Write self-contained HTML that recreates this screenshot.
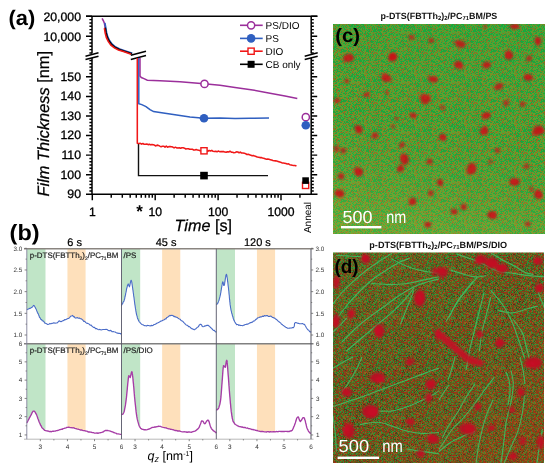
<!DOCTYPE html>
<html><head><meta charset="utf-8"><style>
html,body{margin:0;padding:0;background:#fff;}
svg{display:block;font-family:"Liberation Sans",sans-serif;will-change:transform;text-rendering:geometricPrecision;}
</style></head><body>
<svg width="550" height="471" viewBox="0 0 550 471">
<rect width="550" height="471" fill="#fff"/>
<g id="pa" stroke-linecap="butt">
<path d="M86,16.3H317.5M86,194.3H317.5" stroke="#000" stroke-width="1.5" fill="none"/>
<path d="M92.0,16.3V53.6M92.0,58V194.3M311.2,16.3V53.6M311.2,58V194.3" stroke="#000" stroke-width="1.5" fill="none"/>
<path d="M86.0,16.3H92.0M311.2,16.3H317.2M89.4,19.63H92.0M311.2,19.63H313.8M89.4,22.97H92.0M311.2,22.97H313.8M89.4,26.3H92.0M311.2,26.3H313.8M89.4,29.63H92.0M311.2,29.63H313.8M89.4,32.97H92.0M311.2,32.97H313.8M86.0,36.3H92.0M311.2,36.3H317.2M89.4,39.63H92.0M311.2,39.63H313.8M89.4,42.97H92.0M311.2,42.97H313.8M89.4,46.3H92.0M311.2,46.3H313.8M89.4,49.63H92.0M311.2,49.63H313.8M89.4,52.97H92.0M311.2,52.97H313.8M89.4,191.04H92.0M311.2,191.04H313.8M89.4,187.77H92.0M311.2,187.77H313.8M89.4,184.51H92.0M311.2,184.51H313.8M89.4,181.25H92.0M311.2,181.25H313.8M89.4,177.98H92.0M311.2,177.98H313.8M86.0,174.72H92.0M311.2,174.72H317.2M89.4,171.46H92.0M311.2,171.46H313.8M89.4,168.19H92.0M311.2,168.19H313.8M89.4,164.93H92.0M311.2,164.93H313.8M89.4,161.67H92.0M311.2,161.67H313.8M89.4,158.4H92.0M311.2,158.4H313.8M86.0,155.14H92.0M311.2,155.14H317.2M89.4,151.88H92.0M311.2,151.88H313.8M89.4,148.61H92.0M311.2,148.61H313.8M89.4,145.35H92.0M311.2,145.35H313.8M89.4,142.09H92.0M311.2,142.09H313.8M89.4,138.82H92.0M311.2,138.82H313.8M86.0,135.56H92.0M311.2,135.56H317.2M89.4,132.3H92.0M311.2,132.3H313.8M89.4,129.03H92.0M311.2,129.03H313.8M89.4,125.77H92.0M311.2,125.77H313.8M89.4,122.51H92.0M311.2,122.51H313.8M89.4,119.24H92.0M311.2,119.24H313.8M86.0,115.98H92.0M311.2,115.98H317.2M89.4,112.72H92.0M311.2,112.72H313.8M89.4,109.45H92.0M311.2,109.45H313.8M89.4,106.19H92.0M311.2,106.19H313.8M89.4,102.93H92.0M311.2,102.93H313.8M89.4,99.66H92.0M311.2,99.66H313.8M86.0,96.4H92.0M311.2,96.4H317.2M89.4,93.14H92.0M311.2,93.14H313.8M89.4,89.87H92.0M311.2,89.87H313.8M89.4,86.61H92.0M311.2,86.61H313.8M89.4,83.35H92.0M311.2,83.35H313.8M89.4,80.08H92.0M311.2,80.08H313.8M86.0,76.82H92.0M311.2,76.82H317.2M89.4,73.56H92.0M311.2,73.56H313.8M89.4,70.29H92.0M311.2,70.29H313.8M89.4,67.03H92.0M311.2,67.03H313.8M89.4,63.77H92.0M311.2,63.77H313.8M89.4,60.5H92.0M311.2,60.5H313.8M111.23,194.3V197.8M122.31,194.3V197.8M130.17,194.3V197.8M136.27,194.3V197.8M141.25,194.3V197.8M145.46,194.3V197.8M149.1,194.3V197.8M152.32,194.3V197.8M155.2,194.3V200.3M174.13,194.3V197.8M185.21,194.3V197.8M193.07,194.3V197.8M199.17,194.3V197.8M204.15,194.3V197.8M208.36,194.3V197.8M212,194.3V197.8M215.22,194.3V197.8M218.1,194.3V200.3M237.03,194.3V197.8M248.11,194.3V197.8M255.97,194.3V197.8M262.07,194.3V197.8M267.05,194.3V197.8M271.26,194.3V197.8M274.9,194.3V197.8M278.12,194.3V197.8M281,194.3V200.3M299.93,194.3V197.8M92.3,194.3V200.3" stroke="#000" stroke-width="1.45" fill="none"/>
<path d="M85.5,57.2L98.5,53.8L98.5,55.6L85.5,59Z" fill="#fff"/>
<path d="M85.5,56.2L98.5,52.8M85.5,59.6L98.5,56.2" stroke="#000" stroke-width="1.5"/>
<path d="M304.7,57.2L317.7,53.8L317.7,55.6L304.7,59Z" fill="#fff"/>
<path d="M304.7,56.2L317.7,52.8M304.7,59.6L317.7,56.2" stroke="#000" stroke-width="1.5"/>
<polyline points="102.1,18.3 103.4,20.8 104.4,23.2 105.2,27.5 106,32.5 107.2,37 109,40.8 111.7,44.5 115.2,47.3 119.2,49.3 124.2,51 131.9,53.6" stroke="#9b2f9b" stroke-width="1.6" fill="none"/>
<polyline points="104.9,22.9 105.7,27.2 106.5,32.2 107.7,36.7 109.5,40.5 112.2,44.2 115.7,47 119.7,49 124.7,50.7 132.4,53.3" stroke="#2f5fc0" stroke-width="1.6" fill="none"/>
<polyline points="105.2,27.7 106,32.7 107.2,37.2 109,41 111.7,44.7 115.2,47.5 119.2,49.5 124.2,51.2 131.9,53.8" stroke="#000" stroke-width="1.6" fill="none"/>
<polyline points="104.4,28.1 105.2,33.1 106.4,37.6 108.2,41.4 110.9,45.1 114.4,47.9 118.4,49.9 123.4,51.6 131.1,54.2" stroke="#f01818" stroke-width="1.6" fill="none"/>
<path d="M130.5,56.2L146.5,52.3L146.5,54.6L130.5,58.5Z" fill="#fff"/>
<path d="M130.8,55.2L146,51.2M130.8,59.4L146,55.4" stroke="#000" stroke-width="1.6"/>
<polyline points="138.5,143.5 138.5,175.6 268,175.6" stroke="#111" stroke-width="1.4" fill="none"/>
<polyline points="137.3,58 137.3,143.2 139,143.44 140.3,143.34 141.6,144.18 142.9,143.51 144.2,144.3 145.5,144.2 146.8,143.91 148.1,144.68 149.4,144.16 150.7,144.85 152,144.48 153.3,144.65 154.6,145.26 155.9,145.97 157.2,145.12 158.5,145.4 159.8,146.11 161.1,146.7 162.4,146.32 163.7,146.21 165,147.16 166.3,146 167.6,147.27 168.9,146.62 170.2,146.55 171.5,146.66 172.8,147.06 174.1,147.91 175.4,147.17 176.7,147.87 178,148.09 179.3,147.86 180.6,148.24 181.9,147.7 183.2,147.84 184.5,148.18 185.8,148.99 187.1,148.77 188.4,148.76 189.7,149.28 191,149.23 192.3,149.16 193.6,149.99 194.9,150 196.2,149.5 197.5,150.1 198.8,150.17 200.1,150.8 201.4,150.74 202.7,150.26 204,151.37 205.3,150.22 206.6,150.7 207.9,151.23 209.2,150.44 210.5,150.97 211.8,150.4 213.1,151.34 214.4,151.53 215.7,151.32 217,151.8 218.3,151.07 219.6,151.66 220.9,151.58 222.2,151.61 223.5,151.5 224.8,152.09 226.1,152.3 227.4,151.7 228.7,152.02 230,151.23 231.3,152.19 232.6,152.17 233.9,152.71 235.2,152.53 236.5,151.83 237.8,152.03 239.1,152.7 240.4,152.1 241.7,153.02 243,152.91 244.3,153.15 245.6,153.68 246.9,154.49 248.2,154.35 249.5,154.74 250.8,155.14 252.1,155.79 253.4,155.54 254.7,156.1 256,156.48 257.3,157.02 258.6,157.28 259.9,157.62 261.2,157.52 262.5,157.92 263.8,158.19 265.1,158.86 266.4,159.22 267.7,158.96 269,159.29 270.3,159.63 271.6,159.94 272.9,160.42 274.2,160.8 275.5,160.88 276.8,161.01 278.1,161.6 279.4,161.87 280.7,162.32 282,162.9 283.3,163.02 284.6,163.2 285.9,163.58 287.2,163.93 288.5,163.8 289.8,164.7 291.1,164.92 292.4,165.29 293.7,165.55 295,165.57 296.3,165.88 296.5,166" stroke="#f01818" stroke-width="1.55" fill="none" stroke-linejoin="round"/>
<polyline points="138.8,58 138.8,103.6 141.8,104.6 146,106.6 150,109.6 153.6,111.6 160,112.6 170,114.1 180,115.6 190,117 204,118.2 220,118.1 235,118.4 250,118.2 269,118" stroke="#2f5fc0" stroke-width="1.5" fill="none"/>
<polyline points="140,58 140,76 141.3,77.5 144,78.6 147.3,80.2 160,80.8 180,81.8 195,83 204,83.8 220,85.2 235,87.4 252.7,90 270,93.2 285,95.9 297.3,98.4" stroke="#9b2f9b" stroke-width="1.5" fill="none"/>
<circle cx="204.5" cy="83.9" r="3.6" fill="#fff" stroke="#9b2f9b" stroke-width="1.5"/>
<circle cx="204" cy="118.3" r="4.3" fill="#2f5fc0"/>
<rect x="200.9" y="147.70000000000002" width="6.2" height="6.2" fill="#fff" stroke="#f01818" stroke-width="1.4"/>
<rect x="200.2" y="171.79999999999998" width="7.6" height="7.6" fill="#000"/>
<circle cx="305.8" cy="117.2" r="3.6" fill="#fff" stroke="#9b2f9b" stroke-width="1.5"/>
<circle cx="305.8" cy="125.3" r="4.3" fill="#2f5fc0"/>
<rect x="302.5" y="182.3" width="6.2" height="6.2" fill="#fff" stroke="#f01818" stroke-width="1.4"/>
<rect x="302.3" y="177.29999999999998" width="6.6" height="6.6" fill="#000"/>
<path d="M240,25.3H262.7" stroke="#9b2f9b" stroke-width="1.6"/>
<circle cx="251.1" cy="25.3" r="3.6" fill="#fff" stroke="#9b2f9b" stroke-width="1.5"/>
<text x="265.6" y="28.9" font-size="10">PS/DIO</text>
<path d="M240,38.4H262.7" stroke="#2f5fc0" stroke-width="1.6"/>
<circle cx="251.1" cy="38.4" r="4.3" fill="#2f5fc0"/>
<text x="265.6" y="42" font-size="10">PS</text>
<path d="M240,51.2H262.7" stroke="#f01818" stroke-width="1.6"/>
<rect x="248.0" y="48.1" width="6.2" height="6.2" fill="#fff" stroke="#f01818" stroke-width="1.4"/>
<text x="265.6" y="54.8" font-size="10">DIO</text>
<path d="M240,64.3H262.7" stroke="#000" stroke-width="1.6"/>
<rect x="247.6" y="60.8" width="7" height="7" fill="#000"/>
<text x="265.6" y="67.9" font-size="10">CB only</text>
<g font-size="12.3" text-anchor="end" stroke="#000" stroke-width="0.3">
<text x="81" y="20.7">20,000</text><text x="81" y="40.6">10,000</text>
<text x="81" y="198.2">90</text>
<text x="81" y="178.62">100</text>
<text x="81" y="159.04">110</text>
<text x="81" y="139.46">120</text>
<text x="81" y="119.88">130</text>
<text x="81" y="100.3">140</text>
<text x="81" y="80.72">150</text>
</g>
<g font-size="12.2" text-anchor="middle" stroke="#000" stroke-width="0.3">
<text x="92.3" y="215.6">1</text>
<text x="155.2" y="215.6">10</text>
<text x="218.1" y="215.6">100</text>
<text x="281" y="215.6">1000</text>
</g>
<text x="139.5" y="217" font-size="17" font-weight="bold" text-anchor="middle">*</text>
<text x="174.6" y="231" font-size="16.2" stroke="#000" stroke-width="0.25"><tspan font-style="italic">Time</tspan> [s]</text>
<text transform="translate(49.4,123.7) rotate(-90)" font-size="16.4" stroke="#000" stroke-width="0.25" text-anchor="middle" textLength="145.5" lengthAdjust="spacingAndGlyphs"><tspan font-style="italic">Film Thickness</tspan> [nm]</text>
<text transform="translate(310.6,217.5) rotate(-90)" font-size="10" text-anchor="middle">Anneal</text>
<text x="8.5" y="25" font-size="21" font-weight="bold" textLength="26.7" lengthAdjust="spacingAndGlyphs">(a)</text>
</g>
<g id="pb">
<clipPath id="clip00"><path d="M26.8,309.7C27.17,309.5 28.22,308.9 29,308.5C29.78,308.1 30.6,307.73 31.5,307.3C32.4,306.87 33.48,305.2 34.4,305.9C35.32,306.6 36.03,309.45 37,311.5C37.97,313.55 39.2,316.58 40.2,318.2C41.2,319.82 41.95,320.25 43,321.2C44.05,322.15 45.33,323.5 46.5,323.9C47.67,324.3 48.77,323.75 50,323.6C51.23,323.45 52.73,323.17 53.9,323C55.07,322.83 56.12,322.93 57,322.6C57.88,322.27 58.53,321.1 59.2,321C59.87,320.9 60.2,322.12 61,322C61.8,321.88 62.7,320.93 64,320.3C65.3,319.67 67.47,318.98 68.8,318.2C70.13,317.42 70.97,315.7 72,315.6C73.03,315.5 73.77,317.17 75,317.6C76.23,318.03 78.07,317.72 79.4,318.2C80.73,318.68 81.58,319.62 83,320.5C84.42,321.38 86.4,322.58 87.9,323.5C89.4,324.42 90.58,325.12 92,326C93.42,326.88 94.9,328.2 96.4,328.8C97.9,329.4 99.23,329.42 101,329.6C102.77,329.78 105.17,329.62 107,329.9C108.83,330.18 110.5,330.87 112,331.3C113.5,331.73 114.72,332.1 116,332.5C117.28,332.9 118.78,333.55 119.7,333.7C120.62,333.85 121.2,333.45 121.5,333.4L121.5,248.8L26.8,248.8Z"/></clipPath>
<rect x="26.8" y="248.8" width="18.69" height="95" fill="#c0e5c7" clip-path="url(#clip00)"/>
<rect x="67.44" y="248.8" width="18.15" height="95" fill="#fee0bb" clip-path="url(#clip00)"/>
<clipPath id="clip01"><path d="M121.5,305.5C122,304.43 123.63,301.93 124.5,299.1C125.37,296.27 126.08,290.98 126.7,288.5C127.32,286.02 127.75,284.55 128.2,284.2C128.65,283.85 128.88,287 129.4,286.4C129.92,285.8 130.7,279.9 131.3,280.6C131.9,281.3 132.35,286.28 133,290.6C133.65,294.92 134.48,302.08 135.2,306.5C135.92,310.92 136.42,314.33 137.3,317.1C138.18,319.87 139.08,321.68 140.5,323.1C141.92,324.52 143.68,325.25 145.8,325.6C147.92,325.95 150.55,325.97 153.2,325.2C155.85,324.43 159.57,322.12 161.7,321C163.83,319.88 164.52,319.43 166,318.5C167.48,317.57 169.27,315.73 170.6,315.4C171.93,315.07 172.67,316.03 174,316.5C175.33,316.97 177.1,317.32 178.6,318.2C180.1,319.08 181.58,320.63 183,321.8C184.42,322.97 185.35,323.93 187.1,325.2C188.85,326.47 191.73,329.05 193.5,329.4C195.27,329.75 196.57,328.22 197.7,327.3C198.83,326.38 199.42,324 200.3,323.9C201.18,323.8 202.05,326.45 203,326.7C203.95,326.95 205.12,325.58 206,325.4C206.88,325.22 207.2,324.93 208.3,325.6C209.4,326.27 211.27,328.27 212.6,329.4C213.93,330.53 215.68,331.9 216.3,332.4L216.3,248.8L121.5,248.8Z"/></clipPath>
<rect x="121.5" y="248.8" width="18.69" height="95" fill="#c0e5c7" clip-path="url(#clip01)"/>
<rect x="162.13" y="248.8" width="18.15" height="95" fill="#fee0bb" clip-path="url(#clip01)"/>
<clipPath id="clip02"><path d="M216.3,304.3C216.63,303.95 217.6,303.9 218.3,302.2C219,300.5 219.77,297.45 220.5,294.1C221.23,290.75 222.08,283.55 222.7,282.1C223.32,280.65 223.58,286.67 224.2,285.4C224.82,284.13 225.68,273.97 226.4,274.5C227.12,275.03 227.78,282.97 228.5,288.6C229.22,294.23 229.78,303.02 230.7,308.3C231.62,313.58 232.9,317.58 234,320.3C235.1,323.02 235.85,323.77 237.3,324.6C238.75,325.43 240.33,325.65 242.7,325.3C245.07,324.95 248.95,323.7 251.5,322.5C254.05,321.3 256.25,319.1 258,318.1C259.75,317.1 260.55,316.87 262,316.5C263.45,316.13 264.82,315.75 266.7,315.9C268.58,316.05 271.12,316.3 273.3,317.4C275.48,318.5 277.62,320.82 279.8,322.5C281.98,324.18 284.58,326.52 286.4,327.5C288.22,328.48 289.43,328.52 290.7,328.4C291.97,328.28 293.27,327.78 294,326.8C294.73,325.82 294.18,322.97 295.1,322.5C296.02,322.03 298.05,323.75 299.5,324C300.95,324.25 302.53,323.17 303.8,324C305.07,324.83 305.9,327.62 307.1,329C308.3,330.38 310.35,331.75 311,332.3L311,248.8L216.3,248.8Z"/></clipPath>
<rect x="216.3" y="248.8" width="18.69" height="95" fill="#c0e5c7" clip-path="url(#clip02)"/>
<rect x="256.94" y="248.8" width="18.15" height="95" fill="#fee0bb" clip-path="url(#clip02)"/>
<clipPath id="clip10"><path d="M26.8,422.9C27.33,421.9 28.9,418.83 30,416.9C31.1,414.97 32.4,411.85 33.4,411.3C34.4,410.75 35.07,411.92 36,413.6C36.93,415.28 37.95,419 39,421.4C40.05,423.8 41.02,426.4 42.3,428C43.58,429.6 44.85,430.43 46.7,431C48.55,431.57 51.17,431.6 53.4,431.4C55.63,431.2 57.87,430.43 60.1,429.8C62.33,429.17 64.93,427.97 66.8,427.6C68.67,427.23 69.43,427.33 71.3,427.6C73.17,427.87 75.4,428.57 78,429.2C80.6,429.83 83.93,430.73 86.9,431.4C89.87,432.07 93.2,433.05 95.8,433.2C98.4,433.35 100.83,432.78 102.5,432.3C104.17,431.82 104.32,430.45 105.8,430.3C107.28,430.15 109.35,430.77 111.4,431.4C113.45,432.03 116.42,433.58 118.1,434.1C119.78,434.62 120.93,434.43 121.5,434.5L121.5,343.8L26.8,343.8Z"/></clipPath>
<rect x="26.8" y="343.8" width="18.69" height="95.4" fill="#c0e5c7" clip-path="url(#clip10)"/>
<rect x="67.44" y="343.8" width="18.15" height="95.4" fill="#fee0bb" clip-path="url(#clip10)"/>
<clipPath id="clip11"><path d="M121.5,414.7C121.9,414.32 123.13,414.82 123.9,412.4C124.67,409.98 125.43,405.2 126.1,400.2C126.77,395.2 127.45,386.48 127.9,382.4C128.35,378.32 128.42,376.53 128.8,375.7C129.18,374.87 129.68,378.03 130.2,377.4C130.72,376.77 131.38,371.07 131.9,371.9C132.42,372.73 132.77,377.32 133.3,382.4C133.83,387.48 134.43,396.28 135.1,402.4C135.77,408.52 136.38,414.82 137.3,419.1C138.22,423.38 139.12,426.35 140.6,428.1C142.08,429.85 144.15,429.72 146.2,429.6C148.25,429.48 150.67,427.92 152.9,427.4C155.13,426.88 157.37,426.38 159.6,426.5C161.83,426.62 163.7,427.47 166.3,428.1C168.9,428.73 172.23,429.68 175.2,430.3C178.17,430.92 181.13,431.55 184.1,431.8C187.07,432.05 190.58,432.42 193,431.8C195.42,431.18 197.12,429.95 198.6,428.1C200.08,426.25 200.87,421.45 201.9,420.7C202.93,419.95 203.75,423.67 204.8,423.6C205.85,423.53 207.12,419.55 208.2,420.3C209.28,421.05 209.95,425.95 211.3,428.1C212.65,430.25 215.47,432.35 216.3,433.2L216.3,343.8L121.5,343.8Z"/></clipPath>
<rect x="121.5" y="343.8" width="18.69" height="95.4" fill="#c0e5c7" clip-path="url(#clip11)"/>
<rect x="162.13" y="343.8" width="18.15" height="95.4" fill="#fee0bb" clip-path="url(#clip11)"/>
<clipPath id="clip12"><path d="M216.3,410C216.62,409.82 217.5,410.45 218.2,408.9C218.9,407.35 219.85,405.18 220.5,400.7C221.15,396.22 221.6,387.83 222.1,382C222.6,376.17 222.98,368.1 223.5,365.7C224.02,363.3 224.65,368.47 225.2,367.6C225.75,366.73 226.3,359.27 226.8,360.5C227.3,361.73 227.7,369.08 228.2,375C228.7,380.92 229.22,389.38 229.8,396C230.38,402.62 231,410.22 231.7,414.7C232.4,419.18 232.75,420.95 234,422.9C235.25,424.85 237.37,425.62 239.2,426.4C241.03,427.18 242.87,427.1 245,427.6C247.13,428.1 249.67,428.82 252,429.4C254.33,429.98 256.27,430.7 259,431.1C261.73,431.5 264.9,431.73 268.4,431.8C271.9,431.87 276.3,431.62 280,431.5C283.7,431.38 288.27,431.95 290.6,431.1C292.93,430.25 292.83,428.75 294,426.4C295.17,424.05 296.53,417.85 297.6,417C298.67,416.15 299.35,421.22 300.4,421.3C301.45,421.38 302.82,416.45 303.9,417.5C304.98,418.55 306.02,425.15 306.9,427.6C307.78,430.05 308.52,431.23 309.2,432.2C309.88,433.17 310.7,433.2 311,433.4L311,343.8L216.3,343.8Z"/></clipPath>
<rect x="216.3" y="343.8" width="18.69" height="95.4" fill="#c0e5c7" clip-path="url(#clip12)"/>
<rect x="256.94" y="343.8" width="18.15" height="95.4" fill="#fee0bb" clip-path="url(#clip12)"/>
<g font-size="8" fill="#222" stroke="#222" stroke-width="0.18">
<text x="29.8" y="258.4" textLength="88.6" lengthAdjust="spacingAndGlyphs">p-DTS(FBTTh<tspan font-size="5" dy="1.5">2</tspan><tspan dy="-1.5">)</tspan><tspan font-size="5" dy="1.5">2</tspan><tspan dy="-1.5">/PC</tspan><tspan font-size="5" dy="1.5">71</tspan><tspan dy="-1.5">BM</tspan></text>
<text x="29.8" y="353.4" textLength="88.6" lengthAdjust="spacingAndGlyphs">p-DTS(FBTTh<tspan font-size="5" dy="1.5">2</tspan><tspan dy="-1.5">)</tspan><tspan font-size="5" dy="1.5">2</tspan><tspan dy="-1.5">/PC</tspan><tspan font-size="5" dy="1.5">71</tspan><tspan dy="-1.5">BM</tspan></text>
<text x="123.5" y="258.4">/PS</text>
<text x="123.5" y="353.4">/PS/DIO</text>
</g>
<polyline points="26.8,309.7 27.74,309.29 29,308.72 29.8,308.37 30.63,308.11 31.5,307.52 32.45,306.97 33.44,305.43 34.4,305.87 34.84,306.81 35.27,307.34 35.68,308.55 36.1,308.94 36.54,310.39 37,311.27 37.37,312.35 37.77,313.25 38.17,313.66 38.59,314.76 39,315.71 39.41,317.13 39.82,317.77 40.2,317.89 40.91,319.48 41.58,319.62 42.26,320.66 43,320.86 43.83,321.52 44.71,323.09 45.61,323.18 46.5,323.64 47.65,324.47 48.8,324.17 50,323.41 50.97,323.88 51.97,323.34 52.97,323.3 53.9,322.73 55.03,323.29 56.06,322.99 57,323.02 57.81,322.41 58.53,321.2 59.2,320.88 60.05,321.21 61,321.68 61.84,321.26 62.82,320.82 64,320.39 64.87,319.47 65.87,319.67 66.91,318.95 67.91,318.49 68.8,318.49 69.72,317.46 70.51,316.48 71.25,315.92 72,315.78 72.73,315.41 73.43,316.83 74.16,316.66 75,317.82 76.02,318.12 77.16,317.45 78.32,318.22 79.4,318.08 80.33,318.71 81.17,318.76 82.03,319.43 83,320.21 83.75,321.37 84.57,321.19 85.42,322.22 86.28,322.9 87.11,323.42 87.9,323.36 88.77,323.9 89.58,324.54 90.38,325.25 91.17,325.14 92,326.22 92.86,326.84 93.73,327.52 94.61,327.39 95.5,328.76 96.4,328.43 97.28,328.95 98.16,329.39 99.05,329.79 99.99,329.36 101,329.98 101.93,329.71 102.93,329.53 103.97,329.55 105.02,329.45 106.04,329.41 107,329.58 108.08,330.28 109.12,330.84 110.12,330.4 111.08,330.61 112,331.74 113.08,331.64 114.08,331.83 115.04,331.97 116,332.58 116.99,333.13 117.99,333.15 118.92,333.44 119.7,333.3 120.83,334 121.5,333.4" stroke="#4a6cc8" stroke-width="1.1" fill="none" stroke-linejoin="round"/>
<polyline points="121.5,305.5 121.78,304.54 122.16,304.25 122.62,303.73 123.11,302.14 123.61,301.63 124.09,300.7 124.5,299.22 124.71,298.6 124.92,297.15 125.12,296.54 125.32,295.33 125.51,294.97 125.69,293.48 125.87,292.64 126.05,292.17 126.22,291.12 126.38,290.38 126.54,289.13 126.7,288.49 127.05,287.34 127.36,286 127.66,284.96 127.93,284.46 128.2,283.88 128.77,285.28 129.4,286.84 129.68,286.13 129.99,284.59 130.32,283.01 130.66,281.51 130.99,280.38 131.3,280.4 131.46,281.15 131.61,281.71 131.76,281.9 131.91,283.08 132.06,283.99 132.2,284.94 132.35,286.01 132.51,287.25 132.66,288.09 132.83,289.59 133,290.4 133.12,291.38 133.24,292.48 133.36,293.29 133.49,293.86 133.61,295.41 133.74,296.12 133.88,297.06 134.01,297.56 134.14,299.06 134.28,299.81 134.41,301.2 134.55,302 134.68,303.28 134.81,304.07 134.94,305.1 135.07,305.56 135.2,306.63 135.37,307.8 135.54,308.92 135.71,309.5 135.87,310.9 136.03,311.86 136.19,312.59 136.35,313.71 136.52,314.51 136.7,314.91 136.89,315.69 137.09,316.09 137.3,317.4 137.68,318.62 138.07,319.23 138.48,320.35 138.92,321.21 139.4,321.98 139.92,322.17 140.5,323.35 141.24,323.83 142.03,324.45 142.89,324.68 143.8,325.22 144.77,325.64 145.8,325.72 146.62,325.91 147.48,325.37 148.37,325.52 149.3,325.77 150.25,325.89 151.22,325.38 152.21,325.62 153.2,325.32 154.02,324.51 154.9,324.55 155.8,323.92 156.72,323.31 157.64,322.9 158.55,322.58 159.42,321.97 160.25,321.52 161.02,320.95 161.7,320.97 162.82,320.29 163.71,320.01 164.46,319.54 165.19,318.78 166,318.86 166.76,317.52 167.56,317.27 168.36,316.53 169.14,316.06 169.9,315.33 170.6,315.7 171.78,315.32 172.82,315.52 174,316.6 174.85,316.41 175.76,317.09 176.72,317.21 177.67,317.8 178.6,318.61 179.35,318.98 180.09,319.19 180.83,320.18 181.56,320.67 182.29,321.07 183,321.48 183.8,322.57 184.55,323.19 185.31,324.2 186.14,324.89 187.1,325.3 187.8,325.6 188.59,326.7 189.43,326.54 190.29,327.29 191.16,328.31 192,328.88 192.79,328.85 193.5,329.52 194.51,329.76 195.42,328.96 196.24,328.47 197,327.66 197.7,327.11 198.46,326.82 199.09,325.19 199.68,324.76 200.3,324.27 200.96,324.35 201.62,324.95 202.3,326.58 203,326.7 204,326.44 205.04,325.71 206,325.84 207.07,325.17 208.3,325.41 208.91,326.01 209.61,326.29 210.36,327.43 211.14,328.01 211.89,328.59 212.6,329.65 213.44,330.39 214.3,330.36 215.12,331.48 215.81,331.8 216.3,332.4" stroke="#4a6cc8" stroke-width="1.1" fill="none" stroke-linejoin="round"/>
<polyline points="216.3,304.3 216.81,304.37 217.54,303.68 218.3,301.97 218.54,301.38 218.78,300.57 219.02,300.53 219.26,299.04 219.51,298.39 219.76,297.29 220.01,296.41 220.25,295.3 220.5,294.32 220.67,292.92 220.85,292.55 221.02,291.1 221.2,290.22 221.38,288.92 221.56,287.76 221.73,286.87 221.9,285.75 222.07,284.67 222.24,284.13 222.4,283.22 222.55,282.12 222.7,281.88 223.11,282.14 223.45,284.06 223.79,285.56 224.2,285.44 224.36,284.47 224.53,284.37 224.7,283.02 224.89,281.96 225.07,280.79 225.26,279.39 225.45,277.97 225.65,277.18 225.84,275.7 226.03,274.94 226.22,274.89 226.4,274.23 226.54,274.52 226.68,275.38 226.82,275.24 226.96,276.62 227.1,277.32 227.24,278.01 227.38,278.9 227.52,280.45 227.66,281.73 227.8,282.24 227.94,283.77 228.08,285.07 228.22,286.24 228.36,287.29 228.5,288.29 228.6,289.46 228.69,290.49 228.79,290.67 228.88,291.7 228.97,293.14 229.06,294.04 229.15,294.87 229.25,295.25 229.34,296.84 229.43,298.04 229.53,299.03 229.62,299.73 229.72,300.11 229.81,301.78 229.92,302.16 230.02,303.46 230.12,304.64 230.23,305.3 230.34,305.63 230.46,306.59 230.58,307.93 230.7,307.98 230.92,309.6 231.15,310.57 231.39,311.45 231.63,312.92 231.89,313.42 232.15,314.44 232.41,315.61 232.68,316.21 232.95,317.03 233.22,318.28 233.48,319.17 233.74,319.99 234,319.97 234.53,321.44 235.02,322.27 235.52,323.25 236.04,323.71 236.63,324.58 237.3,324.49 238.04,324.57 238.82,325.41 239.66,325.08 240.57,325.58 241.58,325.43 242.7,325.67 243.45,325.22 244.28,325.1 245.16,324.55 246.09,324.56 247.03,324 247.98,324.13 248.92,323.58 249.83,322.89 250.7,322.62 251.5,322.38 252.44,322.22 253.35,321.16 254.22,321.04 255.05,320.36 255.85,319.24 256.6,319.19 257.32,318.16 258,317.76 259.16,317.56 260.11,316.83 261.01,317.1 262,316.48 262.86,316.12 263.74,316.35 264.65,315.52 265.63,316.07 266.7,315.5 267.54,315.66 268.45,316.48 269.4,316.37 270.38,316.15 271.37,316.3 272.35,317.4 273.3,317.55 274.03,318.1 274.75,317.97 275.47,318.95 276.19,319.29 276.91,319.8 277.63,320.52 278.35,321.41 279.07,321.78 279.8,322.4 280.54,322.76 281.3,323.99 282.08,324.46 282.85,325.23 283.62,325.5 284.37,326.46 285.09,326.68 285.77,327.21 286.4,327.57 287.66,328.29 288.76,328.27 289.75,328.08 290.7,327.98 291.65,327.97 292.55,327.51 293.35,327.8 294,326.78 294.35,326.01 294.48,324.01 294.64,323.2 295.1,322.85 295.77,322.56 296.63,322.69 297.59,323.2 298.57,323.34 299.5,323.69 300.61,323.68 301.72,323.67 302.8,323.58 303.8,324.34 304.4,324.25 304.95,325.14 305.47,326.09 305.99,326.97 306.53,328.02 307.1,328.76 307.9,329.81 308.8,330.18 309.69,331.68 310.46,331.76 311,332.3" stroke="#4a6cc8" stroke-width="1.1" fill="none" stroke-linejoin="round"/>
<polyline points="26.8,422.9 27.09,422.57 27.48,421.71 27.94,420.81 28.45,419.74 28.98,418.98 29.5,417.6 30,416.98 30.48,415.91 30.98,415.13 31.49,414.17 31.99,412.96 32.48,412.16 32.95,411.44 33.4,411.17 34.31,411.07 35.13,412.08 36,413.84 36.31,414.16 36.63,414.89 36.96,415.82 37.29,416.65 37.62,417.83 37.96,418.79 38.31,419.47 38.65,420.43 39,421.49 39.39,422.53 39.78,423.29 40.17,424.09 40.56,425.24 40.97,425.59 41.39,426.41 41.83,427.5 42.3,427.96 43.07,428.64 43.87,429.61 44.72,430.4 45.66,430.63 46.7,430.93 47.54,431.01 48.45,431.15 49.41,431.66 50.41,431.5 51.42,431.73 52.42,431.25 53.4,431.27 54.36,431.06 55.31,431.05 56.27,430.67 57.23,430.51 58.19,430.31 59.14,429.98 60.1,429.58 61.08,429.27 62.08,429.39 63.09,428.62 64.08,428.42 65.05,428.04 65.96,427.82 66.8,427.39 67.81,427.34 68.65,427.17 69.45,427.4 70.29,427.67 71.3,427.65 72.12,427.92 72.99,427.78 73.9,427.9 74.86,428.41 75.86,428.65 76.91,428.96 78,429.14 78.8,429.46 79.64,429.72 80.51,430.03 81.4,429.96 82.31,430.26 83.23,430.68 84.16,430.61 85.08,430.78 86,431.1 86.9,431.19 87.8,431.74 88.72,431.99 89.64,431.96 90.57,432.09 91.49,432.28 92.4,432.57 93.29,432.66 94.16,432.98 95,433.17 95.8,433.07 96.9,433 97.97,433.27 99,432.83 99.98,432.75 100.9,432.61 101.74,432.45 102.5,432.1 103.51,431.76 104.22,431.08 104.89,430.73 105.8,430.33 106.59,430.48 107.46,430.45 108.39,430.69 109.37,430.84 110.38,431.06 111.4,431.56 112.21,431.75 113.08,432.24 113.98,432.51 114.89,432.89 115.78,433.07 116.63,433.71 117.41,433.8 118.1,433.92 119.6,434.2 120.74,434.32 121.5,434.5" stroke="#a63ca6" stroke-width="1.35" fill="none" stroke-linejoin="round"/>
<polyline points="121.5,414.7 122.13,414.35 123.03,414.07 123.9,412.29 124.08,411.58 124.25,411.26 124.43,410.4 124.6,409.32 124.78,408.46 124.95,407.57 125.12,406.7 125.29,405.93 125.46,404.92 125.62,403.66 125.79,402.35 125.94,401.31 126.1,400.13 126.21,399.3 126.31,398.26 126.42,397.63 126.52,396.79 126.63,395.75 126.73,394.41 126.83,393.59 126.93,392.37 127.03,391.59 127.13,390.41 127.23,389.62 127.32,388.53 127.41,387.2 127.5,386.34 127.59,385.72 127.67,384.63 127.75,383.8 127.83,383.05 127.9,382.53 128.07,381.01 128.21,379.45 128.32,378.55 128.43,377.45 128.53,376.48 128.65,376.28 128.8,375.66 129.45,376.25 130.2,377.64 130.47,376.48 130.76,375.55 131.05,374.09 131.34,373.01 131.63,371.92 131.9,371.76 132.04,372.11 132.17,372.56 132.29,373.38 132.41,374.07 132.53,375.18 132.65,375.95 132.77,377.14 132.9,378.29 133.03,379.94 133.16,381.2 133.3,382.57 133.37,383.17 133.45,383.82 133.52,384.49 133.6,385.67 133.67,386.36 133.75,387.03 133.83,388.01 133.91,388.91 133.99,390.18 134.07,391.23 134.15,391.86 134.23,393.15 134.32,393.9 134.4,395.06 134.48,396.13 134.57,396.99 134.66,398.04 134.74,398.77 134.83,399.52 134.92,400.68 135.01,401.59 135.1,402.24 135.21,403.37 135.32,404.35 135.43,405.23 135.54,406.39 135.65,407.43 135.76,408.48 135.88,409.59 135.99,410.42 136.11,411.68 136.22,412.54 136.35,413.53 136.47,414.32 136.6,415.2 136.73,415.99 136.87,416.95 137.01,417.53 137.15,418.41 137.3,419.19 137.58,420.36 137.85,421.4 138.14,422.39 138.43,423.41 138.74,424.48 139.06,425.45 139.41,426.32 139.78,427.01 140.17,427.44 140.6,428.31 141.39,428.71 142.26,429.4 143.19,429.34 144.17,429.78 145.18,429.74 146.2,429.83 147.1,429.67 148.03,429.3 148.99,429.02 149.97,428.57 150.95,428.1 151.93,427.53 152.9,427.41 153.86,427.38 154.81,426.84 155.77,427.03 156.73,426.66 157.69,426.48 158.64,426.24 159.6,426.45 160.54,426.43 161.45,426.83 162.36,427.18 163.27,427.45 164.23,427.58 165.23,427.76 166.3,427.9 167.1,428.39 167.94,428.54 168.81,428.85 169.7,428.91 170.61,429.4 171.53,429.3 172.46,429.58 173.38,429.78 174.3,430.17 175.2,430.5 176.09,430.32 176.98,430.74 177.87,430.98 178.76,430.88 179.65,430.97 180.54,431.37 181.43,431.65 182.32,431.8 183.21,431.83 184.1,431.76 185.11,431.85 186.14,431.99 187.19,432.25 188.24,432.01 189.27,432.03 190.28,432.18 191.24,432.31 192.16,431.81 193,431.57 193.99,431.31 194.91,431.15 195.75,430.72 196.53,429.98 197.26,429.38 197.95,428.9 198.6,428.17 199.07,427.48 199.5,426.62 199.89,425.31 200.25,424.49 200.59,423.65 200.91,422.77 201.24,421.63 201.56,421.27 201.9,420.77 202.64,421.06 203.34,421.76 204.05,423.17 204.8,423.77 205.45,423.15 206.14,421.99 206.84,420.97 207.53,420.18 208.2,420.1 208.55,420.52 208.87,421.4 209.19,421.98 209.49,423.28 209.81,424.33 210.14,425.45 210.49,426.49 210.87,427.4 211.3,428.31 211.96,429.24 212.74,429.97 213.57,430.97 214.41,431.31 215.18,431.99 215.83,432.54 216.3,433.2" stroke="#a63ca6" stroke-width="1.35" fill="none" stroke-linejoin="round"/>
<polyline points="216.3,410 217.11,409.82 218.2,408.84 218.44,408.34 218.7,407.85 218.96,407.2 219.23,406.11 219.5,405.41 219.77,404.5 220.03,403.3 220.27,401.92 220.5,400.75 220.6,399.94 220.69,399.34 220.78,398.44 220.87,397.82 220.95,396.93 221.04,395.57 221.12,394.97 221.2,393.97 221.28,392.76 221.36,391.66 221.43,390.83 221.51,389.74 221.58,388.9 221.66,387.97 221.73,386.69 221.8,385.65 221.88,384.77 221.95,383.92 222.03,383.04 222.1,382.04 222.18,380.91 222.26,379.9 222.34,379.11 222.42,377.88 222.5,376.57 222.57,375.68 222.65,374.51 222.72,373.68 222.79,372.35 222.87,371.45 222.94,370.4 223.02,369.69 223.09,369.08 223.17,368.07 223.25,367.28 223.33,366.92 223.42,365.95 223.5,365.63 224.34,366.23 225.2,367.35 225.41,367.13 225.61,365.88 225.82,364.41 226.02,363.14 226.22,361.96 226.42,360.91 226.61,360.42 226.8,360.28 226.89,360.66 226.98,361.47 227.07,361.76 227.16,362.44 227.25,363.01 227.33,363.96 227.42,365.23 227.5,366.09 227.58,367.05 227.67,367.91 227.75,369.21 227.84,370.55 227.93,371.54 228.02,372.78 228.11,374.08 228.2,375.07 228.27,375.85 228.33,376.37 228.4,377.2 228.46,378.43 228.53,379.13 228.6,380.26 228.66,381.15 228.73,382.12 228.8,382.79 228.87,384.05 228.93,384.89 229,385.91 229.07,386.51 229.14,387.79 229.21,388.57 229.28,389.8 229.36,390.77 229.43,391.33 229.5,392.36 229.58,393.21 229.65,394.22 229.72,395.02 229.8,396.08 229.89,396.81 229.98,397.85 230.06,399.01 230.15,399.84 230.24,401.02 230.34,402.31 230.43,403.33 230.52,404 230.61,404.92 230.71,406.31 230.8,407.36 230.9,408.14 230.99,408.84 231.09,409.8 231.19,411.03 231.29,411.89 231.39,412.25 231.49,413.11 231.6,413.97 231.7,414.58 231.92,416.22 232.13,417.25 232.33,418.52 232.54,419.15 232.76,420.16 233,421.14 233.29,421.7 233.61,422.05 234,422.71 234.69,423.85 235.5,424.44 236.38,425.02 237.31,425.57 238.27,426.05 239.2,426.63 240.12,426.6 241.04,426.98 241.99,426.99 242.96,427.26 243.96,427.51 245,427.42 245.82,427.79 246.67,428.11 247.54,427.99 248.43,428.6 249.32,428.67 250.22,428.95 251.12,429.23 252,429.55 252.86,429.4 253.69,429.86 254.52,429.86 255.35,430.26 256.2,430.46 257.08,430.51 258.01,430.83 259,431.08 259.83,431.29 260.69,431.53 261.57,431.35 262.48,431.52 263.41,431.68 264.37,431.86 265.34,431.92 266.34,431.98 267.36,431.68 268.4,431.63 269.29,432.03 270.22,431.6 271.17,431.77 272.14,431.9 273.13,431.77 274.12,431.66 275.13,431.89 276.13,431.54 277.12,431.63 278.1,431.73 279.06,431.35 280,431.43 281.03,431.48 282.09,431.52 283.16,431.37 284.23,431.52 285.29,431.35 286.33,431.37 287.32,431.49 288.26,431.34 289.12,431.67 289.91,431.18 290.6,430.99 291.58,430.76 292.26,430.15 292.74,429.19 293.12,428.64 293.51,427.57 294,426.34 294.32,425.73 294.65,424.66 294.99,423.69 295.33,422.94 295.67,421.64 296.01,420.81 296.34,419.45 296.67,418.52 296.99,417.71 297.3,417.48 297.6,417.03 298.2,416.87 298.74,417.89 299.27,419.67 299.81,420.74 300.4,421.49 301.06,420.61 301.77,419.74 302.5,418.22 303.22,417.61 303.9,417.56 304.19,417.97 304.49,418.43 304.77,419.63 305.06,420.19 305.34,421.24 305.61,422.69 305.88,423.54 306.15,424.65 306.4,425.89 306.66,426.91 306.9,427.8 307.41,429.04 307.89,429.78 308.35,430.94 308.78,431.76 309.2,432.01 310.24,433.21 311,433.4" stroke="#a63ca6" stroke-width="1.35" fill="none" stroke-linejoin="round"/>
<path d="M24,248.8H313.5" stroke="#8a8580" stroke-width="1.4"/>
<path d="M24,343.8H313.5" stroke="#808080" stroke-width="1.6"/>
<path d="M24,439.2H313.5" stroke="#b0b0b0" stroke-width="0.9"/>
<path d="M26.8,248.8V439.2" stroke="#7f7f99" stroke-width="0.9"/>
<path d="M121.5,248.8V439.2M216.3,248.8V439.2" stroke="#555566" stroke-width="0.9"/>
<path d="M311,248.8V439.2" stroke="#555560" stroke-width="1"/>
<path d="M24.6,335H26.8M311,335H313.2M25.6,324.16H26.8M311,324.16H312.2M24.6,313.33H26.8M311,313.33H313.2M25.6,302.49H26.8M311,302.49H312.2M24.6,291.65H26.8M311,291.65H313.2M25.6,280.81H26.8M311,280.81H312.2M24.6,269.98H26.8M311,269.98H313.2M25.6,259.14H26.8M311,259.14H312.2M24.6,248.3H26.8M311,248.3H313.2M24.6,434.95H26.8M311,434.95H313.2M25.6,425.82H26.8M311,425.82H312.2M24.6,416.68H26.8M311,416.68H313.2M25.6,407.55H26.8M311,407.55H312.2M24.6,398.41H26.8M311,398.41H313.2M25.6,389.28H26.8M311,389.28H312.2M24.6,380.14H26.8M311,380.14H313.2M25.6,371H26.8M311,371H312.2M24.6,361.87H26.8M311,361.87H313.2M25.6,352.74H26.8M311,352.74H312.2M40.34,439.2V441.2M53.89,439.2V440.4M67.44,439.2V441.2M80.98,439.2V440.4M94.52,439.2V441.2M108.07,439.2V440.4M135.04,439.2V441.2M148.59,439.2V440.4M162.13,439.2V441.2M175.68,439.2V440.4M189.22,439.2V441.2M202.77,439.2V440.4M229.84,439.2V441.2M243.39,439.2V440.4M256.94,439.2V441.2M270.48,439.2V440.4M284.02,439.2V441.2M297.57,439.2V440.4" stroke="#666" stroke-width="0.8"/>
<g font-size="6.3" fill="#333" text-anchor="end">
<text x="22.3" y="250.5">3.0</text>
<text x="22.3" y="272.18">2.5</text>
<text x="22.3" y="293.85">2.0</text>
<text x="22.3" y="315.53">1.5</text>
<text x="22.3" y="337.2">1.0</text>
<text x="22.3" y="437.15">1</text>
<text x="22.3" y="418.88">2</text>
<text x="22.3" y="400.61">3</text>
<text x="22.3" y="382.34">4</text>
<text x="22.3" y="364.07">5</text>
<text x="22.3" y="345.8">6</text>
</g><g font-size="6.3" fill="#333" text-anchor="start">
<text x="315.6" y="250.5">3.0</text>
<text x="315.6" y="272.18">2.5</text>
<text x="315.6" y="293.85">2.0</text>
<text x="315.6" y="315.53">1.5</text>
<text x="315.6" y="337.2">1.0</text>
<text x="316" y="437.15">1</text>
<text x="316" y="418.88">2</text>
<text x="316" y="400.61">3</text>
<text x="316" y="382.34">4</text>
<text x="316" y="364.07">5</text>
<text x="316" y="345.8">6</text>
</g><g font-size="6.4" fill="#333" text-anchor="middle">
<text x="40.34" y="448.6">3</text>
<text x="67.44" y="448.6">4</text>
<text x="94.52" y="448.6">5</text>
<text x="121.61" y="448.6">6</text>
<text x="135.04" y="448.6">3</text>
<text x="162.13" y="448.6">4</text>
<text x="189.22" y="448.6">5</text>
<text x="216.31" y="448.6">6</text>
<text x="229.84" y="448.6">3</text>
<text x="256.94" y="448.6">4</text>
<text x="284.02" y="448.6">5</text>
<text x="311.12" y="448.6">6</text>
</g>
<g font-size="11" text-anchor="middle" stroke="#000" stroke-width="0.2">
<text x="74.7" y="246.4">6 s</text><text x="166.1" y="246.4">45 s</text><text x="257.4" y="246.4">120 s</text>
</g>
<text x="147.5" y="459.5" font-size="12.5"><tspan font-style="italic">q</tspan><tspan font-style="italic" font-size="9" dy="2.5">z</tspan><tspan dy="-2.5"> [nm</tspan><tspan font-size="7" dy="-4">-1</tspan><tspan dy="4">]</tspan></text>
<text x="9.6" y="240.2" font-size="22" font-weight="bold" textLength="30" lengthAdjust="spacingAndGlyphs">(b)</text>
</g>
<defs>
<filter id="soft" x="0" y="0" width="100%" height="100%"><feGaussianBlur stdDeviation="0.7"/></filter>
<filter id="blur1" x="-50%" y="-50%" width="200%" height="200%"><feGaussianBlur stdDeviation="0.85"/></filter>
<filter id="blur05" x="-50%" y="-50%" width="200%" height="200%"><feGaussianBlur stdDeviation="0.45"/></filter>
</defs>
<defs><pattern id="patC" patternUnits="userSpaceOnUse" width="50" height="50"><path fill="rgb(30,165,60)" d="M6 0h1v1h-1zM11 0h1v1h-1zM13 0h1v1h-1zM16 0h3v1h-3zM21 0h1v1h-1zM23 0h1v1h-1zM25 0h2v1h-2zM28 0h2v1h-2zM32 0h1v1h-1zM36 0h1v1h-1zM41 0h1v1h-1zM43 0h4v1h-4zM48 0h1v1h-1zM1 1h1v1h-1zM4 1h1v1h-1zM7 1h1v1h-1zM9 1h1v1h-1zM12 1h1v1h-1zM16 1h3v1h-3zM20 1h1v1h-1zM28 1h1v1h-1zM32 1h1v1h-1zM34 1h1v1h-1zM41 1h5v1h-5zM48 1h2v1h-2zM3 2h1v1h-1zM8 2h1v1h-1zM10 2h1v1h-1zM13 2h1v1h-1zM18 2h1v1h-1zM20 2h1v1h-1zM22 2h1v1h-1zM31 2h1v1h-1zM33 2h1v1h-1zM40 2h2v1h-2zM2 3h1v1h-1zM6 3h1v1h-1zM10 3h1v1h-1zM12 3h1v1h-1zM30 3h1v1h-1zM37 3h1v1h-1zM46 3h2v1h-2zM0 4h1v1h-1zM3 4h1v1h-1zM5 4h7v1h-7zM16 4h1v1h-1zM18 4h1v1h-1zM20 4h1v1h-1zM22 4h1v1h-1zM25 4h1v1h-1zM27 4h1v1h-1zM37 4h1v1h-1zM45 4h2v1h-2zM49 4h1v1h-1zM4 5h2v1h-2zM11 5h1v1h-1zM15 5h1v1h-1zM18 5h1v1h-1zM20 5h1v1h-1zM23 5h1v1h-1zM26 5h1v1h-1zM28 5h1v1h-1zM31 5h3v1h-3zM35 5h1v1h-1zM41 5h1v1h-1zM43 5h1v1h-1zM46 5h1v1h-1zM2 6h2v1h-2zM8 6h1v1h-1zM19 6h2v1h-2zM22 6h1v1h-1zM26 6h1v1h-1zM29 6h1v1h-1zM34 6h1v1h-1zM37 6h2v1h-2zM42 6h1v1h-1zM47 6h1v1h-1zM49 6h1v1h-1zM3 7h2v1h-2zM6 7h1v1h-1zM9 7h1v1h-1zM11 7h2v1h-2zM14 7h2v1h-2zM19 7h1v1h-1zM21 7h1v1h-1zM26 7h1v1h-1zM28 7h1v1h-1zM34 7h1v1h-1zM36 7h1v1h-1zM39 7h2v1h-2zM43 7h1v1h-1zM46 7h1v1h-1zM48 7h2v1h-2zM1 8h1v1h-1zM4 8h1v1h-1zM6 8h1v1h-1zM8 8h2v1h-2zM12 8h2v1h-2zM17 8h1v1h-1zM20 8h1v1h-1zM25 8h1v1h-1zM36 8h4v1h-4zM43 8h1v1h-1zM49 8h1v1h-1zM0 9h2v1h-2zM5 9h6v1h-6zM12 9h1v1h-1zM20 9h1v1h-1zM22 9h1v1h-1zM25 9h5v1h-5zM33 9h1v1h-1zM35 9h1v1h-1zM38 9h2v1h-2zM45 9h2v1h-2zM49 9h1v1h-1zM4 10h2v1h-2zM9 10h3v1h-3zM13 10h2v1h-2zM16 10h3v1h-3zM20 10h1v1h-1zM24 10h3v1h-3zM31 10h2v1h-2zM40 10h1v1h-1zM43 10h4v1h-4zM49 10h1v1h-1zM0 11h4v1h-4zM6 11h2v1h-2zM9 11h3v1h-3zM13 11h1v1h-1zM15 11h1v1h-1zM28 11h1v1h-1zM31 11h4v1h-4zM36 11h2v1h-2zM40 11h3v1h-3zM47 11h1v1h-1zM1 12h1v1h-1zM5 12h1v1h-1zM7 12h1v1h-1zM12 12h2v1h-2zM23 12h1v1h-1zM26 12h1v1h-1zM28 12h1v1h-1zM33 12h3v1h-3zM39 12h1v1h-1zM41 12h1v1h-1zM47 12h1v1h-1zM0 13h3v1h-3zM5 13h1v1h-1zM7 13h1v1h-1zM13 13h1v1h-1zM16 13h1v1h-1zM18 13h3v1h-3zM36 13h3v1h-3zM43 13h1v1h-1zM45 13h1v1h-1zM47 13h1v1h-1zM6 14h1v1h-1zM9 14h1v1h-1zM13 14h1v1h-1zM15 14h1v1h-1zM21 14h1v1h-1zM27 14h3v1h-3zM32 14h1v1h-1zM35 14h2v1h-2zM45 14h2v1h-2zM49 14h1v1h-1zM0 15h2v1h-2zM4 15h2v1h-2zM10 15h1v1h-1zM14 15h1v1h-1zM18 15h1v1h-1zM22 15h5v1h-5zM28 15h1v1h-1zM38 15h4v1h-4zM46 15h1v1h-1zM0 16h1v1h-1zM7 16h1v1h-1zM10 16h2v1h-2zM17 16h1v1h-1zM22 16h1v1h-1zM26 16h1v1h-1zM28 16h1v1h-1zM30 16h3v1h-3zM38 16h1v1h-1zM41 16h1v1h-1zM44 16h2v1h-2zM49 16h1v1h-1zM0 17h1v1h-1zM4 17h2v1h-2zM9 17h1v1h-1zM17 17h2v1h-2zM28 17h1v1h-1zM33 17h1v1h-1zM35 17h1v1h-1zM37 17h1v1h-1zM39 17h2v1h-2zM42 17h1v1h-1zM46 17h2v1h-2zM1 18h2v1h-2zM5 18h2v1h-2zM8 18h1v1h-1zM12 18h1v1h-1zM16 18h2v1h-2zM24 18h1v1h-1zM26 18h1v1h-1zM29 18h1v1h-1zM32 18h1v1h-1zM38 18h1v1h-1zM40 18h1v1h-1zM43 18h2v1h-2zM4 19h2v1h-2zM7 19h1v1h-1zM13 19h1v1h-1zM16 19h1v1h-1zM20 19h1v1h-1zM22 19h2v1h-2zM25 19h1v1h-1zM27 19h2v1h-2zM31 19h1v1h-1zM36 19h2v1h-2zM41 19h3v1h-3zM46 19h2v1h-2zM1 20h1v1h-1zM3 20h1v1h-1zM7 20h1v1h-1zM9 20h2v1h-2zM12 20h2v1h-2zM18 20h1v1h-1zM21 20h1v1h-1zM23 20h3v1h-3zM30 20h3v1h-3zM34 20h2v1h-2zM37 20h1v1h-1zM41 20h2v1h-2zM48 20h2v1h-2zM8 21h3v1h-3zM13 21h1v1h-1zM17 21h1v1h-1zM20 21h1v1h-1zM24 21h1v1h-1zM29 21h1v1h-1zM31 21h3v1h-3zM37 21h3v1h-3zM44 21h1v1h-1zM46 21h2v1h-2zM49 21h1v1h-1zM0 22h1v1h-1zM5 22h1v1h-1zM7 22h1v1h-1zM9 22h1v1h-1zM13 22h1v1h-1zM17 22h1v1h-1zM23 22h1v1h-1zM26 22h2v1h-2zM34 22h1v1h-1zM36 22h1v1h-1zM40 22h2v1h-2zM44 22h1v1h-1zM46 22h3v1h-3zM2 23h1v1h-1zM4 23h1v1h-1zM6 23h1v1h-1zM8 23h1v1h-1zM10 23h1v1h-1zM18 23h1v1h-1zM21 23h1v1h-1zM25 23h1v1h-1zM29 23h1v1h-1zM31 23h1v1h-1zM43 23h1v1h-1zM45 23h1v1h-1zM49 23h1v1h-1zM2 24h2v1h-2zM6 24h1v1h-1zM11 24h3v1h-3zM19 24h1v1h-1zM26 24h2v1h-2zM29 24h3v1h-3zM33 24h1v1h-1zM39 24h1v1h-1zM48 24h1v1h-1zM1 25h2v1h-2zM4 25h1v1h-1zM6 25h3v1h-3zM10 25h1v1h-1zM13 25h1v1h-1zM17 25h1v1h-1zM21 25h1v1h-1zM37 25h3v1h-3zM42 25h1v1h-1zM46 25h1v1h-1zM49 25h1v1h-1zM0 26h3v1h-3zM4 26h2v1h-2zM9 26h1v1h-1zM11 26h4v1h-4zM23 26h1v1h-1zM27 26h2v1h-2zM30 26h1v1h-1zM32 26h1v1h-1zM35 26h1v1h-1zM38 26h1v1h-1zM41 26h1v1h-1zM43 26h1v1h-1zM45 26h1v1h-1zM49 26h1v1h-1zM3 27h2v1h-2zM6 27h1v1h-1zM8 27h4v1h-4zM13 27h2v1h-2zM17 27h1v1h-1zM19 27h1v1h-1zM22 27h1v1h-1zM24 27h1v1h-1zM28 27h4v1h-4zM43 27h1v1h-1zM46 27h1v1h-1zM0 28h1v1h-1zM3 28h2v1h-2zM7 28h2v1h-2zM10 28h1v1h-1zM12 28h1v1h-1zM14 28h1v1h-1zM22 28h1v1h-1zM24 28h1v1h-1zM26 28h1v1h-1zM35 28h1v1h-1zM39 28h2v1h-2zM44 28h1v1h-1zM49 28h1v1h-1zM0 29h1v1h-1zM3 29h1v1h-1zM9 29h1v1h-1zM12 29h1v1h-1zM14 29h1v1h-1zM16 29h1v1h-1zM18 29h2v1h-2zM22 29h1v1h-1zM24 29h3v1h-3zM28 29h4v1h-4zM37 29h5v1h-5zM44 29h2v1h-2zM4 30h3v1h-3zM8 30h3v1h-3zM17 30h1v1h-1zM19 30h1v1h-1zM23 30h3v1h-3zM27 30h5v1h-5zM34 30h1v1h-1zM36 30h1v1h-1zM38 30h1v1h-1zM46 30h2v1h-2zM0 31h1v1h-1zM6 31h1v1h-1zM10 31h2v1h-2zM15 31h1v1h-1zM18 31h2v1h-2zM21 31h1v1h-1zM23 31h4v1h-4zM29 31h1v1h-1zM33 31h3v1h-3zM38 31h1v1h-1zM41 31h1v1h-1zM49 31h1v1h-1zM12 32h1v1h-1zM15 32h1v1h-1zM17 32h1v1h-1zM27 32h1v1h-1zM30 32h1v1h-1zM36 32h1v1h-1zM43 32h1v1h-1zM10 33h1v1h-1zM12 33h1v1h-1zM14 33h2v1h-2zM17 33h2v1h-2zM20 33h1v1h-1zM25 33h2v1h-2zM28 33h4v1h-4zM35 33h2v1h-2zM39 33h1v1h-1zM41 33h2v1h-2zM44 33h1v1h-1zM49 33h1v1h-1zM1 34h1v1h-1zM4 34h2v1h-2zM10 34h2v1h-2zM15 34h1v1h-1zM18 34h2v1h-2zM23 34h1v1h-1zM26 34h1v1h-1zM28 34h1v1h-1zM30 34h2v1h-2zM39 34h3v1h-3zM43 34h1v1h-1zM46 34h2v1h-2zM49 34h1v1h-1zM2 35h2v1h-2zM6 35h1v1h-1zM8 35h1v1h-1zM12 35h1v1h-1zM16 35h3v1h-3zM20 35h1v1h-1zM26 35h1v1h-1zM31 35h1v1h-1zM33 35h1v1h-1zM38 35h2v1h-2zM43 35h1v1h-1zM46 35h2v1h-2zM0 36h1v1h-1zM6 36h1v1h-1zM8 36h2v1h-2zM16 36h4v1h-4zM24 36h1v1h-1zM27 36h1v1h-1zM30 36h1v1h-1zM32 36h1v1h-1zM35 36h2v1h-2zM0 37h1v1h-1zM2 37h2v1h-2zM5 37h4v1h-4zM15 37h1v1h-1zM17 37h1v1h-1zM20 37h1v1h-1zM24 37h1v1h-1zM26 37h1v1h-1zM29 37h2v1h-2zM37 37h3v1h-3zM2 38h1v1h-1zM9 38h2v1h-2zM13 38h1v1h-1zM18 38h1v1h-1zM20 38h1v1h-1zM23 38h2v1h-2zM29 38h1v1h-1zM33 38h2v1h-2zM43 38h1v1h-1zM46 38h2v1h-2zM3 39h1v1h-1zM9 39h1v1h-1zM13 39h1v1h-1zM17 39h1v1h-1zM23 39h1v1h-1zM25 39h1v1h-1zM27 39h2v1h-2zM33 39h1v1h-1zM36 39h1v1h-1zM40 39h1v1h-1zM44 39h1v1h-1zM48 39h2v1h-2zM1 40h2v1h-2zM4 40h1v1h-1zM6 40h1v1h-1zM9 40h1v1h-1zM17 40h2v1h-2zM21 40h1v1h-1zM27 40h1v1h-1zM31 40h1v1h-1zM35 40h1v1h-1zM38 40h2v1h-2zM44 40h1v1h-1zM46 40h2v1h-2zM1 41h1v1h-1zM3 41h1v1h-1zM5 41h2v1h-2zM12 41h1v1h-1zM14 41h2v1h-2zM17 41h1v1h-1zM20 41h4v1h-4zM25 41h1v1h-1zM27 41h1v1h-1zM29 41h1v1h-1zM33 41h1v1h-1zM39 41h1v1h-1zM45 41h2v1h-2zM0 42h1v1h-1zM14 42h1v1h-1zM21 42h2v1h-2zM26 42h5v1h-5zM32 42h2v1h-2zM35 42h1v1h-1zM41 42h1v1h-1zM49 42h1v1h-1zM0 43h1v1h-1zM3 43h2v1h-2zM10 43h1v1h-1zM13 43h1v1h-1zM15 43h1v1h-1zM23 43h1v1h-1zM26 43h1v1h-1zM30 43h2v1h-2zM34 43h1v1h-1zM43 43h2v1h-2zM46 43h1v1h-1zM48 43h1v1h-1zM1 44h2v1h-2zM4 44h2v1h-2zM8 44h1v1h-1zM11 44h1v1h-1zM18 44h1v1h-1zM21 44h2v1h-2zM26 44h1v1h-1zM35 44h2v1h-2zM40 44h2v1h-2zM45 44h1v1h-1zM3 45h1v1h-1zM7 45h1v1h-1zM13 45h1v1h-1zM21 45h1v1h-1zM24 45h1v1h-1zM27 45h1v1h-1zM32 45h1v1h-1zM35 45h1v1h-1zM39 45h1v1h-1zM48 45h2v1h-2zM0 46h2v1h-2zM5 46h1v1h-1zM8 46h2v1h-2zM11 46h2v1h-2zM14 46h2v1h-2zM17 46h1v1h-1zM21 46h1v1h-1zM31 46h1v1h-1zM34 46h3v1h-3zM39 46h3v1h-3zM49 46h1v1h-1zM2 47h2v1h-2zM8 47h1v1h-1zM10 47h2v1h-2zM14 47h1v1h-1zM17 47h1v1h-1zM20 47h1v1h-1zM24 47h2v1h-2zM27 47h1v1h-1zM34 47h2v1h-2zM44 47h2v1h-2zM48 47h1v1h-1zM12 48h1v1h-1zM14 48h2v1h-2zM17 48h1v1h-1zM21 48h2v1h-2zM27 48h1v1h-1zM33 48h2v1h-2zM36 48h2v1h-2zM48 48h1v1h-1zM3 49h1v1h-1zM7 49h1v1h-1zM11 49h1v1h-1zM13 49h1v1h-1zM17 49h2v1h-2zM20 49h2v1h-2zM23 49h2v1h-2zM26 49h1v1h-1zM29 49h1v1h-1zM32 49h1v1h-1zM34 49h2v1h-2zM38 49h1v1h-1zM41 49h3v1h-3zM49 49h1v1h-1z"/><path fill="rgb(70,170,55)" d="M7 0h1v1h-1zM12 0h1v1h-1zM14 0h1v1h-1zM34 0h1v1h-1zM42 0h1v1h-1zM0 1h1v1h-1zM3 1h1v1h-1zM5 1h1v1h-1zM14 1h1v1h-1zM24 1h3v1h-3zM35 1h1v1h-1zM38 1h1v1h-1zM40 1h1v1h-1zM1 2h2v1h-2zM6 2h2v1h-2zM11 2h1v1h-1zM19 2h1v1h-1zM23 2h1v1h-1zM27 2h2v1h-2zM30 2h1v1h-1zM32 2h1v1h-1zM34 2h1v1h-1zM38 2h2v1h-2zM44 2h1v1h-1zM0 3h1v1h-1zM3 3h1v1h-1zM11 3h1v1h-1zM14 3h1v1h-1zM18 3h1v1h-1zM22 3h1v1h-1zM28 3h2v1h-2zM33 3h1v1h-1zM41 3h1v1h-1zM48 3h1v1h-1zM4 4h1v1h-1zM12 4h2v1h-2zM19 4h1v1h-1zM21 4h1v1h-1zM24 4h1v1h-1zM28 4h2v1h-2zM33 4h1v1h-1zM36 4h1v1h-1zM43 4h1v1h-1zM2 5h2v1h-2zM7 5h1v1h-1zM13 5h2v1h-2zM17 5h1v1h-1zM19 5h1v1h-1zM22 5h1v1h-1zM27 5h1v1h-1zM37 5h1v1h-1zM44 5h2v1h-2zM47 5h3v1h-3zM4 6h1v1h-1zM7 6h1v1h-1zM10 6h1v1h-1zM14 6h1v1h-1zM16 6h2v1h-2zM25 6h1v1h-1zM30 6h4v1h-4zM8 7h1v1h-1zM13 7h1v1h-1zM20 7h1v1h-1zM23 7h1v1h-1zM25 7h1v1h-1zM30 7h1v1h-1zM38 7h1v1h-1zM41 7h1v1h-1zM3 8h1v1h-1zM19 8h1v1h-1zM21 8h1v1h-1zM23 8h2v1h-2zM29 8h1v1h-1zM31 8h1v1h-1zM35 8h1v1h-1zM41 8h1v1h-1zM44 8h1v1h-1zM47 8h2v1h-2zM2 9h2v1h-2zM11 9h1v1h-1zM14 9h1v1h-1zM18 9h1v1h-1zM30 9h1v1h-1zM32 9h1v1h-1zM34 9h1v1h-1zM43 9h1v1h-1zM48 9h1v1h-1zM0 10h1v1h-1zM2 10h2v1h-2zM7 10h1v1h-1zM12 10h1v1h-1zM15 10h1v1h-1zM21 10h3v1h-3zM27 10h1v1h-1zM33 10h2v1h-2zM36 10h1v1h-1zM41 10h1v1h-1zM4 11h1v1h-1zM12 11h1v1h-1zM14 11h1v1h-1zM22 11h1v1h-1zM30 11h1v1h-1zM43 11h1v1h-1zM48 11h2v1h-2zM0 12h1v1h-1zM6 12h1v1h-1zM9 12h1v1h-1zM15 12h3v1h-3zM20 12h1v1h-1zM25 12h1v1h-1zM30 12h1v1h-1zM32 12h1v1h-1zM37 12h1v1h-1zM40 12h1v1h-1zM46 12h1v1h-1zM49 12h1v1h-1zM12 13h1v1h-1zM14 13h1v1h-1zM17 13h1v1h-1zM21 13h2v1h-2zM24 13h1v1h-1zM30 13h1v1h-1zM32 13h1v1h-1zM35 13h1v1h-1zM39 13h1v1h-1zM7 14h1v1h-1zM11 14h2v1h-2zM14 14h1v1h-1zM20 14h1v1h-1zM25 14h1v1h-1zM41 14h3v1h-3zM11 15h1v1h-1zM21 15h1v1h-1zM42 15h2v1h-2zM47 15h3v1h-3zM2 16h1v1h-1zM4 16h1v1h-1zM12 16h2v1h-2zM16 16h1v1h-1zM18 16h1v1h-1zM23 16h1v1h-1zM25 16h1v1h-1zM27 16h1v1h-1zM33 16h1v1h-1zM35 16h2v1h-2zM39 16h1v1h-1zM43 16h1v1h-1zM46 16h3v1h-3zM2 17h2v1h-2zM8 17h1v1h-1zM10 17h1v1h-1zM12 17h1v1h-1zM20 17h1v1h-1zM24 17h1v1h-1zM30 17h1v1h-1zM34 17h1v1h-1zM36 17h1v1h-1zM41 17h1v1h-1zM43 17h1v1h-1zM7 18h1v1h-1zM10 18h1v1h-1zM13 18h1v1h-1zM19 18h3v1h-3zM27 18h1v1h-1zM30 18h1v1h-1zM34 18h2v1h-2zM39 18h1v1h-1zM41 18h2v1h-2zM45 18h1v1h-1zM48 18h2v1h-2zM8 19h1v1h-1zM10 19h2v1h-2zM17 19h2v1h-2zM21 19h1v1h-1zM24 19h1v1h-1zM34 19h1v1h-1zM39 19h1v1h-1zM49 19h1v1h-1zM14 20h1v1h-1zM27 20h1v1h-1zM29 20h1v1h-1zM36 20h1v1h-1zM38 20h1v1h-1zM43 20h1v1h-1zM45 20h1v1h-1zM0 21h2v1h-2zM5 21h1v1h-1zM11 21h1v1h-1zM19 21h1v1h-1zM26 21h1v1h-1zM30 21h1v1h-1zM35 21h1v1h-1zM43 21h1v1h-1zM45 21h1v1h-1zM1 22h1v1h-1zM4 22h1v1h-1zM8 22h1v1h-1zM11 22h2v1h-2zM16 22h1v1h-1zM18 22h1v1h-1zM20 22h1v1h-1zM25 22h1v1h-1zM29 22h2v1h-2zM33 22h1v1h-1zM37 22h1v1h-1zM49 22h1v1h-1zM7 23h1v1h-1zM12 23h1v1h-1zM15 23h1v1h-1zM19 23h1v1h-1zM22 23h2v1h-2zM34 23h1v1h-1zM37 23h1v1h-1zM39 23h1v1h-1zM44 23h1v1h-1zM0 24h2v1h-2zM9 24h1v1h-1zM17 24h2v1h-2zM21 24h1v1h-1zM24 24h1v1h-1zM34 24h2v1h-2zM37 24h2v1h-2zM3 25h1v1h-1zM5 25h1v1h-1zM9 25h1v1h-1zM12 25h1v1h-1zM18 25h3v1h-3zM22 25h1v1h-1zM31 25h1v1h-1zM36 25h1v1h-1zM43 25h1v1h-1zM45 25h1v1h-1zM48 25h1v1h-1zM3 26h1v1h-1zM6 26h1v1h-1zM17 26h1v1h-1zM19 26h1v1h-1zM22 26h1v1h-1zM24 26h2v1h-2zM31 26h1v1h-1zM37 26h1v1h-1zM44 26h1v1h-1zM0 27h3v1h-3zM5 27h1v1h-1zM15 27h1v1h-1zM18 27h1v1h-1zM21 27h1v1h-1zM26 27h1v1h-1zM33 27h3v1h-3zM38 27h1v1h-1zM41 27h2v1h-2zM44 27h1v1h-1zM47 27h1v1h-1zM1 28h1v1h-1zM13 28h1v1h-1zM15 28h1v1h-1zM17 28h1v1h-1zM23 28h1v1h-1zM28 28h1v1h-1zM32 28h1v1h-1zM38 28h1v1h-1zM41 28h1v1h-1zM43 28h1v1h-1zM46 28h1v1h-1zM48 28h1v1h-1zM4 29h1v1h-1zM6 29h1v1h-1zM10 29h1v1h-1zM15 29h1v1h-1zM17 29h1v1h-1zM23 29h1v1h-1zM43 29h1v1h-1zM2 30h1v1h-1zM7 30h1v1h-1zM11 30h1v1h-1zM13 30h1v1h-1zM18 30h1v1h-1zM42 30h1v1h-1zM48 30h2v1h-2zM2 31h3v1h-3zM12 31h1v1h-1zM16 31h1v1h-1zM22 31h1v1h-1zM27 31h1v1h-1zM30 31h1v1h-1zM37 31h1v1h-1zM39 31h2v1h-2zM44 31h2v1h-2zM0 32h1v1h-1zM2 32h1v1h-1zM4 32h1v1h-1zM18 32h2v1h-2zM22 32h1v1h-1zM24 32h1v1h-1zM33 32h1v1h-1zM37 32h1v1h-1zM44 32h1v1h-1zM48 32h1v1h-1zM0 33h1v1h-1zM6 33h2v1h-2zM13 33h1v1h-1zM24 33h1v1h-1zM27 33h1v1h-1zM34 33h1v1h-1zM38 33h1v1h-1zM40 33h1v1h-1zM45 33h1v1h-1zM47 33h1v1h-1zM3 34h1v1h-1zM12 34h1v1h-1zM20 34h3v1h-3zM25 34h1v1h-1zM29 34h1v1h-1zM34 34h1v1h-1zM37 34h2v1h-2zM42 34h1v1h-1zM45 34h1v1h-1zM48 34h1v1h-1zM1 35h1v1h-1zM13 35h1v1h-1zM19 35h1v1h-1zM21 35h1v1h-1zM24 35h1v1h-1zM29 35h1v1h-1zM44 35h2v1h-2zM48 35h2v1h-2zM1 36h1v1h-1zM13 36h1v1h-1zM15 36h1v1h-1zM22 36h2v1h-2zM26 36h1v1h-1zM31 36h1v1h-1zM34 36h1v1h-1zM38 36h2v1h-2zM41 36h1v1h-1zM43 36h1v1h-1zM1 37h1v1h-1zM10 37h2v1h-2zM31 37h1v1h-1zM34 37h1v1h-1zM46 37h4v1h-4zM4 38h1v1h-1zM6 38h1v1h-1zM12 38h1v1h-1zM17 38h1v1h-1zM31 38h1v1h-1zM35 38h1v1h-1zM39 38h1v1h-1zM42 38h1v1h-1zM45 38h1v1h-1zM48 38h1v1h-1zM1 39h1v1h-1zM4 39h1v1h-1zM7 39h1v1h-1zM10 39h1v1h-1zM15 39h1v1h-1zM21 39h2v1h-2zM30 39h1v1h-1zM32 39h1v1h-1zM34 39h1v1h-1zM3 40h1v1h-1zM5 40h1v1h-1zM11 40h1v1h-1zM26 40h1v1h-1zM30 40h1v1h-1zM32 40h1v1h-1zM34 40h1v1h-1zM41 40h2v1h-2zM48 40h2v1h-2zM4 41h1v1h-1zM8 41h1v1h-1zM13 41h1v1h-1zM16 41h1v1h-1zM19 41h1v1h-1zM24 41h1v1h-1zM26 41h1v1h-1zM35 41h1v1h-1zM37 41h2v1h-2zM41 41h1v1h-1zM44 41h1v1h-1zM47 41h2v1h-2zM1 42h1v1h-1zM9 42h2v1h-2zM16 42h1v1h-1zM23 42h1v1h-1zM42 42h3v1h-3zM46 42h1v1h-1zM5 43h3v1h-3zM11 43h2v1h-2zM14 43h1v1h-1zM20 43h1v1h-1zM24 43h2v1h-2zM27 43h1v1h-1zM35 43h2v1h-2zM39 43h2v1h-2zM49 43h1v1h-1zM0 44h1v1h-1zM7 44h1v1h-1zM13 44h1v1h-1zM19 44h1v1h-1zM31 44h1v1h-1zM34 44h1v1h-1zM43 44h2v1h-2zM49 44h1v1h-1zM0 45h3v1h-3zM4 45h1v1h-1zM10 45h1v1h-1zM15 45h3v1h-3zM23 45h1v1h-1zM29 45h1v1h-1zM33 45h2v1h-2zM36 45h1v1h-1zM42 45h1v1h-1zM44 45h1v1h-1zM46 45h1v1h-1zM4 46h1v1h-1zM10 46h1v1h-1zM13 46h1v1h-1zM23 46h1v1h-1zM25 46h1v1h-1zM30 46h1v1h-1zM32 46h1v1h-1zM37 46h1v1h-1zM42 46h1v1h-1zM44 46h1v1h-1zM46 46h3v1h-3zM5 47h1v1h-1zM15 47h1v1h-1zM18 47h1v1h-1zM26 47h1v1h-1zM31 47h2v1h-2zM43 47h1v1h-1zM47 47h1v1h-1zM2 48h2v1h-2zM6 48h1v1h-1zM13 48h1v1h-1zM20 48h1v1h-1zM25 48h1v1h-1zM35 48h1v1h-1zM44 48h2v1h-2zM1 49h1v1h-1zM14 49h3v1h-3zM19 49h1v1h-1zM22 49h1v1h-1zM28 49h1v1h-1zM30 49h2v1h-2zM33 49h1v1h-1zM39 49h1v1h-1zM45 49h1v1h-1z"/><path fill="rgb(120,148,40)" d="M0 0h3v1h-3zM4 0h1v1h-1zM9 0h1v1h-1zM15 0h1v1h-1zM20 0h1v1h-1zM22 0h1v1h-1zM24 0h1v1h-1zM35 0h1v1h-1zM38 0h1v1h-1zM47 0h1v1h-1zM49 0h1v1h-1zM6 1h1v1h-1zM10 1h1v1h-1zM13 1h1v1h-1zM15 1h1v1h-1zM21 1h1v1h-1zM27 1h1v1h-1zM29 1h2v1h-2zM36 1h1v1h-1zM46 1h1v1h-1zM4 2h1v1h-1zM14 2h1v1h-1zM16 2h2v1h-2zM29 2h1v1h-1zM37 2h1v1h-1zM42 2h1v1h-1zM45 2h5v1h-5zM1 3h1v1h-1zM4 3h2v1h-2zM8 3h2v1h-2zM13 3h1v1h-1zM16 3h2v1h-2zM19 3h2v1h-2zM25 3h1v1h-1zM34 3h3v1h-3zM38 3h3v1h-3zM42 3h4v1h-4zM49 3h1v1h-1zM1 4h2v1h-2zM14 4h2v1h-2zM26 4h1v1h-1zM30 4h1v1h-1zM35 4h1v1h-1zM38 4h2v1h-2zM42 4h1v1h-1zM47 4h2v1h-2zM0 5h1v1h-1zM10 5h1v1h-1zM21 5h1v1h-1zM24 5h1v1h-1zM30 5h1v1h-1zM36 5h1v1h-1zM38 5h3v1h-3zM42 5h1v1h-1zM0 6h2v1h-2zM9 6h1v1h-1zM11 6h3v1h-3zM24 6h1v1h-1zM27 6h1v1h-1zM35 6h1v1h-1zM40 6h2v1h-2zM43 6h1v1h-1zM46 6h1v1h-1zM0 7h1v1h-1zM2 7h1v1h-1zM7 7h1v1h-1zM10 7h1v1h-1zM16 7h2v1h-2zM22 7h1v1h-1zM27 7h1v1h-1zM29 7h1v1h-1zM32 7h2v1h-2zM35 7h1v1h-1zM37 7h1v1h-1zM42 7h1v1h-1zM44 7h2v1h-2zM47 7h1v1h-1zM0 8h1v1h-1zM5 8h1v1h-1zM7 8h1v1h-1zM11 8h1v1h-1zM15 8h1v1h-1zM18 8h1v1h-1zM22 8h1v1h-1zM27 8h1v1h-1zM32 8h3v1h-3zM42 8h1v1h-1zM46 8h1v1h-1zM16 9h2v1h-2zM21 9h1v1h-1zM23 9h2v1h-2zM36 9h2v1h-2zM40 9h1v1h-1zM42 9h1v1h-1zM47 9h1v1h-1zM29 10h1v1h-1zM35 10h1v1h-1zM37 10h2v1h-2zM47 10h1v1h-1zM5 11h1v1h-1zM8 11h1v1h-1zM16 11h2v1h-2zM19 11h3v1h-3zM24 11h1v1h-1zM26 11h2v1h-2zM35 11h1v1h-1zM38 11h2v1h-2zM46 11h1v1h-1zM2 12h1v1h-1zM4 12h1v1h-1zM8 12h1v1h-1zM11 12h1v1h-1zM18 12h1v1h-1zM22 12h1v1h-1zM29 12h1v1h-1zM36 12h1v1h-1zM38 12h1v1h-1zM45 12h1v1h-1zM3 13h1v1h-1zM6 13h1v1h-1zM8 13h1v1h-1zM10 13h1v1h-1zM15 13h1v1h-1zM23 13h1v1h-1zM28 13h2v1h-2zM31 13h1v1h-1zM33 13h2v1h-2zM40 13h3v1h-3zM46 13h1v1h-1zM48 13h2v1h-2zM2 14h1v1h-1zM4 14h2v1h-2zM16 14h1v1h-1zM19 14h1v1h-1zM22 14h3v1h-3zM30 14h1v1h-1zM33 14h2v1h-2zM37 14h1v1h-1zM40 14h1v1h-1zM47 14h1v1h-1zM2 15h2v1h-2zM6 15h4v1h-4zM16 15h1v1h-1zM19 15h1v1h-1zM27 15h1v1h-1zM29 15h2v1h-2zM33 15h1v1h-1zM36 15h1v1h-1zM44 15h2v1h-2zM1 16h1v1h-1zM3 16h1v1h-1zM8 16h2v1h-2zM14 16h1v1h-1zM19 16h3v1h-3zM29 16h1v1h-1zM42 16h1v1h-1zM7 17h1v1h-1zM11 17h1v1h-1zM13 17h1v1h-1zM15 17h2v1h-2zM19 17h1v1h-1zM26 17h1v1h-1zM29 17h1v1h-1zM38 17h1v1h-1zM0 18h1v1h-1zM9 18h1v1h-1zM11 18h1v1h-1zM15 18h1v1h-1zM18 18h1v1h-1zM22 18h1v1h-1zM25 18h1v1h-1zM28 18h1v1h-1zM31 18h1v1h-1zM33 18h1v1h-1zM36 18h2v1h-2zM46 18h1v1h-1zM0 19h1v1h-1zM9 19h1v1h-1zM14 19h1v1h-1zM19 19h1v1h-1zM29 19h2v1h-2zM33 19h1v1h-1zM35 19h1v1h-1zM44 19h2v1h-2zM2 20h1v1h-1zM4 20h3v1h-3zM11 20h1v1h-1zM15 20h1v1h-1zM17 20h1v1h-1zM19 20h1v1h-1zM22 20h1v1h-1zM26 20h1v1h-1zM39 20h2v1h-2zM44 20h1v1h-1zM46 20h1v1h-1zM3 21h2v1h-2zM6 21h1v1h-1zM14 21h2v1h-2zM18 21h1v1h-1zM21 21h1v1h-1zM23 21h1v1h-1zM27 21h2v1h-2zM34 21h1v1h-1zM41 21h1v1h-1zM48 21h1v1h-1zM6 22h1v1h-1zM14 22h1v1h-1zM21 22h1v1h-1zM32 22h1v1h-1zM35 22h1v1h-1zM38 22h2v1h-2zM42 22h2v1h-2zM0 23h1v1h-1zM3 23h1v1h-1zM5 23h1v1h-1zM9 23h1v1h-1zM11 23h1v1h-1zM13 23h2v1h-2zM26 23h3v1h-3zM33 23h1v1h-1zM36 23h1v1h-1zM38 23h1v1h-1zM40 23h3v1h-3zM46 23h2v1h-2zM8 24h1v1h-1zM10 24h1v1h-1zM14 24h3v1h-3zM20 24h1v1h-1zM22 24h2v1h-2zM25 24h1v1h-1zM32 24h1v1h-1zM40 24h3v1h-3zM44 24h2v1h-2zM47 24h1v1h-1zM11 25h1v1h-1zM16 25h1v1h-1zM23 25h2v1h-2zM26 25h2v1h-2zM30 25h1v1h-1zM32 25h2v1h-2zM35 25h1v1h-1zM40 25h2v1h-2zM47 25h1v1h-1zM15 26h2v1h-2zM21 26h1v1h-1zM33 26h2v1h-2zM36 26h1v1h-1zM40 26h1v1h-1zM42 26h1v1h-1zM46 26h1v1h-1zM48 26h1v1h-1zM7 27h1v1h-1zM20 27h1v1h-1zM25 27h1v1h-1zM37 27h1v1h-1zM39 27h2v1h-2zM48 27h2v1h-2zM2 28h1v1h-1zM5 28h1v1h-1zM9 28h1v1h-1zM11 28h1v1h-1zM16 28h1v1h-1zM20 28h1v1h-1zM25 28h1v1h-1zM29 28h1v1h-1zM36 28h2v1h-2zM45 28h1v1h-1zM47 28h1v1h-1zM2 29h1v1h-1zM5 29h1v1h-1zM8 29h1v1h-1zM11 29h1v1h-1zM21 29h1v1h-1zM33 29h1v1h-1zM36 29h1v1h-1zM42 29h1v1h-1zM48 29h2v1h-2zM1 30h1v1h-1zM3 30h1v1h-1zM15 30h2v1h-2zM20 30h1v1h-1zM22 30h1v1h-1zM26 30h1v1h-1zM32 30h2v1h-2zM35 30h1v1h-1zM39 30h3v1h-3zM44 30h2v1h-2zM1 31h1v1h-1zM7 31h3v1h-3zM13 31h2v1h-2zM17 31h1v1h-1zM31 31h2v1h-2zM42 31h2v1h-2zM46 31h1v1h-1zM48 31h1v1h-1zM1 32h1v1h-1zM3 32h1v1h-1zM5 32h3v1h-3zM9 32h3v1h-3zM13 32h2v1h-2zM16 32h1v1h-1zM20 32h2v1h-2zM25 32h1v1h-1zM28 32h1v1h-1zM31 32h2v1h-2zM34 32h1v1h-1zM38 32h2v1h-2zM47 32h1v1h-1zM49 32h1v1h-1zM1 33h2v1h-2zM4 33h1v1h-1zM8 33h2v1h-2zM21 33h2v1h-2zM32 33h1v1h-1zM37 33h1v1h-1zM43 33h1v1h-1zM46 33h1v1h-1zM7 34h2v1h-2zM17 34h1v1h-1zM27 34h1v1h-1zM33 34h1v1h-1zM35 34h2v1h-2zM44 34h1v1h-1zM5 35h1v1h-1zM7 35h1v1h-1zM11 35h1v1h-1zM15 35h1v1h-1zM25 35h1v1h-1zM37 35h1v1h-1zM40 35h1v1h-1zM42 35h1v1h-1zM3 36h2v1h-2zM10 36h3v1h-3zM14 36h1v1h-1zM25 36h1v1h-1zM33 36h1v1h-1zM37 36h1v1h-1zM40 36h1v1h-1zM44 36h1v1h-1zM46 36h4v1h-4zM4 37h1v1h-1zM9 37h1v1h-1zM12 37h1v1h-1zM14 37h1v1h-1zM18 37h2v1h-2zM22 37h2v1h-2zM27 37h2v1h-2zM33 37h1v1h-1zM35 37h2v1h-2zM40 37h2v1h-2zM43 37h1v1h-1zM0 38h2v1h-2zM5 38h1v1h-1zM7 38h2v1h-2zM11 38h1v1h-1zM15 38h2v1h-2zM19 38h1v1h-1zM21 38h2v1h-2zM25 38h3v1h-3zM30 38h1v1h-1zM32 38h1v1h-1zM36 38h1v1h-1zM38 38h1v1h-1zM40 38h2v1h-2zM44 38h1v1h-1zM49 38h1v1h-1zM0 39h1v1h-1zM5 39h2v1h-2zM18 39h2v1h-2zM24 39h1v1h-1zM31 39h1v1h-1zM39 39h1v1h-1zM41 39h1v1h-1zM43 39h1v1h-1zM45 39h1v1h-1zM47 39h1v1h-1zM0 40h1v1h-1zM7 40h2v1h-2zM10 40h1v1h-1zM12 40h4v1h-4zM23 40h1v1h-1zM25 40h1v1h-1zM28 40h2v1h-2zM40 40h1v1h-1zM43 40h1v1h-1zM45 40h1v1h-1zM11 41h1v1h-1zM18 41h1v1h-1zM28 41h1v1h-1zM40 41h1v1h-1zM43 41h1v1h-1zM49 41h1v1h-1zM4 42h3v1h-3zM8 42h1v1h-1zM12 42h2v1h-2zM15 42h1v1h-1zM25 42h1v1h-1zM31 42h1v1h-1zM34 42h1v1h-1zM37 42h1v1h-1zM39 42h2v1h-2zM47 42h2v1h-2zM1 43h2v1h-2zM9 43h1v1h-1zM16 43h1v1h-1zM19 43h1v1h-1zM21 43h2v1h-2zM29 43h1v1h-1zM32 43h2v1h-2zM37 43h1v1h-1zM41 43h2v1h-2zM47 43h1v1h-1zM6 44h1v1h-1zM9 44h1v1h-1zM12 44h1v1h-1zM15 44h1v1h-1zM17 44h1v1h-1zM20 44h1v1h-1zM25 44h1v1h-1zM27 44h1v1h-1zM29 44h2v1h-2zM32 44h1v1h-1zM38 44h1v1h-1zM42 44h1v1h-1zM46 44h3v1h-3zM8 45h1v1h-1zM14 45h1v1h-1zM19 45h1v1h-1zM22 45h1v1h-1zM26 45h1v1h-1zM30 45h1v1h-1zM38 45h1v1h-1zM40 45h2v1h-2zM43 45h1v1h-1zM45 45h1v1h-1zM16 46h1v1h-1zM20 46h1v1h-1zM22 46h1v1h-1zM26 46h4v1h-4zM43 46h1v1h-1zM45 46h1v1h-1zM1 47h1v1h-1zM4 47h1v1h-1zM6 47h2v1h-2zM12 47h1v1h-1zM16 47h1v1h-1zM29 47h1v1h-1zM37 47h2v1h-2zM40 47h3v1h-3zM49 47h1v1h-1zM1 48h1v1h-1zM4 48h2v1h-2zM9 48h3v1h-3zM23 48h2v1h-2zM26 48h1v1h-1zM28 48h5v1h-5zM39 48h3v1h-3zM43 48h1v1h-1zM0 49h1v1h-1zM2 49h1v1h-1zM4 49h3v1h-3zM10 49h1v1h-1zM12 49h1v1h-1zM36 49h1v1h-1zM46 49h1v1h-1zM48 49h1v1h-1z"/><path fill="rgb(148,108,33)" d="M3 0h1v1h-1zM5 0h1v1h-1zM8 0h1v1h-1zM10 0h1v1h-1zM19 0h1v1h-1zM27 0h1v1h-1zM30 0h2v1h-2zM33 0h1v1h-1zM37 0h1v1h-1zM39 0h2v1h-2zM2 1h1v1h-1zM8 1h1v1h-1zM11 1h1v1h-1zM19 1h1v1h-1zM22 1h2v1h-2zM31 1h1v1h-1zM33 1h1v1h-1zM37 1h1v1h-1zM39 1h1v1h-1zM47 1h1v1h-1zM0 2h1v1h-1zM5 2h1v1h-1zM9 2h1v1h-1zM12 2h1v1h-1zM15 2h1v1h-1zM21 2h1v1h-1zM24 2h3v1h-3zM35 2h2v1h-2zM43 2h1v1h-1zM7 3h1v1h-1zM15 3h1v1h-1zM21 3h1v1h-1zM23 3h2v1h-2zM26 3h2v1h-2zM31 3h2v1h-2zM17 4h1v1h-1zM23 4h1v1h-1zM31 4h2v1h-2zM34 4h1v1h-1zM40 4h2v1h-2zM44 4h1v1h-1zM1 5h1v1h-1zM6 5h1v1h-1zM8 5h2v1h-2zM12 5h1v1h-1zM16 5h1v1h-1zM25 5h1v1h-1zM29 5h1v1h-1zM34 5h1v1h-1zM5 6h2v1h-2zM15 6h1v1h-1zM18 6h1v1h-1zM21 6h1v1h-1zM23 6h1v1h-1zM28 6h1v1h-1zM36 6h1v1h-1zM39 6h1v1h-1zM44 6h2v1h-2zM48 6h1v1h-1zM1 7h1v1h-1zM5 7h1v1h-1zM18 7h1v1h-1zM24 7h1v1h-1zM31 7h1v1h-1zM2 8h1v1h-1zM10 8h1v1h-1zM14 8h1v1h-1zM16 8h1v1h-1zM26 8h1v1h-1zM28 8h1v1h-1zM30 8h1v1h-1zM40 8h1v1h-1zM45 8h1v1h-1zM4 9h1v1h-1zM13 9h1v1h-1zM15 9h1v1h-1zM19 9h1v1h-1zM31 9h1v1h-1zM41 9h1v1h-1zM44 9h1v1h-1zM1 10h1v1h-1zM6 10h1v1h-1zM8 10h1v1h-1zM19 10h1v1h-1zM28 10h1v1h-1zM30 10h1v1h-1zM39 10h1v1h-1zM42 10h1v1h-1zM48 10h1v1h-1zM18 11h1v1h-1zM23 11h1v1h-1zM25 11h1v1h-1zM29 11h1v1h-1zM44 11h2v1h-2zM3 12h1v1h-1zM10 12h1v1h-1zM14 12h1v1h-1zM19 12h1v1h-1zM21 12h1v1h-1zM24 12h1v1h-1zM27 12h1v1h-1zM31 12h1v1h-1zM42 12h3v1h-3zM48 12h1v1h-1zM4 13h1v1h-1zM9 13h1v1h-1zM11 13h1v1h-1zM25 13h3v1h-3zM44 13h1v1h-1zM0 14h2v1h-2zM3 14h1v1h-1zM8 14h1v1h-1zM10 14h1v1h-1zM17 14h2v1h-2zM26 14h1v1h-1zM31 14h1v1h-1zM38 14h2v1h-2zM44 14h1v1h-1zM48 14h1v1h-1zM12 15h2v1h-2zM15 15h1v1h-1zM17 15h1v1h-1zM20 15h1v1h-1zM31 15h2v1h-2zM34 15h2v1h-2zM37 15h1v1h-1zM5 16h2v1h-2zM15 16h1v1h-1zM24 16h1v1h-1zM34 16h1v1h-1zM37 16h1v1h-1zM40 16h1v1h-1zM1 17h1v1h-1zM6 17h1v1h-1zM14 17h1v1h-1zM21 17h3v1h-3zM25 17h1v1h-1zM27 17h1v1h-1zM31 17h2v1h-2zM44 17h2v1h-2zM48 17h2v1h-2zM3 18h2v1h-2zM14 18h1v1h-1zM23 18h1v1h-1zM47 18h1v1h-1zM1 19h3v1h-3zM6 19h1v1h-1zM12 19h1v1h-1zM15 19h1v1h-1zM26 19h1v1h-1zM32 19h1v1h-1zM38 19h1v1h-1zM40 19h1v1h-1zM48 19h1v1h-1zM0 20h1v1h-1zM8 20h1v1h-1zM16 20h1v1h-1zM20 20h1v1h-1zM28 20h1v1h-1zM33 20h1v1h-1zM47 20h1v1h-1zM2 21h1v1h-1zM7 21h1v1h-1zM12 21h1v1h-1zM16 21h1v1h-1zM22 21h1v1h-1zM25 21h1v1h-1zM36 21h1v1h-1zM40 21h1v1h-1zM42 21h1v1h-1zM2 22h2v1h-2zM10 22h1v1h-1zM15 22h1v1h-1zM19 22h1v1h-1zM22 22h1v1h-1zM24 22h1v1h-1zM28 22h1v1h-1zM31 22h1v1h-1zM45 22h1v1h-1zM1 23h1v1h-1zM16 23h2v1h-2zM20 23h1v1h-1zM24 23h1v1h-1zM30 23h1v1h-1zM32 23h1v1h-1zM35 23h1v1h-1zM48 23h1v1h-1zM4 24h2v1h-2zM7 24h1v1h-1zM28 24h1v1h-1zM36 24h1v1h-1zM43 24h1v1h-1zM46 24h1v1h-1zM49 24h1v1h-1zM0 25h1v1h-1zM14 25h2v1h-2zM25 25h1v1h-1zM28 25h2v1h-2zM34 25h1v1h-1zM44 25h1v1h-1zM7 26h2v1h-2zM10 26h1v1h-1zM18 26h1v1h-1zM20 26h1v1h-1zM26 26h1v1h-1zM29 26h1v1h-1zM39 26h1v1h-1zM47 26h1v1h-1zM12 27h1v1h-1zM16 27h1v1h-1zM23 27h1v1h-1zM27 27h1v1h-1zM32 27h1v1h-1zM36 27h1v1h-1zM45 27h1v1h-1zM6 28h1v1h-1zM18 28h2v1h-2zM21 28h1v1h-1zM27 28h1v1h-1zM30 28h2v1h-2zM33 28h2v1h-2zM42 28h1v1h-1zM1 29h1v1h-1zM7 29h1v1h-1zM13 29h1v1h-1zM20 29h1v1h-1zM27 29h1v1h-1zM32 29h1v1h-1zM34 29h2v1h-2zM46 29h2v1h-2zM0 30h1v1h-1zM12 30h1v1h-1zM14 30h1v1h-1zM21 30h1v1h-1zM37 30h1v1h-1zM43 30h1v1h-1zM5 31h1v1h-1zM20 31h1v1h-1zM28 31h1v1h-1zM36 31h1v1h-1zM47 31h1v1h-1zM8 32h1v1h-1zM23 32h1v1h-1zM26 32h1v1h-1zM29 32h1v1h-1zM35 32h1v1h-1zM40 32h3v1h-3zM45 32h2v1h-2zM3 33h1v1h-1zM5 33h1v1h-1zM11 33h1v1h-1zM16 33h1v1h-1zM19 33h1v1h-1zM23 33h1v1h-1zM33 33h1v1h-1zM48 33h1v1h-1zM0 34h1v1h-1zM2 34h1v1h-1zM6 34h1v1h-1zM9 34h1v1h-1zM13 34h2v1h-2zM16 34h1v1h-1zM24 34h1v1h-1zM32 34h1v1h-1zM0 35h1v1h-1zM4 35h1v1h-1zM9 35h2v1h-2zM14 35h1v1h-1zM22 35h2v1h-2zM27 35h2v1h-2zM30 35h1v1h-1zM32 35h1v1h-1zM34 35h3v1h-3zM41 35h1v1h-1zM2 36h1v1h-1zM5 36h1v1h-1zM7 36h1v1h-1zM20 36h2v1h-2zM28 36h2v1h-2zM42 36h1v1h-1zM45 36h1v1h-1zM13 37h1v1h-1zM16 37h1v1h-1zM21 37h1v1h-1zM25 37h1v1h-1zM32 37h1v1h-1zM42 37h1v1h-1zM44 37h2v1h-2zM3 38h1v1h-1zM14 38h1v1h-1zM28 38h1v1h-1zM37 38h1v1h-1zM2 39h1v1h-1zM8 39h1v1h-1zM11 39h2v1h-2zM14 39h1v1h-1zM16 39h1v1h-1zM20 39h1v1h-1zM26 39h1v1h-1zM29 39h1v1h-1zM35 39h1v1h-1zM37 39h2v1h-2zM42 39h1v1h-1zM46 39h1v1h-1zM16 40h1v1h-1zM19 40h2v1h-2zM22 40h1v1h-1zM24 40h1v1h-1zM33 40h1v1h-1zM36 40h2v1h-2zM0 41h1v1h-1zM2 41h1v1h-1zM7 41h1v1h-1zM9 41h2v1h-2zM30 41h3v1h-3zM34 41h1v1h-1zM36 41h1v1h-1zM42 41h1v1h-1zM2 42h2v1h-2zM7 42h1v1h-1zM11 42h1v1h-1zM17 42h4v1h-4zM24 42h1v1h-1zM36 42h1v1h-1zM38 42h1v1h-1zM45 42h1v1h-1zM8 43h1v1h-1zM17 43h2v1h-2zM28 43h1v1h-1zM38 43h1v1h-1zM45 43h1v1h-1zM3 44h1v1h-1zM10 44h1v1h-1zM14 44h1v1h-1zM16 44h1v1h-1zM23 44h2v1h-2zM28 44h1v1h-1zM33 44h1v1h-1zM37 44h1v1h-1zM39 44h1v1h-1zM5 45h2v1h-2zM9 45h1v1h-1zM11 45h2v1h-2zM18 45h1v1h-1zM20 45h1v1h-1zM25 45h1v1h-1zM28 45h1v1h-1zM31 45h1v1h-1zM37 45h1v1h-1zM47 45h1v1h-1zM2 46h2v1h-2zM6 46h2v1h-2zM18 46h2v1h-2zM24 46h1v1h-1zM33 46h1v1h-1zM38 46h1v1h-1zM0 47h1v1h-1zM9 47h1v1h-1zM13 47h1v1h-1zM19 47h1v1h-1zM21 47h3v1h-3zM28 47h1v1h-1zM30 47h1v1h-1zM33 47h1v1h-1zM36 47h1v1h-1zM39 47h1v1h-1zM46 47h1v1h-1zM0 48h1v1h-1zM7 48h2v1h-2zM16 48h1v1h-1zM18 48h2v1h-2zM38 48h1v1h-1zM42 48h1v1h-1zM46 48h2v1h-2zM49 48h1v1h-1zM8 49h2v1h-2zM25 49h1v1h-1zM27 49h1v1h-1zM37 49h1v1h-1zM40 49h1v1h-1zM44 49h1v1h-1zM47 49h1v1h-1z"/></pattern></defs>
<rect x="333" y="24" width="212" height="210" fill="url(#patC)" filter="url(#soft)"/>
<defs><linearGradient id="gC" x1="0.6" y1="0" x2="0.4" y2="1"><stop offset="0" stop-color="#10b040" stop-opacity="0.18"/><stop offset="0.45" stop-color="#60a040" stop-opacity="0"/><stop offset="1" stop-color="#b0c848" stop-opacity="0.25"/></linearGradient></defs>
<rect x="333" y="24" width="212" height="210" fill="url(#gC)"/>
<clipPath id="clipC"><rect x="333" y="24" width="212" height="210"/></clipPath>
<g clip-path="url(#clipC)"><g filter="url(#blur1)">
<ellipse cx="348.8" cy="57.8" rx="5.22" ry="4.27" fill="#b81a18" opacity="0.8"/>
<ellipse cx="346.59" cy="58.82" rx="3.85" ry="3.15" fill="#c81a1a" opacity="0.6"/>
<ellipse cx="349.69" cy="57.69" rx="3.85" ry="3.15" fill="#c81a1a" opacity="0.6"/>
<ellipse cx="392.7" cy="56.7" rx="4.27" ry="4.27" fill="#b81a18" opacity="1"/>
<ellipse cx="391.17" cy="58.28" rx="3.15" ry="3.15" fill="#c81a1a" opacity="0.75"/>
<ellipse cx="394.36" cy="56.77" rx="3.15" ry="3.15" fill="#c81a1a" opacity="0.75"/>
<ellipse cx="411.8" cy="37.5" rx="2.85" ry="2.38" fill="#b81a18" opacity="0.6"/>
<ellipse cx="411.82" cy="36.71" rx="2.1" ry="1.75" fill="#c81a1a" opacity="0.45"/>
<ellipse cx="410.01" cy="37.11" rx="2.1" ry="1.75" fill="#c81a1a" opacity="0.45"/>
<ellipse cx="431" cy="40.9" rx="2.85" ry="2.38" fill="#b81a18" opacity="0.6"/>
<ellipse cx="431.31" cy="39.61" rx="2.1" ry="1.75" fill="#c81a1a" opacity="0.45"/>
<ellipse cx="432.06" cy="40.1" rx="2.1" ry="1.75" fill="#c81a1a" opacity="0.45"/>
<ellipse cx="386" cy="78" rx="4.27" ry="3.8" fill="#b81a18" opacity="0.9"/>
<ellipse cx="384.56" cy="75.8" rx="3.15" ry="2.8" fill="#c81a1a" opacity="0.68"/>
<ellipse cx="388.69" cy="79.15" rx="3.15" ry="2.8" fill="#c81a1a" opacity="0.68"/>
<ellipse cx="433.2" cy="79.2" rx="4.27" ry="3.32" fill="#b81a18" opacity="0.8"/>
<ellipse cx="435.23" cy="79.69" rx="3.15" ry="2.45" fill="#c81a1a" opacity="0.6"/>
<ellipse cx="430.68" cy="78.48" rx="3.15" ry="2.45" fill="#c81a1a" opacity="0.6"/>
<ellipse cx="346.5" cy="81.4" rx="2.38" ry="2.38" fill="#b81a18" opacity="0.5"/>
<ellipse cx="346.49" cy="80.25" rx="1.75" ry="1.75" fill="#c81a1a" opacity="0.38"/>
<ellipse cx="347.86" cy="81.01" rx="1.75" ry="1.75" fill="#c81a1a" opacity="0.38"/>
<ellipse cx="366.8" cy="94.3" rx="2.85" ry="2.38" fill="#b81a18" opacity="0.7"/>
<ellipse cx="365.56" cy="95.25" rx="2.1" ry="1.75" fill="#c81a1a" opacity="0.52"/>
<ellipse cx="365.45" cy="95.58" rx="2.1" ry="1.75" fill="#c81a1a" opacity="0.52"/>
<ellipse cx="387" cy="92.7" rx="1.9" ry="1.9" fill="#b81a18" opacity="0.5"/>
<ellipse cx="386.89" cy="92.82" rx="1.4" ry="1.4" fill="#c81a1a" opacity="0.38"/>
<ellipse cx="386.62" cy="92.66" rx="1.4" ry="1.4" fill="#c81a1a" opacity="0.38"/>
<ellipse cx="425.3" cy="99.5" rx="4.75" ry="4.75" fill="#b81a18" opacity="0.85"/>
<ellipse cx="423.42" cy="96.72" rx="3.5" ry="3.5" fill="#c81a1a" opacity="0.64"/>
<ellipse cx="427.5" cy="97.91" rx="3.5" ry="3.5" fill="#c81a1a" opacity="0.64"/>
<ellipse cx="336.4" cy="100.6" rx="2.85" ry="2.38" fill="#b81a18" opacity="0.7"/>
<ellipse cx="337.41" cy="99.73" rx="2.1" ry="1.75" fill="#c81a1a" opacity="0.52"/>
<ellipse cx="338.09" cy="101.78" rx="2.1" ry="1.75" fill="#c81a1a" opacity="0.52"/>
<ellipse cx="413" cy="115.2" rx="3.32" ry="2.85" fill="#b81a18" opacity="0.75"/>
<ellipse cx="414.07" cy="116.15" rx="2.45" ry="2.1" fill="#c81a1a" opacity="0.56"/>
<ellipse cx="413.34" cy="116.03" rx="2.45" ry="2.1" fill="#c81a1a" opacity="0.56"/>
<ellipse cx="357.8" cy="127.6" rx="3.32" ry="2.38" fill="#b81a18" opacity="0.8"/>
<ellipse cx="356.21" cy="127.53" rx="2.45" ry="1.75" fill="#c81a1a" opacity="0.6"/>
<ellipse cx="359.17" cy="126.7" rx="2.45" ry="1.75" fill="#c81a1a" opacity="0.6"/>
<ellipse cx="392.7" cy="126.5" rx="1.9" ry="1.9" fill="#b81a18" opacity="0.5"/>
<ellipse cx="393.72" cy="127.43" rx="1.4" ry="1.4" fill="#c81a1a" opacity="0.38"/>
<ellipse cx="392.48" cy="126.18" rx="1.4" ry="1.4" fill="#c81a1a" opacity="0.38"/>
<ellipse cx="396" cy="118.6" rx="1.9" ry="1.9" fill="#b81a18" opacity="0.5"/>
<ellipse cx="395.88" cy="118.33" rx="1.4" ry="1.4" fill="#c81a1a" opacity="0.38"/>
<ellipse cx="397.19" cy="118.33" rx="1.4" ry="1.4" fill="#c81a1a" opacity="0.38"/>
<ellipse cx="460.5" cy="43.8" rx="5.22" ry="3.32" fill="#b81a18" opacity="0.8"/>
<ellipse cx="457.38" cy="42.09" rx="3.85" ry="2.45" fill="#c81a1a" opacity="0.6"/>
<ellipse cx="461.94" cy="45.87" rx="3.85" ry="2.45" fill="#c81a1a" opacity="0.6"/>
<ellipse cx="514.6" cy="26.3" rx="5.22" ry="2.85" fill="#b81a18" opacity="0.7"/>
<ellipse cx="514.57" cy="26.27" rx="3.85" ry="2.1" fill="#c81a1a" opacity="0.52"/>
<ellipse cx="514.93" cy="27.19" rx="3.85" ry="2.1" fill="#c81a1a" opacity="0.52"/>
<ellipse cx="485.3" cy="26.3" rx="1.9" ry="1.9" fill="#b81a18" opacity="0.5"/>
<ellipse cx="484.63" cy="26.56" rx="1.4" ry="1.4" fill="#c81a1a" opacity="0.38"/>
<ellipse cx="485.44" cy="26.59" rx="1.4" ry="1.4" fill="#c81a1a" opacity="0.38"/>
<ellipse cx="538.2" cy="40.9" rx="3.32" ry="3.8" fill="#b81a18" opacity="0.8"/>
<ellipse cx="536.86" cy="39.32" rx="2.45" ry="2.8" fill="#c81a1a" opacity="0.6"/>
<ellipse cx="537.56" cy="42.95" rx="2.45" ry="2.8" fill="#c81a1a" opacity="0.6"/>
<ellipse cx="509" cy="55.5" rx="4.27" ry="4.27" fill="#b81a18" opacity="0.9"/>
<ellipse cx="508.17" cy="56.03" rx="3.15" ry="3.15" fill="#c81a1a" opacity="0.68"/>
<ellipse cx="507.96" cy="53.36" rx="3.15" ry="3.15" fill="#c81a1a" opacity="0.68"/>
<ellipse cx="529.2" cy="58.2" rx="2.85" ry="2.85" fill="#b81a18" opacity="0.6"/>
<ellipse cx="527.64" cy="59.33" rx="2.1" ry="2.1" fill="#c81a1a" opacity="0.45"/>
<ellipse cx="530.2" cy="57.75" rx="2.1" ry="2.1" fill="#c81a1a" opacity="0.45"/>
<ellipse cx="458.3" cy="64.5" rx="4.27" ry="3.8" fill="#b81a18" opacity="0.85"/>
<ellipse cx="459.29" cy="65.34" rx="3.15" ry="2.8" fill="#c81a1a" opacity="0.64"/>
<ellipse cx="460.45" cy="66.7" rx="3.15" ry="2.8" fill="#c81a1a" opacity="0.64"/>
<ellipse cx="486.4" cy="64.5" rx="3.8" ry="3.32" fill="#b81a18" opacity="0.8"/>
<ellipse cx="485.95" cy="66.55" rx="2.8" ry="2.45" fill="#c81a1a" opacity="0.6"/>
<ellipse cx="488.61" cy="64.88" rx="2.8" ry="2.45" fill="#c81a1a" opacity="0.6"/>
<ellipse cx="528" cy="77.6" rx="4.27" ry="3.32" fill="#b81a18" opacity="0.85"/>
<ellipse cx="530.07" cy="77.56" rx="3.15" ry="2.45" fill="#c81a1a" opacity="0.64"/>
<ellipse cx="527.33" cy="76.54" rx="3.15" ry="2.45" fill="#c81a1a" opacity="0.64"/>
<ellipse cx="498.8" cy="86.6" rx="3.8" ry="3.32" fill="#b81a18" opacity="0.75"/>
<ellipse cx="500.61" cy="85.18" rx="2.8" ry="2.45" fill="#c81a1a" opacity="0.56"/>
<ellipse cx="496.73" cy="87.88" rx="2.8" ry="2.45" fill="#c81a1a" opacity="0.56"/>
<ellipse cx="505.6" cy="103.3" rx="2.85" ry="2.85" fill="#b81a18" opacity="0.6"/>
<ellipse cx="506.59" cy="103.24" rx="2.1" ry="2.1" fill="#c81a1a" opacity="0.45"/>
<ellipse cx="506.81" cy="101.69" rx="2.1" ry="2.1" fill="#c81a1a" opacity="0.45"/>
<ellipse cx="522.5" cy="104.6" rx="2.85" ry="2.38" fill="#b81a18" opacity="0.6"/>
<ellipse cx="521.63" cy="103.97" rx="2.1" ry="1.75" fill="#c81a1a" opacity="0.45"/>
<ellipse cx="522.21" cy="103.61" rx="2.1" ry="1.75" fill="#c81a1a" opacity="0.45"/>
<ellipse cx="442.5" cy="107.3" rx="2.38" ry="2.38" fill="#b81a18" opacity="0.5"/>
<ellipse cx="441.21" cy="106.81" rx="1.75" ry="1.75" fill="#c81a1a" opacity="0.38"/>
<ellipse cx="443.7" cy="108.75" rx="1.75" ry="1.75" fill="#c81a1a" opacity="0.38"/>
<ellipse cx="486.4" cy="115.2" rx="4.27" ry="3.32" fill="#b81a18" opacity="0.85"/>
<ellipse cx="487.73" cy="115.11" rx="3.15" ry="2.45" fill="#c81a1a" opacity="0.64"/>
<ellipse cx="485.06" cy="117.13" rx="3.15" ry="2.45" fill="#c81a1a" opacity="0.64"/>
<ellipse cx="485.3" cy="127.6" rx="2.38" ry="1.9" fill="#b81a18" opacity="0.6"/>
<ellipse cx="485.38" cy="128.15" rx="1.75" ry="1.4" fill="#c81a1a" opacity="0.45"/>
<ellipse cx="483.88" cy="126.91" rx="1.75" ry="1.4" fill="#c81a1a" opacity="0.45"/>
<ellipse cx="538.2" cy="127.6" rx="4.27" ry="2.38" fill="#b81a18" opacity="0.7"/>
<ellipse cx="540.03" cy="128.49" rx="3.15" ry="1.75" fill="#c81a1a" opacity="0.52"/>
<ellipse cx="540.26" cy="127.9" rx="3.15" ry="1.75" fill="#c81a1a" opacity="0.52"/>
<ellipse cx="358.9" cy="130.3" rx="3.32" ry="3.32" fill="#b81a18" opacity="0.8"/>
<ellipse cx="358.59" cy="130.64" rx="2.45" ry="2.45" fill="#c81a1a" opacity="0.6"/>
<ellipse cx="360.37" cy="129.49" rx="2.45" ry="2.45" fill="#c81a1a" opacity="0.6"/>
<ellipse cx="374.7" cy="135.9" rx="3.32" ry="2.85" fill="#b81a18" opacity="0.7"/>
<ellipse cx="374.84" cy="135.09" rx="2.45" ry="2.1" fill="#c81a1a" opacity="0.52"/>
<ellipse cx="375.83" cy="134.14" rx="2.45" ry="2.1" fill="#c81a1a" opacity="0.52"/>
<ellipse cx="336.4" cy="148.3" rx="2.38" ry="3.32" fill="#b81a18" opacity="0.6"/>
<ellipse cx="336.96" cy="150.21" rx="1.75" ry="2.45" fill="#c81a1a" opacity="0.45"/>
<ellipse cx="334.97" cy="148.69" rx="1.75" ry="2.45" fill="#c81a1a" opacity="0.45"/>
<ellipse cx="343.1" cy="150.5" rx="2.85" ry="2.85" fill="#b81a18" opacity="0.6"/>
<ellipse cx="343.62" cy="151.77" rx="2.1" ry="2.1" fill="#c81a1a" opacity="0.45"/>
<ellipse cx="343.4" cy="149.63" rx="2.1" ry="2.1" fill="#c81a1a" opacity="0.45"/>
<ellipse cx="401.7" cy="144.9" rx="2.85" ry="2.38" fill="#b81a18" opacity="0.7"/>
<ellipse cx="401.36" cy="146.28" rx="2.1" ry="1.75" fill="#c81a1a" opacity="0.52"/>
<ellipse cx="403.16" cy="143.8" rx="2.1" ry="1.75" fill="#c81a1a" opacity="0.52"/>
<ellipse cx="405" cy="159.5" rx="3.8" ry="5.22" fill="#b81a18" opacity="0.9"/>
<ellipse cx="403.06" cy="156.82" rx="2.8" ry="3.85" fill="#c81a1a" opacity="0.68"/>
<ellipse cx="402.72" cy="159.15" rx="2.8" ry="3.85" fill="#c81a1a" opacity="0.68"/>
<ellipse cx="400.6" cy="168.5" rx="3.32" ry="3.32" fill="#b81a18" opacity="0.8"/>
<ellipse cx="399.09" cy="170.04" rx="2.45" ry="2.45" fill="#c81a1a" opacity="0.6"/>
<ellipse cx="401.25" cy="166.93" rx="2.45" ry="2.45" fill="#c81a1a" opacity="0.6"/>
<ellipse cx="429.8" cy="161.8" rx="3.32" ry="2.85" fill="#b81a18" opacity="0.6"/>
<ellipse cx="429.96" cy="161.17" rx="2.45" ry="2.1" fill="#c81a1a" opacity="0.45"/>
<ellipse cx="429.77" cy="160.79" rx="2.45" ry="2.1" fill="#c81a1a" opacity="0.45"/>
<ellipse cx="358.9" cy="171.9" rx="4.27" ry="4.27" fill="#b81a18" opacity="0.9"/>
<ellipse cx="357.1" cy="170.19" rx="3.15" ry="3.15" fill="#c81a1a" opacity="0.68"/>
<ellipse cx="358.24" cy="173.03" rx="3.15" ry="3.15" fill="#c81a1a" opacity="0.68"/>
<ellipse cx="340.9" cy="176.4" rx="3.32" ry="2.85" fill="#b81a18" opacity="0.7"/>
<ellipse cx="341.11" cy="174.77" rx="2.45" ry="2.1" fill="#c81a1a" opacity="0.52"/>
<ellipse cx="341.79" cy="177.75" rx="2.45" ry="2.1" fill="#c81a1a" opacity="0.52"/>
<ellipse cx="339.8" cy="193.3" rx="4.27" ry="3.8" fill="#b81a18" opacity="0.85"/>
<ellipse cx="341.28" cy="194.7" rx="3.15" ry="2.8" fill="#c81a1a" opacity="0.64"/>
<ellipse cx="337.14" cy="193.13" rx="3.15" ry="2.8" fill="#c81a1a" opacity="0.64"/>
<ellipse cx="413" cy="201.2" rx="3.32" ry="3.8" fill="#b81a18" opacity="0.85"/>
<ellipse cx="411.17" cy="202.47" rx="2.45" ry="2.8" fill="#c81a1a" opacity="0.64"/>
<ellipse cx="411.64" cy="202.22" rx="2.45" ry="2.8" fill="#c81a1a" opacity="0.64"/>
<ellipse cx="431" cy="193.3" rx="2.85" ry="2.85" fill="#b81a18" opacity="0.6"/>
<ellipse cx="430.11" cy="194.01" rx="2.1" ry="2.1" fill="#c81a1a" opacity="0.45"/>
<ellipse cx="430.33" cy="191.65" rx="2.1" ry="2.1" fill="#c81a1a" opacity="0.45"/>
<ellipse cx="427.6" cy="224.8" rx="3.32" ry="2.85" fill="#b81a18" opacity="0.75"/>
<ellipse cx="427.13" cy="224.11" rx="2.45" ry="2.1" fill="#c81a1a" opacity="0.56"/>
<ellipse cx="429.28" cy="224.06" rx="2.45" ry="2.1" fill="#c81a1a" opacity="0.56"/>
<ellipse cx="438.9" cy="182" rx="1.9" ry="2.85" fill="#b81a18" opacity="0.6"/>
<ellipse cx="438.91" cy="182.18" rx="1.4" ry="2.1" fill="#c81a1a" opacity="0.45"/>
<ellipse cx="439.98" cy="180.55" rx="1.4" ry="2.1" fill="#c81a1a" opacity="0.45"/>
<ellipse cx="442.5" cy="137" rx="3.8" ry="3.32" fill="#b81a18" opacity="0.8"/>
<ellipse cx="442.99" cy="137.03" rx="2.8" ry="2.45" fill="#c81a1a" opacity="0.6"/>
<ellipse cx="443.63" cy="138.96" rx="2.8" ry="2.45" fill="#c81a1a" opacity="0.6"/>
<ellipse cx="484.2" cy="131.4" rx="4.27" ry="3.32" fill="#b81a18" opacity="0.85"/>
<ellipse cx="483.17" cy="132.24" rx="3.15" ry="2.45" fill="#c81a1a" opacity="0.64"/>
<ellipse cx="484.34" cy="131.65" rx="3.15" ry="2.45" fill="#c81a1a" opacity="0.64"/>
<ellipse cx="538.2" cy="131.4" rx="5.22" ry="3.8" fill="#b81a18" opacity="0.85"/>
<ellipse cx="535.32" cy="132.91" rx="3.85" ry="2.8" fill="#c81a1a" opacity="0.64"/>
<ellipse cx="541.35" cy="130.71" rx="3.85" ry="2.8" fill="#c81a1a" opacity="0.64"/>
<ellipse cx="497.7" cy="150.5" rx="2.85" ry="2.38" fill="#b81a18" opacity="0.6"/>
<ellipse cx="497.05" cy="151.98" rx="2.1" ry="1.75" fill="#c81a1a" opacity="0.45"/>
<ellipse cx="496.29" cy="149.23" rx="2.1" ry="1.75" fill="#c81a1a" opacity="0.45"/>
<ellipse cx="471.8" cy="168.5" rx="4.27" ry="5.7" fill="#b81a18" opacity="0.9"/>
<ellipse cx="469.5" cy="170.76" rx="3.15" ry="4.2" fill="#c81a1a" opacity="0.68"/>
<ellipse cx="473.2" cy="168.13" rx="3.15" ry="4.2" fill="#c81a1a" opacity="0.68"/>
<ellipse cx="440.3" cy="183.2" rx="2.85" ry="3.32" fill="#b81a18" opacity="0.7"/>
<ellipse cx="440.74" cy="181.18" rx="2.1" ry="2.45" fill="#c81a1a" opacity="0.52"/>
<ellipse cx="440.82" cy="182.96" rx="2.1" ry="2.45" fill="#c81a1a" opacity="0.52"/>
<ellipse cx="514.6" cy="182" rx="5.22" ry="3.8" fill="#b81a18" opacity="0.9"/>
<ellipse cx="514.72" cy="181.47" rx="3.85" ry="2.8" fill="#c81a1a" opacity="0.68"/>
<ellipse cx="513.95" cy="180.68" rx="3.85" ry="2.8" fill="#c81a1a" opacity="0.68"/>
<ellipse cx="527" cy="166.3" rx="2.85" ry="2.38" fill="#b81a18" opacity="0.6"/>
<ellipse cx="525.38" cy="166.1" rx="2.1" ry="1.75" fill="#c81a1a" opacity="0.45"/>
<ellipse cx="526.09" cy="166.91" rx="2.1" ry="1.75" fill="#c81a1a" opacity="0.45"/>
<ellipse cx="538.2" cy="194.4" rx="4.27" ry="4.27" fill="#b81a18" opacity="0.85"/>
<ellipse cx="539.91" cy="195.61" rx="3.15" ry="3.15" fill="#c81a1a" opacity="0.64"/>
<ellipse cx="537.96" cy="192.98" rx="3.15" ry="3.15" fill="#c81a1a" opacity="0.64"/>
<ellipse cx="531.5" cy="188.8" rx="2.38" ry="2.38" fill="#b81a18" opacity="0.5"/>
<ellipse cx="531.16" cy="188.76" rx="1.75" ry="1.75" fill="#c81a1a" opacity="0.38"/>
<ellipse cx="531.9" cy="190.19" rx="1.75" ry="1.75" fill="#c81a1a" opacity="0.38"/>
<ellipse cx="463.9" cy="206.8" rx="2.85" ry="3.32" fill="#b81a18" opacity="0.7"/>
<ellipse cx="462.41" cy="206.71" rx="2.1" ry="2.45" fill="#c81a1a" opacity="0.52"/>
<ellipse cx="463.87" cy="207.71" rx="2.1" ry="2.45" fill="#c81a1a" opacity="0.52"/>
<ellipse cx="453.8" cy="211.3" rx="3.32" ry="2.85" fill="#b81a18" opacity="0.75"/>
<ellipse cx="455.44" cy="212.31" rx="2.45" ry="2.1" fill="#c81a1a" opacity="0.56"/>
<ellipse cx="454.33" cy="212.23" rx="2.45" ry="2.1" fill="#c81a1a" opacity="0.56"/>
<ellipse cx="492" cy="214.7" rx="4.75" ry="3.8" fill="#b81a18" opacity="0.9"/>
<ellipse cx="493.01" cy="216.42" rx="3.5" ry="2.8" fill="#c81a1a" opacity="0.68"/>
<ellipse cx="493.19" cy="215.58" rx="3.5" ry="2.8" fill="#c81a1a" opacity="0.68"/>
<ellipse cx="528" cy="223.7" rx="2.85" ry="2.38" fill="#b81a18" opacity="0.6"/>
<ellipse cx="527.08" cy="224.95" rx="2.1" ry="1.75" fill="#c81a1a" opacity="0.45"/>
<ellipse cx="527.59" cy="224.04" rx="2.1" ry="1.75" fill="#c81a1a" opacity="0.45"/>
<ellipse cx="489.8" cy="161.8" rx="2.38" ry="2.38" fill="#b81a18" opacity="0.4"/>
<ellipse cx="490.77" cy="163.19" rx="1.75" ry="1.75" fill="#c81a1a" opacity="0.3"/>
<ellipse cx="491.27" cy="160.32" rx="1.75" ry="1.75" fill="#c81a1a" opacity="0.3"/>
</g></g>
<defs><pattern id="patD" patternUnits="userSpaceOnUse" width="50" height="50"><path fill="rgb(40,145,55)" d="M2 0h1v1h-1zM4 0h1v1h-1zM7 0h1v1h-1zM10 0h1v1h-1zM15 0h1v1h-1zM17 0h1v1h-1zM24 0h1v1h-1zM29 0h1v1h-1zM37 0h1v1h-1zM40 0h1v1h-1zM43 0h1v1h-1zM45 0h1v1h-1zM49 0h1v1h-1zM0 1h1v1h-1zM2 1h2v1h-2zM9 1h1v1h-1zM11 1h1v1h-1zM14 1h1v1h-1zM17 1h1v1h-1zM21 1h1v1h-1zM26 1h1v1h-1zM31 1h1v1h-1zM39 1h1v1h-1zM46 1h1v1h-1zM48 1h1v1h-1zM0 2h1v1h-1zM15 2h1v1h-1zM18 2h1v1h-1zM20 2h1v1h-1zM24 2h2v1h-2zM31 2h1v1h-1zM33 2h2v1h-2zM37 2h1v1h-1zM43 2h1v1h-1zM48 2h2v1h-2zM1 3h1v1h-1zM3 3h1v1h-1zM6 3h2v1h-2zM11 3h1v1h-1zM16 3h1v1h-1zM23 3h1v1h-1zM29 3h1v1h-1zM34 3h1v1h-1zM43 3h1v1h-1zM48 3h1v1h-1zM2 4h1v1h-1zM6 4h1v1h-1zM10 4h1v1h-1zM16 4h1v1h-1zM22 4h2v1h-2zM38 4h2v1h-2zM41 4h1v1h-1zM46 4h1v1h-1zM7 5h1v1h-1zM24 5h1v1h-1zM29 5h1v1h-1zM40 5h1v1h-1zM47 5h1v1h-1zM1 6h2v1h-2zM4 6h4v1h-4zM14 6h1v1h-1zM24 6h1v1h-1zM26 6h1v1h-1zM33 6h1v1h-1zM43 6h1v1h-1zM47 6h2v1h-2zM11 7h1v1h-1zM20 7h1v1h-1zM31 7h2v1h-2zM38 7h1v1h-1zM40 7h1v1h-1zM45 7h3v1h-3zM6 8h1v1h-1zM15 8h1v1h-1zM22 8h1v1h-1zM24 8h1v1h-1zM29 8h1v1h-1zM31 8h1v1h-1zM34 8h1v1h-1zM42 8h1v1h-1zM45 8h2v1h-2zM2 9h1v1h-1zM6 9h1v1h-1zM16 9h1v1h-1zM24 9h1v1h-1zM31 9h1v1h-1zM40 9h1v1h-1zM47 9h2v1h-2zM0 10h2v1h-2zM12 10h1v1h-1zM28 10h1v1h-1zM32 10h1v1h-1zM36 10h1v1h-1zM42 10h1v1h-1zM45 10h1v1h-1zM49 10h1v1h-1zM0 11h1v1h-1zM8 11h1v1h-1zM22 11h1v1h-1zM27 11h1v1h-1zM32 11h1v1h-1zM38 11h1v1h-1zM40 11h2v1h-2zM43 11h1v1h-1zM13 12h1v1h-1zM15 12h1v1h-1zM22 12h1v1h-1zM27 12h2v1h-2zM39 12h2v1h-2zM43 12h1v1h-1zM45 12h1v1h-1zM47 12h1v1h-1zM1 13h1v1h-1zM3 13h1v1h-1zM11 13h1v1h-1zM19 13h1v1h-1zM27 13h1v1h-1zM29 13h1v1h-1zM31 13h2v1h-2zM34 13h1v1h-1zM38 13h1v1h-1zM49 13h1v1h-1zM1 14h1v1h-1zM11 14h2v1h-2zM20 14h1v1h-1zM25 14h1v1h-1zM27 14h1v1h-1zM47 14h1v1h-1zM49 14h1v1h-1zM2 15h1v1h-1zM12 15h4v1h-4zM18 15h1v1h-1zM29 15h2v1h-2zM37 15h2v1h-2zM41 15h1v1h-1zM44 15h1v1h-1zM46 15h1v1h-1zM8 16h1v1h-1zM10 16h1v1h-1zM25 16h1v1h-1zM37 16h1v1h-1zM42 16h1v1h-1zM1 17h4v1h-4zM14 17h2v1h-2zM24 17h1v1h-1zM28 17h3v1h-3zM33 17h1v1h-1zM39 17h1v1h-1zM47 17h1v1h-1zM1 18h1v1h-1zM3 18h3v1h-3zM7 18h1v1h-1zM9 18h1v1h-1zM17 18h2v1h-2zM22 18h1v1h-1zM26 18h1v1h-1zM28 18h2v1h-2zM36 18h1v1h-1zM40 18h1v1h-1zM43 18h1v1h-1zM49 18h1v1h-1zM2 19h1v1h-1zM10 19h1v1h-1zM21 19h1v1h-1zM24 19h1v1h-1zM26 19h1v1h-1zM37 19h1v1h-1zM42 19h1v1h-1zM45 19h1v1h-1zM15 20h1v1h-1zM19 20h1v1h-1zM23 20h1v1h-1zM26 20h1v1h-1zM28 20h2v1h-2zM35 20h1v1h-1zM39 20h1v1h-1zM42 20h1v1h-1zM1 21h2v1h-2zM4 21h1v1h-1zM11 21h1v1h-1zM33 21h1v1h-1zM39 21h1v1h-1zM9 22h1v1h-1zM21 22h1v1h-1zM25 22h1v1h-1zM27 22h1v1h-1zM35 22h1v1h-1zM37 22h1v1h-1zM42 22h1v1h-1zM5 23h1v1h-1zM7 23h1v1h-1zM26 23h1v1h-1zM29 23h1v1h-1zM36 23h1v1h-1zM6 24h2v1h-2zM13 24h1v1h-1zM20 24h1v1h-1zM22 24h2v1h-2zM27 24h2v1h-2zM38 24h1v1h-1zM0 25h1v1h-1zM4 25h1v1h-1zM6 25h1v1h-1zM9 25h1v1h-1zM13 25h2v1h-2zM21 25h1v1h-1zM26 25h1v1h-1zM30 25h2v1h-2zM40 25h3v1h-3zM21 26h1v1h-1zM24 26h1v1h-1zM38 26h1v1h-1zM43 26h1v1h-1zM46 26h1v1h-1zM49 26h1v1h-1zM0 27h1v1h-1zM3 27h1v1h-1zM14 27h1v1h-1zM24 27h1v1h-1zM33 27h1v1h-1zM39 27h1v1h-1zM41 27h1v1h-1zM44 27h1v1h-1zM48 27h1v1h-1zM5 28h1v1h-1zM8 28h1v1h-1zM11 28h1v1h-1zM16 28h1v1h-1zM24 28h1v1h-1zM27 28h1v1h-1zM30 28h1v1h-1zM36 28h1v1h-1zM47 28h1v1h-1zM0 29h1v1h-1zM7 29h1v1h-1zM15 29h1v1h-1zM21 29h1v1h-1zM29 29h1v1h-1zM34 29h1v1h-1zM37 29h1v1h-1zM5 30h2v1h-2zM35 30h1v1h-1zM41 30h1v1h-1zM44 30h1v1h-1zM48 30h1v1h-1zM3 31h1v1h-1zM18 31h1v1h-1zM22 31h1v1h-1zM31 31h1v1h-1zM42 31h2v1h-2zM2 32h1v1h-1zM4 32h1v1h-1zM7 32h2v1h-2zM13 32h1v1h-1zM19 32h1v1h-1zM24 32h1v1h-1zM31 32h2v1h-2zM41 32h2v1h-2zM47 32h1v1h-1zM15 33h1v1h-1zM18 33h2v1h-2zM21 33h1v1h-1zM23 33h2v1h-2zM31 33h1v1h-1zM34 33h1v1h-1zM38 33h1v1h-1zM42 33h1v1h-1zM3 34h1v1h-1zM5 34h1v1h-1zM11 34h1v1h-1zM20 34h1v1h-1zM23 34h1v1h-1zM29 34h1v1h-1zM37 34h2v1h-2zM3 35h1v1h-1zM26 35h1v1h-1zM29 35h1v1h-1zM37 35h1v1h-1zM42 35h1v1h-1zM49 35h1v1h-1zM5 36h1v1h-1zM12 36h1v1h-1zM15 36h2v1h-2zM25 36h1v1h-1zM33 36h2v1h-2zM39 36h1v1h-1zM45 36h2v1h-2zM0 37h1v1h-1zM8 37h1v1h-1zM11 37h1v1h-1zM27 37h1v1h-1zM32 37h1v1h-1zM1 38h1v1h-1zM10 38h1v1h-1zM13 38h1v1h-1zM22 38h1v1h-1zM27 38h1v1h-1zM30 38h1v1h-1zM33 38h1v1h-1zM36 38h1v1h-1zM44 38h1v1h-1zM3 39h2v1h-2zM6 39h1v1h-1zM8 39h1v1h-1zM16 39h1v1h-1zM23 39h1v1h-1zM26 39h1v1h-1zM33 39h2v1h-2zM39 39h1v1h-1zM42 39h1v1h-1zM10 40h1v1h-1zM17 40h1v1h-1zM19 40h3v1h-3zM25 40h1v1h-1zM27 40h2v1h-2zM33 40h1v1h-1zM40 40h1v1h-1zM42 40h1v1h-1zM44 40h1v1h-1zM4 41h1v1h-1zM6 41h1v1h-1zM9 41h1v1h-1zM12 41h1v1h-1zM18 41h1v1h-1zM29 41h1v1h-1zM33 41h1v1h-1zM44 41h1v1h-1zM48 41h1v1h-1zM8 42h1v1h-1zM12 42h1v1h-1zM15 42h1v1h-1zM17 42h1v1h-1zM22 42h1v1h-1zM25 42h1v1h-1zM34 42h1v1h-1zM39 42h1v1h-1zM41 42h1v1h-1zM0 43h1v1h-1zM2 43h1v1h-1zM17 43h1v1h-1zM24 43h1v1h-1zM27 43h1v1h-1zM41 43h1v1h-1zM48 43h2v1h-2zM3 44h1v1h-1zM22 44h1v1h-1zM25 44h1v1h-1zM32 44h1v1h-1zM34 44h4v1h-4zM43 44h1v1h-1zM48 44h1v1h-1zM3 45h1v1h-1zM6 45h2v1h-2zM10 45h1v1h-1zM18 45h2v1h-2zM26 45h2v1h-2zM33 45h1v1h-1zM41 45h1v1h-1zM47 45h1v1h-1zM1 46h1v1h-1zM5 46h1v1h-1zM8 46h1v1h-1zM11 46h1v1h-1zM14 46h1v1h-1zM21 46h1v1h-1zM25 46h1v1h-1zM27 46h1v1h-1zM42 46h1v1h-1zM45 46h1v1h-1zM0 47h1v1h-1zM3 47h1v1h-1zM9 47h1v1h-1zM13 47h1v1h-1zM19 47h1v1h-1zM28 47h1v1h-1zM33 47h1v1h-1zM36 47h2v1h-2zM45 47h1v1h-1zM7 48h1v1h-1zM9 48h1v1h-1zM12 48h1v1h-1zM17 48h1v1h-1zM25 48h1v1h-1zM43 48h2v1h-2zM1 49h2v1h-2zM5 49h1v1h-1zM10 49h2v1h-2zM13 49h1v1h-1zM17 49h1v1h-1zM19 49h1v1h-1zM26 49h1v1h-1zM28 49h2v1h-2zM39 49h2v1h-2zM47 49h3v1h-3z"/><path fill="rgb(45,95,35)" d="M16 0h1v1h-1zM25 0h1v1h-1zM30 0h3v1h-3zM34 0h1v1h-1zM48 0h1v1h-1zM18 1h1v1h-1zM24 1h1v1h-1zM41 1h1v1h-1zM43 1h1v1h-1zM45 1h1v1h-1zM5 2h1v1h-1zM8 2h1v1h-1zM17 2h1v1h-1zM26 2h1v1h-1zM5 3h1v1h-1zM26 3h1v1h-1zM38 3h1v1h-1zM49 3h1v1h-1zM1 4h1v1h-1zM18 4h1v1h-1zM20 4h2v1h-2zM32 4h2v1h-2zM35 4h1v1h-1zM42 4h1v1h-1zM45 4h1v1h-1zM47 4h2v1h-2zM8 5h2v1h-2zM15 5h2v1h-2zM21 5h1v1h-1zM23 5h1v1h-1zM26 5h1v1h-1zM37 5h1v1h-1zM44 5h1v1h-1zM49 5h1v1h-1zM17 6h2v1h-2zM20 6h1v1h-1zM32 6h1v1h-1zM36 6h1v1h-1zM44 6h1v1h-1zM49 6h1v1h-1zM2 7h2v1h-2zM25 7h1v1h-1zM35 7h1v1h-1zM37 7h1v1h-1zM39 7h1v1h-1zM49 7h1v1h-1zM10 8h1v1h-1zM12 8h1v1h-1zM18 8h1v1h-1zM23 8h1v1h-1zM26 8h1v1h-1zM28 8h1v1h-1zM32 8h2v1h-2zM39 8h1v1h-1zM44 8h1v1h-1zM18 9h1v1h-1zM20 9h1v1h-1zM28 9h2v1h-2zM35 9h1v1h-1zM49 9h1v1h-1zM3 10h1v1h-1zM6 10h1v1h-1zM8 10h1v1h-1zM15 10h1v1h-1zM21 10h1v1h-1zM43 10h1v1h-1zM11 11h1v1h-1zM14 11h1v1h-1zM18 11h1v1h-1zM28 11h1v1h-1zM35 11h1v1h-1zM37 11h1v1h-1zM46 11h1v1h-1zM48 11h1v1h-1zM6 12h2v1h-2zM9 12h1v1h-1zM12 12h1v1h-1zM32 12h1v1h-1zM37 12h1v1h-1zM42 12h1v1h-1zM46 12h1v1h-1zM0 13h1v1h-1zM9 13h1v1h-1zM13 13h1v1h-1zM26 13h1v1h-1zM30 13h1v1h-1zM40 13h1v1h-1zM46 13h1v1h-1zM48 13h1v1h-1zM0 14h1v1h-1zM3 14h1v1h-1zM5 14h1v1h-1zM9 14h1v1h-1zM26 14h1v1h-1zM31 14h1v1h-1zM35 14h1v1h-1zM39 14h1v1h-1zM0 15h1v1h-1zM3 15h1v1h-1zM7 15h1v1h-1zM11 15h1v1h-1zM26 15h1v1h-1zM31 15h3v1h-3zM36 15h1v1h-1zM47 15h1v1h-1zM9 16h1v1h-1zM26 16h1v1h-1zM28 16h1v1h-1zM33 16h1v1h-1zM36 16h1v1h-1zM41 16h1v1h-1zM13 17h1v1h-1zM20 17h1v1h-1zM22 17h1v1h-1zM25 17h1v1h-1zM31 17h1v1h-1zM41 17h1v1h-1zM11 18h1v1h-1zM19 18h1v1h-1zM23 18h1v1h-1zM25 18h1v1h-1zM27 18h1v1h-1zM31 18h1v1h-1zM33 18h1v1h-1zM46 18h1v1h-1zM14 19h1v1h-1zM23 19h1v1h-1zM31 19h2v1h-2zM40 19h1v1h-1zM11 20h1v1h-1zM24 20h1v1h-1zM31 20h1v1h-1zM34 20h1v1h-1zM48 20h1v1h-1zM7 21h1v1h-1zM25 21h1v1h-1zM32 21h1v1h-1zM38 21h1v1h-1zM49 21h1v1h-1zM28 22h1v1h-1zM36 22h1v1h-1zM39 22h1v1h-1zM43 22h1v1h-1zM4 23h1v1h-1zM8 23h1v1h-1zM11 23h1v1h-1zM31 23h1v1h-1zM34 23h1v1h-1zM37 23h1v1h-1zM43 23h1v1h-1zM4 24h1v1h-1zM8 24h2v1h-2zM15 24h2v1h-2zM24 24h1v1h-1zM30 24h1v1h-1zM36 24h1v1h-1zM47 24h1v1h-1zM8 25h1v1h-1zM11 25h1v1h-1zM36 25h1v1h-1zM39 25h1v1h-1zM48 25h1v1h-1zM4 26h1v1h-1zM13 26h1v1h-1zM15 26h1v1h-1zM28 26h2v1h-2zM48 26h1v1h-1zM2 27h1v1h-1zM4 27h1v1h-1zM9 27h1v1h-1zM19 27h2v1h-2zM23 27h1v1h-1zM47 27h1v1h-1zM0 28h1v1h-1zM6 28h1v1h-1zM9 28h1v1h-1zM23 28h1v1h-1zM34 28h1v1h-1zM37 28h1v1h-1zM44 28h1v1h-1zM2 29h2v1h-2zM17 29h1v1h-1zM24 29h1v1h-1zM28 29h1v1h-1zM35 29h1v1h-1zM41 29h1v1h-1zM45 29h1v1h-1zM48 29h1v1h-1zM4 30h1v1h-1zM11 30h1v1h-1zM27 30h1v1h-1zM29 30h3v1h-3zM40 30h1v1h-1zM17 31h1v1h-1zM19 31h1v1h-1zM35 31h2v1h-2zM41 31h1v1h-1zM44 31h2v1h-2zM49 31h1v1h-1zM0 32h1v1h-1zM9 32h2v1h-2zM20 32h1v1h-1zM26 32h1v1h-1zM40 32h1v1h-1zM17 33h1v1h-1zM47 33h1v1h-1zM8 34h2v1h-2zM14 34h1v1h-1zM24 34h1v1h-1zM33 34h2v1h-2zM43 34h1v1h-1zM47 34h1v1h-1zM49 34h1v1h-1zM9 35h1v1h-1zM12 35h1v1h-1zM17 35h1v1h-1zM19 35h1v1h-1zM31 35h1v1h-1zM34 35h2v1h-2zM38 35h3v1h-3zM45 35h1v1h-1zM1 36h1v1h-1zM9 36h2v1h-2zM23 36h1v1h-1zM32 36h1v1h-1zM36 36h1v1h-1zM41 36h2v1h-2zM44 36h1v1h-1zM4 37h1v1h-1zM7 37h1v1h-1zM9 37h2v1h-2zM3 38h1v1h-1zM15 38h4v1h-4zM20 38h1v1h-1zM26 38h1v1h-1zM32 38h1v1h-1zM37 38h1v1h-1zM41 38h1v1h-1zM43 38h1v1h-1zM14 39h1v1h-1zM17 39h1v1h-1zM29 39h3v1h-3zM35 39h1v1h-1zM40 39h1v1h-1zM43 39h1v1h-1zM48 39h1v1h-1zM2 40h1v1h-1zM12 40h1v1h-1zM14 40h1v1h-1zM22 40h2v1h-2zM35 40h1v1h-1zM48 40h1v1h-1zM1 41h1v1h-1zM3 41h1v1h-1zM15 41h1v1h-1zM17 41h1v1h-1zM30 41h2v1h-2zM45 41h1v1h-1zM49 41h1v1h-1zM0 42h1v1h-1zM9 42h1v1h-1zM11 42h1v1h-1zM18 42h1v1h-1zM33 42h1v1h-1zM35 42h1v1h-1zM42 42h1v1h-1zM3 43h1v1h-1zM9 43h1v1h-1zM29 43h1v1h-1zM32 43h1v1h-1zM46 43h1v1h-1zM17 44h1v1h-1zM31 44h1v1h-1zM33 44h1v1h-1zM40 44h1v1h-1zM44 44h1v1h-1zM2 45h1v1h-1zM4 45h1v1h-1zM8 45h1v1h-1zM21 45h1v1h-1zM28 45h1v1h-1zM37 45h1v1h-1zM44 45h2v1h-2zM2 46h1v1h-1zM12 46h1v1h-1zM15 46h1v1h-1zM17 46h1v1h-1zM22 46h1v1h-1zM30 46h1v1h-1zM32 46h1v1h-1zM37 46h2v1h-2zM46 46h1v1h-1zM49 46h1v1h-1zM1 47h2v1h-2zM21 47h2v1h-2zM25 47h3v1h-3zM29 47h1v1h-1zM49 47h1v1h-1zM1 48h1v1h-1zM11 48h1v1h-1zM18 48h1v1h-1zM26 48h1v1h-1zM30 48h1v1h-1zM0 49h1v1h-1zM16 49h1v1h-1zM24 49h1v1h-1zM34 49h1v1h-1zM36 49h1v1h-1zM41 49h1v1h-1z"/><path fill="rgb(98,88,24)" d="M0 0h2v1h-2zM5 0h1v1h-1zM11 0h1v1h-1zM13 0h1v1h-1zM18 0h1v1h-1zM22 0h1v1h-1zM28 0h1v1h-1zM38 0h2v1h-2zM41 0h1v1h-1zM1 1h1v1h-1zM4 1h1v1h-1zM6 1h2v1h-2zM27 1h1v1h-1zM32 1h1v1h-1zM35 1h2v1h-2zM42 1h1v1h-1zM44 1h1v1h-1zM3 2h1v1h-1zM7 2h1v1h-1zM10 2h2v1h-2zM13 2h1v1h-1zM27 2h1v1h-1zM30 2h1v1h-1zM38 2h1v1h-1zM41 2h1v1h-1zM47 2h1v1h-1zM0 3h1v1h-1zM8 3h1v1h-1zM10 3h1v1h-1zM12 3h1v1h-1zM14 3h1v1h-1zM19 3h3v1h-3zM25 3h1v1h-1zM31 3h2v1h-2zM36 3h1v1h-1zM47 3h1v1h-1zM3 4h3v1h-3zM8 4h1v1h-1zM17 4h1v1h-1zM26 4h1v1h-1zM28 4h3v1h-3zM34 4h1v1h-1zM36 4h1v1h-1zM11 5h2v1h-2zM14 5h1v1h-1zM17 5h1v1h-1zM20 5h1v1h-1zM22 5h1v1h-1zM25 5h1v1h-1zM31 5h2v1h-2zM38 5h2v1h-2zM42 5h1v1h-1zM46 5h1v1h-1zM0 6h1v1h-1zM11 6h1v1h-1zM13 6h1v1h-1zM16 6h1v1h-1zM19 6h1v1h-1zM27 6h1v1h-1zM34 6h1v1h-1zM37 6h1v1h-1zM39 6h1v1h-1zM41 6h1v1h-1zM0 7h1v1h-1zM5 7h1v1h-1zM10 7h1v1h-1zM13 7h2v1h-2zM21 7h1v1h-1zM26 7h1v1h-1zM28 7h1v1h-1zM41 7h1v1h-1zM43 7h1v1h-1zM1 8h1v1h-1zM7 8h1v1h-1zM9 8h1v1h-1zM11 8h1v1h-1zM17 8h1v1h-1zM21 8h1v1h-1zM25 8h1v1h-1zM30 8h1v1h-1zM37 8h1v1h-1zM49 8h1v1h-1zM8 9h1v1h-1zM10 9h1v1h-1zM13 9h2v1h-2zM19 9h1v1h-1zM22 9h1v1h-1zM30 9h1v1h-1zM33 9h1v1h-1zM39 9h1v1h-1zM41 9h2v1h-2zM5 10h1v1h-1zM10 10h1v1h-1zM16 10h1v1h-1zM18 10h1v1h-1zM24 10h1v1h-1zM27 10h1v1h-1zM29 10h1v1h-1zM33 10h1v1h-1zM35 10h1v1h-1zM39 10h1v1h-1zM2 11h3v1h-3zM6 11h1v1h-1zM12 11h1v1h-1zM23 11h2v1h-2zM26 11h1v1h-1zM36 11h1v1h-1zM47 11h1v1h-1zM2 12h3v1h-3zM16 12h1v1h-1zM19 12h2v1h-2zM23 12h1v1h-1zM25 12h1v1h-1zM29 12h3v1h-3zM33 12h1v1h-1zM7 13h2v1h-2zM12 13h1v1h-1zM14 13h1v1h-1zM23 13h1v1h-1zM28 13h1v1h-1zM33 13h1v1h-1zM35 13h1v1h-1zM43 13h2v1h-2zM6 14h1v1h-1zM8 14h1v1h-1zM22 14h1v1h-1zM24 14h1v1h-1zM30 14h1v1h-1zM33 14h2v1h-2zM37 14h2v1h-2zM40 14h3v1h-3zM44 14h1v1h-1zM4 15h1v1h-1zM10 15h1v1h-1zM21 15h2v1h-2zM28 15h1v1h-1zM35 15h1v1h-1zM39 15h2v1h-2zM42 15h2v1h-2zM45 15h1v1h-1zM49 15h1v1h-1zM0 16h1v1h-1zM6 16h1v1h-1zM11 16h3v1h-3zM15 16h2v1h-2zM20 16h2v1h-2zM27 16h1v1h-1zM29 16h1v1h-1zM31 16h2v1h-2zM35 16h1v1h-1zM40 16h1v1h-1zM7 17h1v1h-1zM11 17h1v1h-1zM21 17h1v1h-1zM32 17h1v1h-1zM35 17h1v1h-1zM37 17h1v1h-1zM42 17h1v1h-1zM45 17h1v1h-1zM48 17h2v1h-2zM15 18h1v1h-1zM20 18h1v1h-1zM24 18h1v1h-1zM0 19h1v1h-1zM3 19h1v1h-1zM5 19h2v1h-2zM12 19h2v1h-2zM17 19h3v1h-3zM29 19h1v1h-1zM36 19h1v1h-1zM48 19h1v1h-1zM2 20h1v1h-1zM9 20h2v1h-2zM14 20h1v1h-1zM25 20h1v1h-1zM40 20h2v1h-2zM6 21h1v1h-1zM8 21h1v1h-1zM13 21h1v1h-1zM15 21h1v1h-1zM17 21h2v1h-2zM21 21h2v1h-2zM27 21h1v1h-1zM36 21h2v1h-2zM40 21h3v1h-3zM44 21h1v1h-1zM47 21h2v1h-2zM6 22h1v1h-1zM13 22h1v1h-1zM18 22h1v1h-1zM24 22h1v1h-1zM26 22h1v1h-1zM29 22h1v1h-1zM34 22h1v1h-1zM41 22h1v1h-1zM45 22h1v1h-1zM47 22h2v1h-2zM3 23h1v1h-1zM6 23h1v1h-1zM9 23h2v1h-2zM12 23h1v1h-1zM23 23h2v1h-2zM27 23h1v1h-1zM30 23h1v1h-1zM38 23h1v1h-1zM42 23h1v1h-1zM49 23h1v1h-1zM1 24h1v1h-1zM10 24h2v1h-2zM17 24h2v1h-2zM25 24h1v1h-1zM29 24h1v1h-1zM39 24h1v1h-1zM43 24h2v1h-2zM48 24h1v1h-1zM10 25h1v1h-1zM15 25h3v1h-3zM19 25h1v1h-1zM22 25h1v1h-1zM28 25h1v1h-1zM32 25h1v1h-1zM35 25h1v1h-1zM38 25h1v1h-1zM47 25h1v1h-1zM49 25h1v1h-1zM0 26h1v1h-1zM3 26h1v1h-1zM11 26h1v1h-1zM19 26h2v1h-2zM25 26h3v1h-3zM30 26h1v1h-1zM32 26h3v1h-3zM40 26h1v1h-1zM42 26h1v1h-1zM44 26h1v1h-1zM1 27h1v1h-1zM6 27h1v1h-1zM15 27h3v1h-3zM25 27h1v1h-1zM29 27h1v1h-1zM35 27h3v1h-3zM2 28h1v1h-1zM10 28h1v1h-1zM13 28h3v1h-3zM22 28h1v1h-1zM35 28h1v1h-1zM40 28h1v1h-1zM45 28h1v1h-1zM48 28h2v1h-2zM9 29h2v1h-2zM12 29h1v1h-1zM18 29h2v1h-2zM22 29h1v1h-1zM26 29h2v1h-2zM30 29h2v1h-2zM43 29h2v1h-2zM46 29h1v1h-1zM9 30h2v1h-2zM15 30h1v1h-1zM17 30h1v1h-1zM22 30h3v1h-3zM28 30h1v1h-1zM33 30h1v1h-1zM39 30h1v1h-1zM45 30h1v1h-1zM47 30h1v1h-1zM49 30h1v1h-1zM1 31h1v1h-1zM4 31h2v1h-2zM9 31h1v1h-1zM13 31h1v1h-1zM15 31h2v1h-2zM26 31h2v1h-2zM39 31h2v1h-2zM48 31h1v1h-1zM1 32h1v1h-1zM3 32h1v1h-1zM12 32h1v1h-1zM14 32h1v1h-1zM17 32h1v1h-1zM23 32h1v1h-1zM25 32h1v1h-1zM33 32h2v1h-2zM37 32h1v1h-1zM49 32h1v1h-1zM0 33h3v1h-3zM4 33h1v1h-1zM6 33h1v1h-1zM10 33h1v1h-1zM12 33h1v1h-1zM16 33h1v1h-1zM25 33h1v1h-1zM28 33h2v1h-2zM32 33h2v1h-2zM35 33h2v1h-2zM41 33h1v1h-1zM49 33h1v1h-1zM1 34h1v1h-1zM6 34h1v1h-1zM12 34h1v1h-1zM16 34h3v1h-3zM22 34h1v1h-1zM26 34h2v1h-2zM36 34h1v1h-1zM44 34h3v1h-3zM48 34h1v1h-1zM0 35h1v1h-1zM2 35h1v1h-1zM11 35h1v1h-1zM13 35h1v1h-1zM20 35h1v1h-1zM25 35h1v1h-1zM30 35h1v1h-1zM36 35h1v1h-1zM46 35h1v1h-1zM4 36h1v1h-1zM6 36h1v1h-1zM11 36h1v1h-1zM20 36h1v1h-1zM24 36h1v1h-1zM26 36h1v1h-1zM40 36h1v1h-1zM43 36h1v1h-1zM48 36h2v1h-2zM1 37h1v1h-1zM14 37h1v1h-1zM18 37h1v1h-1zM29 37h1v1h-1zM36 37h1v1h-1zM38 37h2v1h-2zM0 38h1v1h-1zM2 38h1v1h-1zM8 38h2v1h-2zM11 38h1v1h-1zM14 38h1v1h-1zM29 38h1v1h-1zM47 38h1v1h-1zM1 39h2v1h-2zM5 39h1v1h-1zM10 39h1v1h-1zM13 39h1v1h-1zM27 39h1v1h-1zM36 39h2v1h-2zM41 39h1v1h-1zM7 40h1v1h-1zM18 40h1v1h-1zM26 40h1v1h-1zM34 40h1v1h-1zM38 40h2v1h-2zM41 40h1v1h-1zM49 40h1v1h-1zM0 41h1v1h-1zM11 41h1v1h-1zM13 41h1v1h-1zM19 41h3v1h-3zM24 41h1v1h-1zM27 41h1v1h-1zM37 41h1v1h-1zM41 41h2v1h-2zM46 41h2v1h-2zM7 42h1v1h-1zM10 42h1v1h-1zM13 42h1v1h-1zM16 42h1v1h-1zM20 42h1v1h-1zM23 42h2v1h-2zM26 42h2v1h-2zM32 42h1v1h-1zM46 42h1v1h-1zM1 43h1v1h-1zM5 43h1v1h-1zM10 43h1v1h-1zM13 43h4v1h-4zM18 43h1v1h-1zM21 43h1v1h-1zM36 43h1v1h-1zM38 43h2v1h-2zM44 43h2v1h-2zM47 43h1v1h-1zM0 44h1v1h-1zM6 44h1v1h-1zM9 44h1v1h-1zM14 44h1v1h-1zM19 44h1v1h-1zM29 44h1v1h-1zM45 44h1v1h-1zM49 44h1v1h-1zM1 45h1v1h-1zM15 45h1v1h-1zM20 45h1v1h-1zM24 45h1v1h-1zM29 45h1v1h-1zM31 45h2v1h-2zM38 45h2v1h-2zM43 45h1v1h-1zM0 46h1v1h-1zM23 46h2v1h-2zM26 46h1v1h-1zM34 46h3v1h-3zM4 47h1v1h-1zM10 47h2v1h-2zM23 47h1v1h-1zM30 47h1v1h-1zM34 47h1v1h-1zM39 47h1v1h-1zM41 47h1v1h-1zM43 47h1v1h-1zM47 47h2v1h-2zM2 48h1v1h-1zM4 48h2v1h-2zM13 48h1v1h-1zM19 48h1v1h-1zM21 48h1v1h-1zM23 48h1v1h-1zM29 48h1v1h-1zM33 48h1v1h-1zM45 48h1v1h-1zM4 49h1v1h-1zM7 49h1v1h-1zM12 49h1v1h-1zM14 49h1v1h-1zM23 49h1v1h-1zM33 49h1v1h-1zM42 49h1v1h-1zM44 49h2v1h-2z"/><path fill="rgb(138,96,28)" d="M8 0h2v1h-2zM20 0h1v1h-1zM26 0h1v1h-1zM44 0h1v1h-1zM46 0h1v1h-1zM8 1h1v1h-1zM10 1h1v1h-1zM12 1h1v1h-1zM15 1h2v1h-2zM25 1h1v1h-1zM28 1h2v1h-2zM34 1h1v1h-1zM38 1h1v1h-1zM47 1h1v1h-1zM14 2h1v1h-1zM23 2h1v1h-1zM28 2h1v1h-1zM32 2h1v1h-1zM35 2h1v1h-1zM2 3h1v1h-1zM9 3h1v1h-1zM24 3h1v1h-1zM33 3h1v1h-1zM35 3h1v1h-1zM41 3h1v1h-1zM44 3h3v1h-3zM0 4h1v1h-1zM12 4h1v1h-1zM31 4h1v1h-1zM44 4h1v1h-1zM10 5h1v1h-1zM18 5h2v1h-2zM28 5h1v1h-1zM30 5h1v1h-1zM33 5h1v1h-1zM41 5h1v1h-1zM10 6h1v1h-1zM21 6h1v1h-1zM23 6h1v1h-1zM29 6h1v1h-1zM35 6h1v1h-1zM40 6h1v1h-1zM46 6h1v1h-1zM15 7h1v1h-1zM17 7h1v1h-1zM29 7h1v1h-1zM34 7h1v1h-1zM48 7h1v1h-1zM0 8h1v1h-1zM2 8h1v1h-1zM14 8h1v1h-1zM19 8h1v1h-1zM35 8h1v1h-1zM38 8h1v1h-1zM41 8h1v1h-1zM0 9h1v1h-1zM7 9h1v1h-1zM11 9h1v1h-1zM36 9h1v1h-1zM38 9h1v1h-1zM2 10h1v1h-1zM4 10h1v1h-1zM11 10h1v1h-1zM17 10h1v1h-1zM20 10h1v1h-1zM25 10h2v1h-2zM34 10h1v1h-1zM37 10h1v1h-1zM41 10h1v1h-1zM20 11h1v1h-1zM31 11h1v1h-1zM14 12h1v1h-1zM17 12h1v1h-1zM36 12h1v1h-1zM38 12h1v1h-1zM6 13h1v1h-1zM10 13h1v1h-1zM16 13h3v1h-3zM42 13h1v1h-1zM4 14h1v1h-1zM19 14h1v1h-1zM21 14h1v1h-1zM45 14h2v1h-2zM8 15h1v1h-1zM17 15h1v1h-1zM24 15h1v1h-1zM1 16h1v1h-1zM3 16h1v1h-1zM14 16h1v1h-1zM17 16h1v1h-1zM34 16h1v1h-1zM43 16h2v1h-2zM46 16h3v1h-3zM9 17h2v1h-2zM26 17h2v1h-2zM36 17h1v1h-1zM43 17h2v1h-2zM0 18h1v1h-1zM10 18h1v1h-1zM12 18h1v1h-1zM14 18h1v1h-1zM37 18h1v1h-1zM44 18h2v1h-2zM1 19h1v1h-1zM16 19h1v1h-1zM20 19h1v1h-1zM30 19h1v1h-1zM41 19h1v1h-1zM47 19h1v1h-1zM49 19h1v1h-1zM4 20h1v1h-1zM6 20h1v1h-1zM12 20h1v1h-1zM17 20h2v1h-2zM32 20h2v1h-2zM49 20h1v1h-1zM10 21h1v1h-1zM23 21h2v1h-2zM29 21h1v1h-1zM34 21h2v1h-2zM5 22h1v1h-1zM8 22h1v1h-1zM11 22h1v1h-1zM14 22h3v1h-3zM19 22h1v1h-1zM30 22h1v1h-1zM32 22h1v1h-1zM38 22h1v1h-1zM40 22h1v1h-1zM46 22h1v1h-1zM1 23h1v1h-1zM14 23h2v1h-2zM17 23h1v1h-1zM21 23h1v1h-1zM25 23h1v1h-1zM32 23h1v1h-1zM35 23h1v1h-1zM39 23h1v1h-1zM47 23h2v1h-2zM0 24h1v1h-1zM19 24h1v1h-1zM21 24h1v1h-1zM37 24h1v1h-1zM41 24h1v1h-1zM3 25h1v1h-1zM5 25h1v1h-1zM25 25h1v1h-1zM29 25h1v1h-1zM37 25h1v1h-1zM46 25h1v1h-1zM23 26h1v1h-1zM47 26h1v1h-1zM7 27h1v1h-1zM11 27h1v1h-1zM26 27h1v1h-1zM28 27h1v1h-1zM31 27h2v1h-2zM45 27h1v1h-1zM4 28h1v1h-1zM7 28h1v1h-1zM17 28h2v1h-2zM26 28h1v1h-1zM31 28h1v1h-1zM38 28h1v1h-1zM41 28h1v1h-1zM1 29h1v1h-1zM20 29h1v1h-1zM23 29h1v1h-1zM2 30h1v1h-1zM7 30h1v1h-1zM12 30h1v1h-1zM21 30h1v1h-1zM25 30h1v1h-1zM37 30h1v1h-1zM0 31h1v1h-1zM2 31h1v1h-1zM11 31h1v1h-1zM20 31h1v1h-1zM28 31h1v1h-1zM46 31h1v1h-1zM15 32h1v1h-1zM22 32h1v1h-1zM29 32h2v1h-2zM44 32h1v1h-1zM48 32h1v1h-1zM8 33h1v1h-1zM22 33h1v1h-1zM30 33h1v1h-1zM40 33h1v1h-1zM44 33h1v1h-1zM48 33h1v1h-1zM2 34h1v1h-1zM10 34h1v1h-1zM21 34h1v1h-1zM30 34h1v1h-1zM40 34h1v1h-1zM1 35h1v1h-1zM4 35h1v1h-1zM23 35h2v1h-2zM27 35h2v1h-2zM41 35h1v1h-1zM47 35h1v1h-1zM7 36h2v1h-2zM13 36h1v1h-1zM27 36h3v1h-3zM38 36h1v1h-1zM12 37h1v1h-1zM19 37h2v1h-2zM22 37h1v1h-1zM24 37h1v1h-1zM30 37h1v1h-1zM33 37h3v1h-3zM42 37h1v1h-1zM44 37h1v1h-1zM46 37h2v1h-2zM38 38h2v1h-2zM46 38h1v1h-1zM48 38h1v1h-1zM0 39h1v1h-1zM9 39h1v1h-1zM12 39h1v1h-1zM15 39h1v1h-1zM22 39h1v1h-1zM46 39h1v1h-1zM3 40h1v1h-1zM6 40h1v1h-1zM15 40h1v1h-1zM29 40h1v1h-1zM31 40h2v1h-2zM46 40h2v1h-2zM5 41h1v1h-1zM8 41h1v1h-1zM16 41h1v1h-1zM32 41h1v1h-1zM35 41h1v1h-1zM39 41h1v1h-1zM40 42h1v1h-1zM43 42h2v1h-2zM8 43h1v1h-1zM26 43h1v1h-1zM28 43h1v1h-1zM30 43h1v1h-1zM35 43h1v1h-1zM40 43h1v1h-1zM4 44h2v1h-2zM10 44h1v1h-1zM18 44h1v1h-1zM20 44h1v1h-1zM27 44h2v1h-2zM30 44h1v1h-1zM38 44h1v1h-1zM42 44h1v1h-1zM5 45h1v1h-1zM12 45h1v1h-1zM14 45h1v1h-1zM16 45h1v1h-1zM25 45h1v1h-1zM35 45h1v1h-1zM40 45h1v1h-1zM42 45h1v1h-1zM6 46h1v1h-1zM10 46h1v1h-1zM13 46h1v1h-1zM29 46h1v1h-1zM31 46h1v1h-1zM41 46h1v1h-1zM43 46h1v1h-1zM5 47h1v1h-1zM8 47h1v1h-1zM12 47h1v1h-1zM14 47h3v1h-3zM38 47h1v1h-1zM44 47h1v1h-1zM46 47h1v1h-1zM6 48h1v1h-1zM8 48h1v1h-1zM14 48h1v1h-1zM22 48h1v1h-1zM27 48h1v1h-1zM31 48h1v1h-1zM34 48h1v1h-1zM38 48h2v1h-2zM42 48h1v1h-1zM48 48h2v1h-2zM3 49h1v1h-1zM6 49h1v1h-1zM27 49h1v1h-1z"/><path fill="rgb(128,48,20)" d="M12 0h1v1h-1zM14 0h1v1h-1zM21 0h1v1h-1zM23 0h1v1h-1zM27 0h1v1h-1zM33 0h1v1h-1zM22 1h1v1h-1zM30 1h1v1h-1zM40 1h1v1h-1zM49 1h1v1h-1zM1 2h2v1h-2zM4 2h1v1h-1zM6 2h1v1h-1zM36 2h1v1h-1zM39 2h2v1h-2zM44 2h2v1h-2zM4 3h1v1h-1zM27 3h2v1h-2zM30 3h1v1h-1zM40 3h1v1h-1zM7 4h1v1h-1zM9 4h1v1h-1zM19 4h1v1h-1zM27 4h1v1h-1zM40 4h1v1h-1zM49 4h1v1h-1zM1 5h1v1h-1zM27 5h1v1h-1zM34 5h1v1h-1zM36 5h1v1h-1zM48 5h1v1h-1zM15 6h1v1h-1zM25 6h1v1h-1zM31 6h1v1h-1zM38 6h1v1h-1zM45 6h1v1h-1zM4 7h1v1h-1zM9 7h1v1h-1zM12 7h1v1h-1zM23 7h1v1h-1zM42 7h1v1h-1zM4 8h1v1h-1zM43 8h1v1h-1zM48 8h1v1h-1zM1 9h1v1h-1zM3 9h2v1h-2zM21 9h1v1h-1zM23 9h1v1h-1zM27 9h1v1h-1zM37 9h1v1h-1zM13 10h1v1h-1zM19 10h1v1h-1zM22 10h2v1h-2zM30 10h2v1h-2zM38 10h1v1h-1zM44 10h1v1h-1zM47 10h2v1h-2zM5 11h1v1h-1zM7 11h1v1h-1zM10 11h1v1h-1zM15 11h1v1h-1zM19 11h1v1h-1zM21 11h1v1h-1zM25 11h1v1h-1zM33 11h1v1h-1zM39 11h1v1h-1zM44 11h2v1h-2zM49 11h1v1h-1zM1 12h1v1h-1zM5 12h1v1h-1zM8 12h1v1h-1zM11 12h1v1h-1zM18 12h1v1h-1zM21 12h1v1h-1zM24 12h1v1h-1zM41 12h1v1h-1zM44 12h1v1h-1zM49 12h1v1h-1zM4 13h2v1h-2zM20 13h1v1h-1zM22 13h1v1h-1zM37 13h1v1h-1zM39 13h1v1h-1zM41 13h1v1h-1zM7 14h1v1h-1zM10 14h1v1h-1zM13 14h1v1h-1zM15 14h2v1h-2zM23 14h1v1h-1zM28 14h2v1h-2zM32 14h1v1h-1zM43 14h1v1h-1zM16 15h1v1h-1zM25 15h1v1h-1zM27 15h1v1h-1zM48 15h1v1h-1zM2 16h1v1h-1zM5 16h1v1h-1zM38 16h1v1h-1zM8 17h1v1h-1zM16 17h2v1h-2zM19 17h1v1h-1zM46 17h1v1h-1zM2 18h1v1h-1zM8 18h1v1h-1zM13 18h1v1h-1zM16 18h1v1h-1zM21 18h1v1h-1zM32 18h1v1h-1zM34 18h1v1h-1zM39 18h1v1h-1zM41 18h2v1h-2zM15 19h1v1h-1zM22 19h1v1h-1zM27 19h2v1h-2zM34 19h2v1h-2zM38 19h1v1h-1zM44 19h1v1h-1zM46 19h1v1h-1zM1 20h1v1h-1zM5 20h1v1h-1zM7 20h2v1h-2zM13 20h1v1h-1zM16 20h1v1h-1zM21 20h2v1h-2zM30 20h1v1h-1zM36 20h1v1h-1zM38 20h1v1h-1zM45 21h2v1h-2zM0 22h1v1h-1zM3 22h1v1h-1zM23 22h1v1h-1zM33 22h1v1h-1zM49 22h1v1h-1zM2 23h1v1h-1zM19 23h2v1h-2zM46 23h1v1h-1zM2 24h1v1h-1zM5 24h1v1h-1zM26 24h1v1h-1zM31 24h2v1h-2zM40 24h1v1h-1zM46 24h1v1h-1zM49 24h1v1h-1zM1 25h1v1h-1zM33 25h2v1h-2zM43 25h1v1h-1zM45 25h1v1h-1zM5 26h1v1h-1zM9 26h1v1h-1zM12 26h1v1h-1zM16 26h2v1h-2zM31 26h1v1h-1zM36 26h2v1h-2zM39 26h1v1h-1zM41 26h1v1h-1zM45 26h1v1h-1zM5 27h1v1h-1zM12 27h1v1h-1zM21 27h2v1h-2zM30 27h1v1h-1zM34 27h1v1h-1zM38 27h1v1h-1zM19 28h1v1h-1zM25 28h1v1h-1zM28 28h1v1h-1zM32 28h2v1h-2zM43 28h1v1h-1zM5 29h1v1h-1zM8 29h1v1h-1zM14 29h1v1h-1zM25 29h1v1h-1zM33 29h1v1h-1zM39 29h1v1h-1zM47 29h1v1h-1zM0 30h1v1h-1zM3 30h1v1h-1zM14 30h1v1h-1zM19 30h2v1h-2zM34 30h1v1h-1zM36 30h1v1h-1zM42 30h2v1h-2zM46 30h1v1h-1zM7 31h1v1h-1zM10 31h1v1h-1zM14 31h1v1h-1zM24 31h2v1h-2zM29 31h1v1h-1zM33 31h1v1h-1zM47 31h1v1h-1zM5 32h2v1h-2zM21 32h1v1h-1zM35 32h1v1h-1zM38 32h1v1h-1zM43 32h1v1h-1zM45 32h1v1h-1zM3 33h1v1h-1zM9 33h1v1h-1zM11 33h1v1h-1zM13 33h1v1h-1zM20 33h1v1h-1zM26 33h2v1h-2zM37 33h1v1h-1zM39 33h1v1h-1zM0 34h1v1h-1zM7 34h1v1h-1zM15 34h1v1h-1zM35 34h1v1h-1zM42 34h1v1h-1zM7 35h1v1h-1zM10 35h1v1h-1zM15 35h2v1h-2zM18 35h1v1h-1zM21 35h1v1h-1zM33 35h1v1h-1zM43 35h2v1h-2zM0 36h1v1h-1zM2 36h2v1h-2zM17 36h2v1h-2zM2 37h1v1h-1zM6 37h1v1h-1zM15 37h1v1h-1zM23 37h1v1h-1zM25 37h1v1h-1zM31 37h1v1h-1zM37 37h1v1h-1zM41 37h1v1h-1zM45 37h1v1h-1zM48 37h1v1h-1zM5 38h3v1h-3zM12 38h1v1h-1zM19 38h1v1h-1zM28 38h1v1h-1zM34 38h2v1h-2zM45 38h1v1h-1zM49 38h1v1h-1zM7 39h1v1h-1zM24 39h1v1h-1zM49 39h1v1h-1zM0 40h1v1h-1zM5 40h1v1h-1zM13 40h1v1h-1zM24 40h1v1h-1zM30 40h1v1h-1zM36 40h2v1h-2zM45 40h1v1h-1zM2 41h1v1h-1zM25 41h1v1h-1zM28 41h1v1h-1zM36 41h1v1h-1zM40 41h1v1h-1zM43 41h1v1h-1zM1 42h2v1h-2zM21 42h1v1h-1zM28 42h1v1h-1zM30 42h1v1h-1zM37 42h2v1h-2zM49 42h1v1h-1zM4 43h1v1h-1zM7 43h1v1h-1zM12 43h1v1h-1zM22 43h2v1h-2zM33 43h2v1h-2zM37 43h1v1h-1zM2 44h1v1h-1zM16 44h1v1h-1zM23 44h1v1h-1zM26 44h1v1h-1zM39 44h1v1h-1zM41 44h1v1h-1zM46 44h1v1h-1zM0 45h1v1h-1zM9 45h1v1h-1zM30 45h1v1h-1zM34 45h1v1h-1zM36 45h1v1h-1zM48 45h2v1h-2zM18 46h1v1h-1zM40 46h1v1h-1zM6 47h2v1h-2zM18 47h1v1h-1zM32 47h1v1h-1zM35 47h1v1h-1zM0 48h1v1h-1zM3 48h1v1h-1zM10 48h1v1h-1zM16 48h1v1h-1zM24 48h1v1h-1zM28 48h1v1h-1zM36 48h1v1h-1zM41 48h1v1h-1zM8 49h2v1h-2zM18 49h1v1h-1zM22 49h1v1h-1zM25 49h1v1h-1zM35 49h1v1h-1zM43 49h1v1h-1z"/><path fill="rgb(165,36,22)" d="M3 0h1v1h-1zM6 0h1v1h-1zM19 0h1v1h-1zM35 0h2v1h-2zM42 0h1v1h-1zM47 0h1v1h-1zM5 1h1v1h-1zM33 1h1v1h-1zM12 2h1v1h-1zM16 2h1v1h-1zM21 2h1v1h-1zM42 2h1v1h-1zM46 2h1v1h-1zM13 3h1v1h-1zM15 3h1v1h-1zM18 3h1v1h-1zM22 3h1v1h-1zM37 3h1v1h-1zM39 3h1v1h-1zM42 3h1v1h-1zM15 4h1v1h-1zM24 4h1v1h-1zM37 4h1v1h-1zM43 4h1v1h-1zM2 5h4v1h-4zM13 5h1v1h-1zM35 5h1v1h-1zM43 5h1v1h-1zM45 5h1v1h-1zM3 6h1v1h-1zM8 6h1v1h-1zM12 6h1v1h-1zM22 6h1v1h-1zM28 6h1v1h-1zM30 6h1v1h-1zM42 6h1v1h-1zM1 7h1v1h-1zM6 7h1v1h-1zM8 7h1v1h-1zM18 7h1v1h-1zM22 7h1v1h-1zM27 7h1v1h-1zM33 7h1v1h-1zM36 7h1v1h-1zM3 8h1v1h-1zM5 8h1v1h-1zM13 8h1v1h-1zM20 8h1v1h-1zM27 8h1v1h-1zM36 8h1v1h-1zM40 8h1v1h-1zM47 8h1v1h-1zM5 9h1v1h-1zM9 9h1v1h-1zM12 9h1v1h-1zM15 9h1v1h-1zM25 9h2v1h-2zM43 9h1v1h-1zM9 10h1v1h-1zM14 10h1v1h-1zM40 10h1v1h-1zM1 11h1v1h-1zM13 11h1v1h-1zM16 11h1v1h-1zM29 11h2v1h-2zM34 11h1v1h-1zM42 11h1v1h-1zM26 12h1v1h-1zM34 12h2v1h-2zM48 12h1v1h-1zM2 13h1v1h-1zM15 13h1v1h-1zM21 13h1v1h-1zM24 13h2v1h-2zM36 13h1v1h-1zM47 13h1v1h-1zM2 14h1v1h-1zM14 14h1v1h-1zM17 14h2v1h-2zM48 14h1v1h-1zM1 15h1v1h-1zM5 15h1v1h-1zM9 15h1v1h-1zM19 15h1v1h-1zM23 15h1v1h-1zM34 15h1v1h-1zM4 16h1v1h-1zM18 16h1v1h-1zM23 16h2v1h-2zM30 16h1v1h-1zM39 16h1v1h-1zM45 16h1v1h-1zM49 16h1v1h-1zM0 17h1v1h-1zM5 17h1v1h-1zM18 17h1v1h-1zM23 17h1v1h-1zM34 17h1v1h-1zM38 17h1v1h-1zM40 17h1v1h-1zM30 18h1v1h-1zM35 18h1v1h-1zM38 18h1v1h-1zM47 18h2v1h-2zM4 19h1v1h-1zM7 19h2v1h-2zM33 19h1v1h-1zM0 20h1v1h-1zM20 20h1v1h-1zM37 20h1v1h-1zM43 20h2v1h-2zM46 20h2v1h-2zM0 21h1v1h-1zM5 21h1v1h-1zM9 21h1v1h-1zM12 21h1v1h-1zM14 21h1v1h-1zM16 21h1v1h-1zM26 21h1v1h-1zM30 21h2v1h-2zM43 21h1v1h-1zM1 22h1v1h-1zM10 22h1v1h-1zM12 22h1v1h-1zM17 22h1v1h-1zM20 22h1v1h-1zM22 22h1v1h-1zM31 22h1v1h-1zM44 22h1v1h-1zM0 23h1v1h-1zM13 23h1v1h-1zM28 23h1v1h-1zM33 23h1v1h-1zM40 23h2v1h-2zM44 23h2v1h-2zM3 24h1v1h-1zM12 24h1v1h-1zM14 24h1v1h-1zM33 24h1v1h-1zM45 24h1v1h-1zM2 25h1v1h-1zM7 25h1v1h-1zM12 25h1v1h-1zM20 25h1v1h-1zM23 25h2v1h-2zM1 26h1v1h-1zM6 26h1v1h-1zM10 26h1v1h-1zM18 26h1v1h-1zM22 26h1v1h-1zM35 26h1v1h-1zM8 27h1v1h-1zM10 27h1v1h-1zM13 27h1v1h-1zM27 27h1v1h-1zM40 27h1v1h-1zM42 27h2v1h-2zM46 27h1v1h-1zM49 27h1v1h-1zM3 28h1v1h-1zM12 28h1v1h-1zM20 28h2v1h-2zM29 28h1v1h-1zM39 28h1v1h-1zM42 28h1v1h-1zM46 28h1v1h-1zM4 29h1v1h-1zM6 29h1v1h-1zM11 29h1v1h-1zM13 29h1v1h-1zM16 29h1v1h-1zM32 29h1v1h-1zM36 29h1v1h-1zM38 29h1v1h-1zM40 29h1v1h-1zM42 29h1v1h-1zM1 30h1v1h-1zM8 30h1v1h-1zM13 30h1v1h-1zM16 30h1v1h-1zM18 30h1v1h-1zM26 30h1v1h-1zM32 30h1v1h-1zM38 30h1v1h-1zM6 31h1v1h-1zM8 31h1v1h-1zM12 31h1v1h-1zM21 31h1v1h-1zM23 31h1v1h-1zM30 31h1v1h-1zM32 31h1v1h-1zM34 31h1v1h-1zM37 31h2v1h-2zM11 32h1v1h-1zM16 32h1v1h-1zM18 32h1v1h-1zM27 32h1v1h-1zM36 32h1v1h-1zM5 33h1v1h-1zM7 33h1v1h-1zM14 33h1v1h-1zM43 33h1v1h-1zM4 34h1v1h-1zM25 34h1v1h-1zM31 34h1v1h-1zM39 34h1v1h-1zM41 34h1v1h-1zM5 35h2v1h-2zM8 35h1v1h-1zM14 35h1v1h-1zM32 35h1v1h-1zM14 36h1v1h-1zM19 36h1v1h-1zM22 36h1v1h-1zM30 36h2v1h-2zM3 37h1v1h-1zM13 37h1v1h-1zM16 37h1v1h-1zM21 37h1v1h-1zM26 37h1v1h-1zM28 37h1v1h-1zM40 37h1v1h-1zM49 37h1v1h-1zM4 38h1v1h-1zM21 38h1v1h-1zM24 38h2v1h-2zM31 38h1v1h-1zM40 38h1v1h-1zM42 38h1v1h-1zM11 39h1v1h-1zM18 39h4v1h-4zM25 39h1v1h-1zM28 39h1v1h-1zM32 39h1v1h-1zM38 39h1v1h-1zM1 40h1v1h-1zM8 40h2v1h-2zM11 40h1v1h-1zM43 40h1v1h-1zM7 41h1v1h-1zM10 41h1v1h-1zM14 41h1v1h-1zM22 41h2v1h-2zM26 41h1v1h-1zM38 41h1v1h-1zM3 42h4v1h-4zM19 42h1v1h-1zM31 42h1v1h-1zM36 42h1v1h-1zM45 42h1v1h-1zM47 42h2v1h-2zM6 43h1v1h-1zM11 43h1v1h-1zM20 43h1v1h-1zM25 43h1v1h-1zM42 43h2v1h-2zM8 44h1v1h-1zM12 44h2v1h-2zM21 44h1v1h-1zM47 44h1v1h-1zM11 45h1v1h-1zM17 45h1v1h-1zM16 46h1v1h-1zM19 46h2v1h-2zM28 46h1v1h-1zM33 46h1v1h-1zM39 46h1v1h-1zM44 46h1v1h-1zM48 46h1v1h-1zM17 47h1v1h-1zM20 47h1v1h-1zM24 47h1v1h-1zM31 47h1v1h-1zM40 47h1v1h-1zM42 47h1v1h-1zM15 48h1v1h-1zM20 48h1v1h-1zM35 48h1v1h-1zM37 48h1v1h-1zM40 48h1v1h-1zM47 48h1v1h-1zM15 49h1v1h-1zM21 49h1v1h-1zM30 49h1v1h-1zM37 49h2v1h-2z"/><path fill="rgb(65,50,20)" d="M13 1h1v1h-1zM19 1h2v1h-2zM23 1h1v1h-1zM37 1h1v1h-1zM9 2h1v1h-1zM19 2h1v1h-1zM22 2h1v1h-1zM29 2h1v1h-1zM17 3h1v1h-1zM11 4h1v1h-1zM13 4h2v1h-2zM25 4h1v1h-1zM0 5h1v1h-1zM6 5h1v1h-1zM9 6h1v1h-1zM7 7h1v1h-1zM16 7h1v1h-1zM19 7h1v1h-1zM24 7h1v1h-1zM30 7h1v1h-1zM44 7h1v1h-1zM8 8h1v1h-1zM16 8h1v1h-1zM17 9h1v1h-1zM32 9h1v1h-1zM34 9h1v1h-1zM44 9h3v1h-3zM7 10h1v1h-1zM46 10h1v1h-1zM9 11h1v1h-1zM17 11h1v1h-1zM0 12h1v1h-1zM10 12h1v1h-1zM45 13h1v1h-1zM36 14h1v1h-1zM6 15h1v1h-1zM20 15h1v1h-1zM7 16h1v1h-1zM19 16h1v1h-1zM22 16h1v1h-1zM6 17h1v1h-1zM12 17h1v1h-1zM6 18h1v1h-1zM9 19h1v1h-1zM11 19h1v1h-1zM25 19h1v1h-1zM39 19h1v1h-1zM43 19h1v1h-1zM3 20h1v1h-1zM27 20h1v1h-1zM45 20h1v1h-1zM3 21h1v1h-1zM19 21h2v1h-2zM28 21h1v1h-1zM2 22h1v1h-1zM4 22h1v1h-1zM7 22h1v1h-1zM16 23h1v1h-1zM18 23h1v1h-1zM22 23h1v1h-1zM34 24h2v1h-2zM42 24h1v1h-1zM18 25h1v1h-1zM27 25h1v1h-1zM44 25h1v1h-1zM2 26h1v1h-1zM7 26h2v1h-2zM14 26h1v1h-1zM18 27h1v1h-1zM1 28h1v1h-1zM49 29h1v1h-1zM28 32h1v1h-1zM39 32h1v1h-1zM46 32h1v1h-1zM45 33h2v1h-2zM13 34h1v1h-1zM19 34h1v1h-1zM28 34h1v1h-1zM32 34h1v1h-1zM22 35h1v1h-1zM48 35h1v1h-1zM21 36h1v1h-1zM35 36h1v1h-1zM37 36h1v1h-1zM47 36h1v1h-1zM5 37h1v1h-1zM17 37h1v1h-1zM43 37h1v1h-1zM23 38h1v1h-1zM44 39h2v1h-2zM47 39h1v1h-1zM4 40h1v1h-1zM16 40h1v1h-1zM34 41h1v1h-1zM14 42h1v1h-1zM29 42h1v1h-1zM19 43h1v1h-1zM31 43h1v1h-1zM1 44h1v1h-1zM7 44h1v1h-1zM11 44h1v1h-1zM15 44h1v1h-1zM24 44h1v1h-1zM13 45h1v1h-1zM22 45h2v1h-2zM46 45h1v1h-1zM3 46h2v1h-2zM7 46h1v1h-1zM9 46h1v1h-1zM47 46h1v1h-1zM32 48h1v1h-1zM46 48h1v1h-1zM20 49h1v1h-1zM31 49h2v1h-2zM46 49h1v1h-1z"/></pattern></defs>
<rect x="333" y="252.5" width="211" height="210.5" fill="url(#patD)" filter="url(#soft)"/>
<defs><linearGradient id="gD" x1="0.1" y1="0" x2="0.9" y2="1"><stop offset="0" stop-color="#60a030" stop-opacity="0.22"/><stop offset="0.5" stop-color="#908028" stop-opacity="0.1"/><stop offset="1" stop-color="#c04010" stop-opacity="0.3"/></linearGradient></defs>
<rect x="333" y="252.5" width="211" height="210.5" fill="url(#gD)"/>
<clipPath id="clipD"><rect x="333" y="252.5" width="211" height="210.5"/></clipPath>
<g clip-path="url(#clipD)">
<g filter="url(#blur05)" stroke="#3cc868" stroke-width="1.1" fill="none" opacity="0.82">
<path d="M333,303.8C334.5,301.92 338.62,296.25 342,292.5C345.38,288.75 349.17,285.05 353.3,281.3C357.43,277.55 362.68,273.2 366.8,270C370.92,266.8 374.63,264.35 378,262.1C381.37,259.85 384.67,258.02 387,256.5C389.33,254.98 391.17,253.58 392,253"/>
<path d="M336,320C338,317.33 344,308.83 348,304C352,299.17 356,295 360,291C364,287 367.83,283.33 372,280C376.17,276.67 380.67,273.83 385,271C389.33,268.17 393.83,265.17 398,263C402.17,260.83 408,258.83 410,258"/>
<path d="M342,342C344.25,339.75 351,332.62 355.5,328.5C360,324.38 364.12,321.05 369,317.3C373.88,313.55 379.55,309.75 384.8,306C390.05,302.25 395.25,298.17 400.5,294.8C405.75,291.43 411.42,288.05 416.3,285.8C421.18,283.55 426.02,282.43 429.8,281.3C433.58,280.17 437.47,279.38 439,279"/>
<path d="M346.5,351C349.13,348.75 357.05,342 362.3,337.5C367.55,333 373.13,328.12 378,324C382.87,319.88 387,316.92 391.5,312.8C396,308.68 401.25,303.43 405,299.3C408.75,295.17 412.5,289.88 414,288"/>
<path d="M371.3,283.5C374.3,283.68 383.3,284.6 389.3,284.6C395.3,284.6 401.68,284.25 407.3,283.5C412.92,282.75 417.72,281.22 423,280.1C428.28,278.98 436.33,277.35 439,276.8"/>
<path d="M391.5,258.8C393.75,259.92 400.5,263.63 405,265.5C409.5,267.37 414,268.87 418.5,270C423,271.13 427.58,271.72 432,272.3C436.42,272.88 442.83,273.3 445,273.5"/>
<path d="M336,255.5C338.33,255.58 345.62,255.78 350,256C354.38,256.22 360.25,256.67 362.3,256.8"/>
<path d="M414,290.3C413.25,292.17 411,297.75 409.5,301.5C408,305.25 406.5,309.05 405,312.8C403.5,316.55 401.25,322.13 400.5,324"/>
<path d="M457,254.3C459.25,255.05 466,257.12 470.5,258.8C475,260.48 479.5,262.35 484,264.4C488.5,266.45 492.62,269.6 497.5,271.1C502.38,272.6 508.05,272.65 513.3,273.4C518.55,274.15 523.72,275.03 529,275.6C534.28,276.17 542.33,276.6 545,276.8"/>
<path d="M490.8,253.1C493.05,254.42 500.18,258.75 504.3,261C508.42,263.25 512.13,264.72 515.5,266.6C518.87,268.48 521.5,270.98 524.5,272.3C527.5,273.62 532,274.13 533.5,274.5"/>
<path d="M450.3,270C452.17,270.57 457.38,272.27 461.5,273.4C465.62,274.53 470.87,276.43 475,276.8C479.13,277.17 484.42,275.8 486.3,275.6"/>
<path d="M477.3,276.8C475.8,278.67 471.3,284.25 468.3,288C465.3,291.75 461.93,295.55 459.3,299.3C456.67,303.05 454.75,306.75 452.5,310.5C450.25,314.25 446.92,319.92 445.8,321.8"/>
<path d="M472.8,281.3C471.3,283.17 466.62,288.75 463.8,292.5C460.98,296.25 458.35,299.67 455.9,303.8C453.45,307.93 450.23,315.05 449.1,317.3"/>
<path d="M484,292.5C483.25,295.5 481,304.5 479.5,310.5C478,316.5 476.5,322.5 475,328.5C473.5,334.5 471.62,341.58 470.5,346.5C469.38,351.42 469.05,354.08 468.3,358C467.55,361.92 466.38,368 466,370"/>
<path d="M490.8,297C490.05,300 487.8,309 486.3,315C484.8,321 482.93,327 481.8,333C480.67,339 479.88,348 479.5,351"/>
<path d="M490.8,290.3C492.67,292.55 498.63,298.93 502,303.8C505.37,308.67 508.37,313.88 511,319.5C513.63,325.12 515.55,331.08 517.8,337.5C520.05,343.92 523.38,354.58 524.5,358"/>
<path d="M497.5,310.5C500.13,310.88 508.05,313.17 513.3,312.8C518.55,312.43 524.88,309.43 529,308.3C533.12,307.17 536.5,306.38 538,306"/>
<path d="M513.3,319.5C514.8,321.75 520.05,328.12 522.3,333C524.55,337.88 525.68,344.63 526.8,348.8C527.92,352.97 528.63,356.47 529,358"/>
<path d="M538,292C538.75,293.83 541.33,300 542.5,303C543.67,306 544.58,308.83 545,310"/>
<path d="M333,368.3C334.88,367.17 340.92,363.38 344.3,361.5C347.68,359.62 351.8,357.75 353.3,357"/>
<path d="M333,406.5C335.25,405.75 342,403.5 346.5,402C351,400.5 354.75,399.37 360,397.5C365.25,395.63 372,393.05 378,390.8C384,388.55 390,386.25 396,384C402,381.75 408,379.55 414,377.3C420,375.05 427.83,372 432,370.5C436.17,369 437.83,368.67 439,368.3"/>
<path d="M360,424.5C363,424.13 372.37,421.92 378,422.3C383.63,422.68 388.92,425.3 393.8,426.8C398.68,428.3 402.43,430.18 407.3,431.3C412.17,432.42 417.72,433.32 423,433.5C428.28,433.68 436.33,432.58 439,432.4"/>
<path d="M378,411C380.25,411 387,411.57 391.5,411C396,410.43 400.5,409.1 405,407.6C409.5,406.1 414,404.05 418.5,402C423,399.95 428.58,397.17 432,395.3C435.42,393.43 437.83,391.55 439,390.8"/>
<path d="M333,415.5C333.38,418.5 334.73,427.5 335.3,433.5C335.87,439.5 336.22,448.5 336.4,451.5"/>
<path d="M407,449C409.67,449.42 417.67,450.72 423,451.5C428.33,452.28 436.33,453.33 439,453.7"/>
<path d="M494.1,377.3C492.42,379.55 487.55,385.93 484,390.8C480.45,395.67 476.55,401.63 472.8,406.5C469.05,411.37 464.88,416.25 461.5,420C458.12,423.75 455.5,425.25 452.5,429C449.5,432.75 445.75,439.12 443.5,442.5C441.25,445.88 439.75,448.17 439,449.3"/>
<path d="M475,384C473.5,386.25 469,392.62 466,397.5C463,402.38 460,408.42 457,413.3C454,418.18 450.43,422.68 448,426.8C445.57,430.92 443.33,436.13 442.4,438"/>
<path d="M493,399.8C491.88,402.42 488.17,410.25 486.3,415.5C484.43,420.75 483.12,426.05 481.8,431.3C480.48,436.55 479.35,441.72 478.4,447C477.45,452.28 476.48,460.33 476.1,463"/>
<path d="M511,370.5C511.38,372.75 513.3,378.75 513.3,384C513.3,389.25 512.13,396 511,402C509.87,408 507.62,414 506.5,420C505.38,426 505.05,432 504.3,438C503.55,444 502.57,451.83 502,456C501.43,460.17 501.08,461.83 500.9,463"/>
<path d="M524.5,395.3C524.13,398.3 523.42,407.3 522.3,413.3C521.18,419.3 519.68,425.68 517.8,431.3C515.92,436.92 513.25,441.72 511,447C508.75,452.28 505.42,460.33 504.3,463"/>
<path d="M542.5,429C541.95,432 540.12,441.33 539.2,447C538.28,452.67 537.37,460.33 537,463"/>
<path d="M439,451.5C440.88,450 446.17,445.12 450.3,442.5C454.43,439.88 459.68,437.67 463.8,435.8C467.92,433.93 473.13,432.05 475,431.3"/>
<path d="M333,332C334.17,330.83 337.67,327.33 340,325C342.33,322.67 345.83,319.17 347,318"/>
<path d="M362,357C361,359.17 358.17,365.83 356,370C353.83,374.17 351.33,378.33 349,382C346.67,385.67 343.17,390.33 342,392"/>
<path d="M506,372C506.5,373.33 508.33,376.67 509,380C509.67,383.33 510.17,387.83 510,392C509.83,396.17 508.33,402.83 508,405"/>
<path d="M455,357C454.5,358.83 453.17,364.17 452,368C450.83,371.83 448.67,378 448,380"/>
<path d="M439,400C439.83,398.67 442.33,394.5 444,392C445.67,389.5 448.17,386.17 449,385"/>
<path d="M520,357C520.5,359.17 522.17,365.5 523,370C523.83,374.5 524.67,381.67 525,384"/>
</g><g filter="url(#blur1)">
<ellipse cx="365.7" cy="258.8" rx="4.73" ry="4.73" fill="#b80c22" opacity="0.9"/>
<ellipse cx="364.77" cy="257.87" rx="2.93" ry="2.93" fill="#c80a24" opacity="0.63"/>
<ellipse cx="365.16" cy="257.04" rx="2.93" ry="2.93" fill="#c80a24" opacity="0.63"/>
<ellipse cx="336.4" cy="282.4" rx="3.68" ry="6.3" fill="#b80c22" opacity="0.8"/>
<ellipse cx="336.6" cy="279.62" rx="2.27" ry="3.9" fill="#c80a24" opacity="0.56"/>
<ellipse cx="335.64" cy="285.33" rx="2.27" ry="3.9" fill="#c80a24" opacity="0.56"/>
<ellipse cx="435.5" cy="271.1" rx="3.68" ry="3.68" fill="#b80c22" opacity="0.7"/>
<ellipse cx="436.43" cy="270.96" rx="2.27" ry="2.27" fill="#c80a24" opacity="0.49"/>
<ellipse cx="433.99" cy="272.86" rx="2.27" ry="2.27" fill="#c80a24" opacity="0.49"/>
<ellipse cx="419.7" cy="298.2" rx="5.78" ry="8.4" fill="#b80c22" opacity="0.95"/>
<ellipse cx="420.93" cy="295.61" rx="3.58" ry="5.2" fill="#c80a24" opacity="0.66"/>
<ellipse cx="418.7" cy="299.45" rx="3.58" ry="5.2" fill="#c80a24" opacity="0.66"/>
<ellipse cx="351" cy="314" rx="3.68" ry="5.25" fill="#b80c22" opacity="0.85"/>
<ellipse cx="351.7" cy="312.68" rx="2.27" ry="3.25" fill="#c80a24" opacity="0.59"/>
<ellipse cx="352.74" cy="313.02" rx="2.27" ry="3.25" fill="#c80a24" opacity="0.59"/>
<ellipse cx="336.4" cy="320.7" rx="3.68" ry="6.83" fill="#b80c22" opacity="0.9"/>
<ellipse cx="335.45" cy="323.17" rx="2.27" ry="4.23" fill="#c80a24" opacity="0.63"/>
<ellipse cx="335.07" cy="322" rx="2.27" ry="4.23" fill="#c80a24" opacity="0.63"/>
<ellipse cx="379.2" cy="330.8" rx="5.25" ry="6.83" fill="#b80c22" opacity="0.95"/>
<ellipse cx="377.55" cy="331.5" rx="3.25" ry="4.23" fill="#c80a24" opacity="0.66"/>
<ellipse cx="377.98" cy="329.93" rx="3.25" ry="4.23" fill="#c80a24" opacity="0.66"/>
<ellipse cx="437.7" cy="336.5" rx="2.62" ry="3.68" fill="#b80c22" opacity="0.7"/>
<ellipse cx="438.91" cy="336.37" rx="1.62" ry="2.27" fill="#c80a24" opacity="0.49"/>
<ellipse cx="437.53" cy="336.95" rx="1.62" ry="2.27" fill="#c80a24" opacity="0.49"/>
<ellipse cx="442.5" cy="272.3" rx="5.25" ry="5.25" fill="#b80c22" opacity="0.9"/>
<ellipse cx="441.29" cy="270.51" rx="3.25" ry="3.25" fill="#c80a24" opacity="0.63"/>
<ellipse cx="441.87" cy="271.05" rx="3.25" ry="3.25" fill="#c80a24" opacity="0.63"/>
<ellipse cx="481" cy="259.5" rx="5.78" ry="4.73" fill="#b80c22" opacity="0.95"/>
<ellipse cx="479.12" cy="261.78" rx="3.58" ry="2.93" fill="#c80a24" opacity="0.66"/>
<ellipse cx="478.18" cy="261.04" rx="3.58" ry="2.93" fill="#c80a24" opacity="0.66"/>
<ellipse cx="492" cy="263" rx="6.3" ry="5.78" fill="#b80c22" opacity="0.95"/>
<ellipse cx="494.87" cy="264.24" rx="3.9" ry="3.58" fill="#c80a24" opacity="0.66"/>
<ellipse cx="488.83" cy="263.01" rx="3.9" ry="3.58" fill="#c80a24" opacity="0.66"/>
<ellipse cx="502" cy="268.5" rx="5.78" ry="4.73" fill="#b80c22" opacity="0.95"/>
<ellipse cx="499.21" cy="269.03" rx="3.58" ry="2.93" fill="#c80a24" opacity="0.66"/>
<ellipse cx="503.21" cy="267.21" rx="3.58" ry="2.93" fill="#c80a24" opacity="0.66"/>
<ellipse cx="538.2" cy="261" rx="4.73" ry="4.2" fill="#b80c22" opacity="0.85"/>
<ellipse cx="535.76" cy="261.2" rx="2.93" ry="2.6" fill="#c80a24" opacity="0.59"/>
<ellipse cx="536.19" cy="260.16" rx="2.93" ry="2.6" fill="#c80a24" opacity="0.59"/>
<ellipse cx="539.3" cy="288" rx="4.73" ry="4.2" fill="#b80c22" opacity="0.85"/>
<ellipse cx="539.07" cy="289.74" rx="2.93" ry="2.6" fill="#c80a24" opacity="0.59"/>
<ellipse cx="538.66" cy="286.39" rx="2.93" ry="2.6" fill="#c80a24" opacity="0.59"/>
<ellipse cx="479.7" cy="334.2" rx="3.68" ry="3.68" fill="#b80c22" opacity="0.8"/>
<ellipse cx="480.82" cy="335.44" rx="2.27" ry="2.27" fill="#c80a24" opacity="0.56"/>
<ellipse cx="479.81" cy="332.46" rx="2.27" ry="2.27" fill="#c80a24" opacity="0.56"/>
<ellipse cx="499.9" cy="343.2" rx="4.73" ry="4.73" fill="#b80c22" opacity="0.9"/>
<ellipse cx="498.35" cy="342.72" rx="2.93" ry="2.93" fill="#c80a24" opacity="0.63"/>
<ellipse cx="500.16" cy="341.84" rx="2.93" ry="2.93" fill="#c80a24" opacity="0.63"/>
<ellipse cx="377.3" cy="377.6" rx="7.35" ry="5.25" fill="#b80c22" opacity="0.95"/>
<ellipse cx="379.63" cy="379.49" rx="4.55" ry="3.25" fill="#c80a24" opacity="0.66"/>
<ellipse cx="380.57" cy="379.71" rx="4.55" ry="3.25" fill="#c80a24" opacity="0.66"/>
<ellipse cx="410.3" cy="361.7" rx="4.2" ry="3.68" fill="#b80c22" opacity="0.8"/>
<ellipse cx="408.18" cy="362.02" rx="2.6" ry="2.27" fill="#c80a24" opacity="0.56"/>
<ellipse cx="408.45" cy="363.24" rx="2.6" ry="2.27" fill="#c80a24" opacity="0.56"/>
<ellipse cx="346.6" cy="392.4" rx="5.25" ry="4.2" fill="#b80c22" opacity="0.9"/>
<ellipse cx="347.96" cy="393.54" rx="3.25" ry="2.6" fill="#c80a24" opacity="0.63"/>
<ellipse cx="344.89" cy="390.46" rx="3.25" ry="2.6" fill="#c80a24" opacity="0.63"/>
<ellipse cx="370.5" cy="411.7" rx="8.4" ry="6.83" fill="#b80c22" opacity="0.95"/>
<ellipse cx="373.27" cy="412.46" rx="5.2" ry="4.23" fill="#c80a24" opacity="0.66"/>
<ellipse cx="371.56" cy="411.49" rx="5.2" ry="4.23" fill="#c80a24" opacity="0.66"/>
<ellipse cx="430.7" cy="384.4" rx="5.25" ry="5.25" fill="#b80c22" opacity="0.9"/>
<ellipse cx="432.35" cy="383.51" rx="3.25" ry="3.25" fill="#c80a24" opacity="0.63"/>
<ellipse cx="429.43" cy="383.59" rx="3.25" ry="3.25" fill="#c80a24" opacity="0.63"/>
<ellipse cx="428.5" cy="398" rx="3.68" ry="4.73" fill="#b80c22" opacity="0.8"/>
<ellipse cx="427.72" cy="398.63" rx="2.27" ry="2.93" fill="#c80a24" opacity="0.56"/>
<ellipse cx="430" cy="395.88" rx="2.27" ry="2.93" fill="#c80a24" opacity="0.56"/>
<ellipse cx="410.3" cy="421.9" rx="4.2" ry="3.68" fill="#b80c22" opacity="0.8"/>
<ellipse cx="408.4" cy="421.95" rx="2.6" ry="2.27" fill="#c80a24" opacity="0.56"/>
<ellipse cx="411.08" cy="420.71" rx="2.6" ry="2.27" fill="#c80a24" opacity="0.56"/>
<ellipse cx="348.9" cy="431" rx="5.78" ry="7.35" fill="#b80c22" opacity="0.95"/>
<ellipse cx="347.51" cy="427.6" rx="3.58" ry="4.55" fill="#c80a24" opacity="0.66"/>
<ellipse cx="346.1" cy="430.96" rx="3.58" ry="4.55" fill="#c80a24" opacity="0.66"/>
<ellipse cx="433" cy="439" rx="5.78" ry="4.73" fill="#b80c22" opacity="0.9"/>
<ellipse cx="434.09" cy="439.76" rx="3.58" ry="2.93" fill="#c80a24" opacity="0.63"/>
<ellipse cx="430.93" cy="437.04" rx="3.58" ry="2.93" fill="#c80a24" opacity="0.63"/>
<ellipse cx="420.5" cy="453.7" rx="4.2" ry="3.68" fill="#b80c22" opacity="0.8"/>
<ellipse cx="422.4" cy="453.85" rx="2.6" ry="2.27" fill="#c80a24" opacity="0.56"/>
<ellipse cx="420.1" cy="454.43" rx="2.6" ry="2.27" fill="#c80a24" opacity="0.56"/>
<ellipse cx="533.5" cy="362.8" rx="8.4" ry="5.78" fill="#b80c22" opacity="0.95"/>
<ellipse cx="535.5" cy="362.95" rx="5.2" ry="3.58" fill="#c80a24" opacity="0.66"/>
<ellipse cx="529.79" cy="364.78" rx="5.2" ry="3.58" fill="#c80a24" opacity="0.66"/>
<ellipse cx="521" cy="392.4" rx="4.2" ry="4.2" fill="#b80c22" opacity="0.8"/>
<ellipse cx="519.74" cy="390.38" rx="2.6" ry="2.6" fill="#c80a24" opacity="0.56"/>
<ellipse cx="520.35" cy="392.54" rx="2.6" ry="2.6" fill="#c80a24" opacity="0.56"/>
<ellipse cx="477.8" cy="407" rx="3.68" ry="3.68" fill="#b80c22" opacity="0.75"/>
<ellipse cx="478.29" cy="405.75" rx="2.27" ry="2.27" fill="#c80a24" opacity="0.52"/>
<ellipse cx="478.61" cy="406.98" rx="2.27" ry="2.27" fill="#c80a24" opacity="0.52"/>
<ellipse cx="511.9" cy="409.4" rx="3.15" ry="3.15" fill="#b80c22" opacity="0.7"/>
<ellipse cx="510.78" cy="410.56" rx="1.95" ry="1.95" fill="#c80a24" opacity="0.49"/>
<ellipse cx="512.91" cy="410.74" rx="1.95" ry="1.95" fill="#c80a24" opacity="0.49"/>
<ellipse cx="467.5" cy="428.7" rx="8.4" ry="5.78" fill="#b80c22" opacity="0.9"/>
<ellipse cx="469.08" cy="426.99" rx="5.2" ry="3.58" fill="#c80a24" opacity="0.63"/>
<ellipse cx="469.94" cy="431.14" rx="5.2" ry="3.58" fill="#c80a24" opacity="0.63"/>
<ellipse cx="491.4" cy="427.6" rx="3.68" ry="3.15" fill="#b80c22" opacity="0.75"/>
<ellipse cx="491.53" cy="428.95" rx="2.27" ry="1.95" fill="#c80a24" opacity="0.52"/>
<ellipse cx="493.21" cy="427.24" rx="2.27" ry="1.95" fill="#c80a24" opacity="0.52"/>
<ellipse cx="522" cy="441.2" rx="3.68" ry="3.68" fill="#b80c22" opacity="0.7"/>
<ellipse cx="523.7" cy="442.88" rx="2.27" ry="2.27" fill="#c80a24" opacity="0.49"/>
<ellipse cx="523.13" cy="439.32" rx="2.27" ry="2.27" fill="#c80a24" opacity="0.49"/>
<ellipse cx="513" cy="456" rx="4.73" ry="3.68" fill="#b80c22" opacity="0.8"/>
<ellipse cx="512.27" cy="456.44" rx="2.93" ry="2.27" fill="#c80a24" opacity="0.56"/>
<ellipse cx="513.53" cy="456.98" rx="2.93" ry="2.27" fill="#c80a24" opacity="0.56"/>
<ellipse cx="540.3" cy="442.4" rx="3.68" ry="7.35" fill="#b80c22" opacity="0.8"/>
<ellipse cx="540.87" cy="439.79" rx="2.27" ry="4.55" fill="#c80a24" opacity="0.56"/>
<ellipse cx="541.96" cy="442.68" rx="2.27" ry="4.55" fill="#c80a24" opacity="0.56"/>
<polyline points="438,333 446,340 454,347 462,354 470,360 480,363" stroke="#c80c26" stroke-width="7" fill="none" stroke-linecap="round" opacity="0.9"/>
</g></g>
<g fill="#fff" font-size="17.5">
<text x="342.6" y="222.6" textLength="30" lengthAdjust="spacingAndGlyphs">500</text><text x="386.2" y="222.6" textLength="20" lengthAdjust="spacingAndGlyphs">nm</text>
<text x="338.6" y="452.3" textLength="30.5" lengthAdjust="spacingAndGlyphs">500</text><text x="382.3" y="452.3" textLength="20.5" lengthAdjust="spacingAndGlyphs">nm</text>
</g>
<rect x="341" y="226" width="40.4" height="2.4" fill="#fff"/>
<rect x="337.6" y="456.6" width="41.4" height="2.4" fill="#fff"/>
<text x="335.3" y="42.4" font-size="19.5" font-weight="bold" textLength="24.7" lengthAdjust="spacingAndGlyphs">(c)</text>
<text x="334.5" y="272.8" font-size="19.5" font-weight="bold" textLength="24.1" lengthAdjust="spacingAndGlyphs">(d)</text>
<text x="380.5" y="18.8" font-size="9" font-weight="bold" fill="#111" textLength="116.8" lengthAdjust="spacingAndGlyphs">p-DTS(FBTTh<tspan font-size="6" dy="1.5">2</tspan><tspan dy="-1.5">)</tspan><tspan font-size="6" dy="1.5">2</tspan><tspan dy="-1.5">/PC</tspan><tspan font-size="6" dy="1.5">71</tspan><tspan dy="-1.5">BM/PS</tspan></text>
<text x="369.3" y="247.6" font-size="9" font-weight="bold" fill="#111" textLength="137.8" lengthAdjust="spacingAndGlyphs">p-DTS(FBTTh<tspan font-size="6" dy="1.5">2</tspan><tspan dy="-1.5">)</tspan><tspan font-size="6" dy="1.5">2</tspan><tspan dy="-1.5">/PC</tspan><tspan font-size="6" dy="1.5">71</tspan><tspan dy="-1.5">BM/PS/DIO</tspan></text>
</svg>
</body></html>
